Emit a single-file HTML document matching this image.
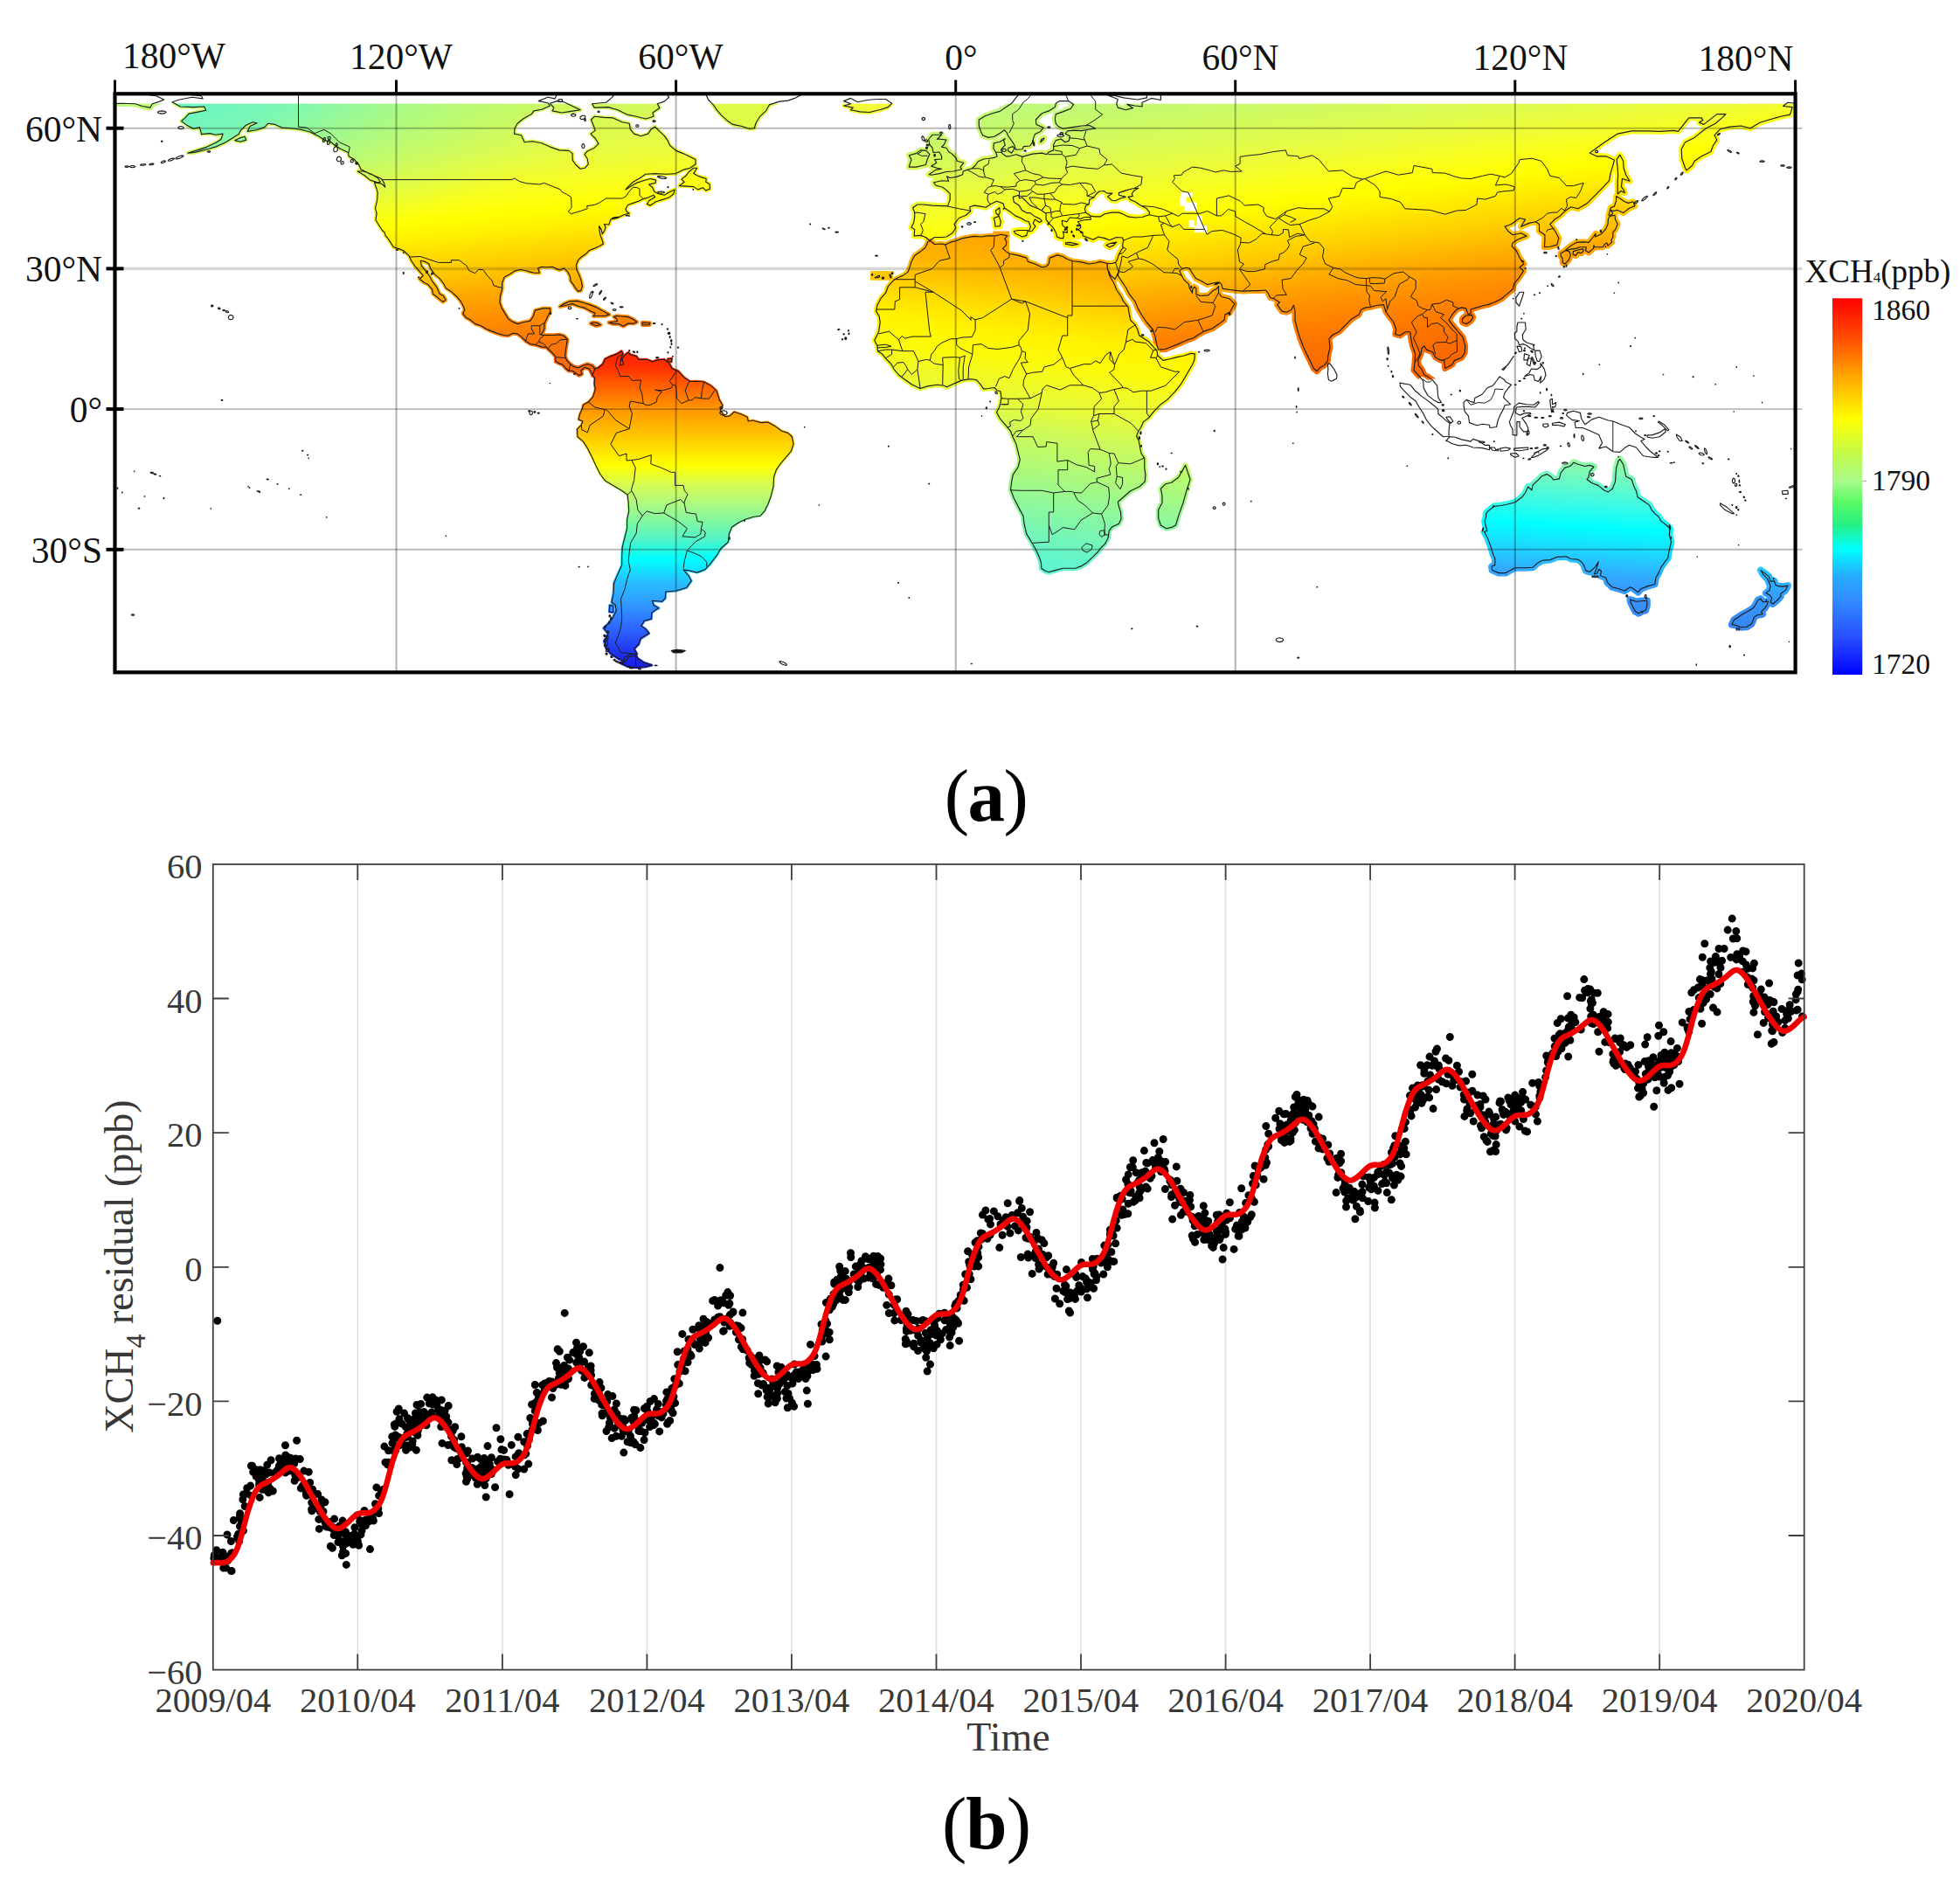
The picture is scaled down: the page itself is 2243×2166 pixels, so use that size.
<!DOCTYPE html><html><head><meta charset="utf-8"><title>XCH4</title><style>html,body{margin:0;padding:0;background:#fff}svg{display:block}text{font-family:"Liberation Serif",serif}</style></head><body>
<svg width="2243" height="2166" viewBox="0 0 2243 2166">
<defs>
<linearGradient id="gNA" gradientUnits="userSpaceOnUse" x1="514.5" y1="-40.8" x2="605.5" y2="869.9">
<stop offset="0.1353" stop-color="#c0fa6c"/>
<stop offset="0.1706" stop-color="#c8fa64"/>
<stop offset="0.2059" stop-color="#d4fa58"/>
<stop offset="0.2353" stop-color="#e1fb4b"/>
<stop offset="0.2647" stop-color="#eefc37"/>
<stop offset="0.2941" stop-color="#fafe19"/>
<stop offset="0.3176" stop-color="#ffff00"/>
<stop offset="0.3412" stop-color="#ffee00"/>
<stop offset="0.3647" stop-color="#ffd700"/>
<stop offset="0.3882" stop-color="#ffc300"/>
<stop offset="0.4118" stop-color="#ffaa00"/>
<stop offset="0.4412" stop-color="#ff9100"/>
<stop offset="0.4706" stop-color="#fc7d05"/>
<stop offset="0.5118" stop-color="#f8690c"/>
</linearGradient>
<linearGradient id="gSA" gradientUnits="userSpaceOnUse" x1="1000.0" y1="-40.8" x2="1000.0" y2="869.9">
<stop offset="0.4824" stop-color="#ff1e00"/>
<stop offset="0.5059" stop-color="#ff3000"/>
<stop offset="0.5294" stop-color="#ff6000"/>
<stop offset="0.5588" stop-color="#ff9600"/>
<stop offset="0.5882" stop-color="#ffc000"/>
<stop offset="0.6118" stop-color="#ffe400"/>
<stop offset="0.6294" stop-color="#ffff00"/>
<stop offset="0.6529" stop-color="#d8fc50"/>
<stop offset="0.6765" stop-color="#b0fa80"/>
<stop offset="0.7000" stop-color="#80f8a0"/>
<stop offset="0.7235" stop-color="#50f4c8"/>
<stop offset="0.7471" stop-color="#00ffff"/>
<stop offset="0.7765" stop-color="#28beff"/>
<stop offset="0.8059" stop-color="#3296ff"/>
<stop offset="0.8353" stop-color="#2c64ff"/>
<stop offset="0.8647" stop-color="#2032f0"/>
<stop offset="0.8882" stop-color="#1818e0"/>
</linearGradient>
<linearGradient id="gAF" gradientUnits="userSpaceOnUse" x1="1249.2" y1="-40.8" x2="1130.8" y2="869.9">
<stop offset="0.3353" stop-color="#ffa500"/>
<stop offset="0.3588" stop-color="#ffa800"/>
<stop offset="0.3824" stop-color="#ffb000"/>
<stop offset="0.4118" stop-color="#ffc400"/>
<stop offset="0.4412" stop-color="#ffe000"/>
<stop offset="0.4706" stop-color="#fff400"/>
<stop offset="0.5000" stop-color="#fcfa0a"/>
<stop offset="0.5294" stop-color="#f0fa28"/>
<stop offset="0.5588" stop-color="#e4fa3c"/>
<stop offset="0.5882" stop-color="#cdfa5a"/>
<stop offset="0.6176" stop-color="#b9fa6e"/>
<stop offset="0.6471" stop-color="#a5f984"/>
<stop offset="0.6765" stop-color="#8ef89c"/>
<stop offset="0.7059" stop-color="#7af6b2"/>
<stop offset="0.7353" stop-color="#66f5c8"/>
<stop offset="0.7647" stop-color="#5af5d7"/>
</linearGradient>
<linearGradient id="gEU" gradientUnits="userSpaceOnUse" x1="1645.4" y1="-40.8" x2="1754.6" y2="869.9">
<stop offset="0.1176" stop-color="#bffa78"/>
<stop offset="0.1529" stop-color="#cdfa64"/>
<stop offset="0.1882" stop-color="#defb4e"/>
<stop offset="0.2176" stop-color="#eefc37"/>
<stop offset="0.2471" stop-color="#fafe19"/>
<stop offset="0.2706" stop-color="#ffff00"/>
<stop offset="0.2941" stop-color="#ffee00"/>
<stop offset="0.3176" stop-color="#ffda00"/>
<stop offset="0.3412" stop-color="#ffc600"/>
<stop offset="0.3647" stop-color="#ffaf00"/>
<stop offset="0.3941" stop-color="#ff9600"/>
<stop offset="0.4235" stop-color="#ff8200"/>
<stop offset="0.4529" stop-color="#fc7300"/>
<stop offset="0.4824" stop-color="#fa6900"/>
<stop offset="0.5412" stop-color="#fa6400"/>
</linearGradient>
<linearGradient id="gAS" gradientUnits="userSpaceOnUse" x1="1645.4" y1="-40.8" x2="1754.6" y2="869.9">
<stop offset="0.1176" stop-color="#bffa78"/>
<stop offset="0.1529" stop-color="#cdfa64"/>
<stop offset="0.1882" stop-color="#defb4e"/>
<stop offset="0.2176" stop-color="#eefc37"/>
<stop offset="0.2471" stop-color="#fafe19"/>
<stop offset="0.2706" stop-color="#ffff00"/>
<stop offset="0.2941" stop-color="#ffee00"/>
<stop offset="0.3176" stop-color="#ffda00"/>
<stop offset="0.3412" stop-color="#ffc600"/>
<stop offset="0.3647" stop-color="#ffaf00"/>
<stop offset="0.3941" stop-color="#ff9600"/>
<stop offset="0.4235" stop-color="#ff8200"/>
<stop offset="0.4529" stop-color="#fc7300"/>
<stop offset="0.4824" stop-color="#fa6900"/>
<stop offset="0.5412" stop-color="#fa6400"/>
</linearGradient>
<linearGradient id="gAU" gradientUnits="userSpaceOnUse" x1="1837.3" y1="-40.8" x2="1782.7" y2="869.9">
<stop offset="0.6118" stop-color="#96faa0"/>
<stop offset="0.6235" stop-color="#91faa5"/>
<stop offset="0.6471" stop-color="#6efac3"/>
<stop offset="0.6765" stop-color="#3cfae6"/>
<stop offset="0.7059" stop-color="#00ffff"/>
<stop offset="0.7353" stop-color="#1ed7ff"/>
<stop offset="0.7647" stop-color="#32aaff"/>
<stop offset="0.7882" stop-color="#3796fa"/>
<stop offset="0.8118" stop-color="#378af5"/>
<stop offset="0.8353" stop-color="#3782f5"/>
</linearGradient>
<radialGradient id="gAK" gradientUnits="userSpaceOnUse" cx="150" cy="95" r="540" gradientTransform="translate(150,95) scale(1,0.36) translate(-150,-95)"><stop offset="0" stop-color="#5af5d2" stop-opacity="1"/><stop offset="0.35" stop-color="#6ef7c3" stop-opacity="0.85"/><stop offset="0.7" stop-color="#96fa9b" stop-opacity="0.36"/><stop offset="1" stop-color="#b4fa78" stop-opacity="0"/></radialGradient>
<linearGradient id="gEUo" gradientUnits="userSpaceOnUse" x1="1030" y1="0" x2="1403" y2="0"><stop offset="0" stop-color="#8cfa96" stop-opacity="0.36"/><stop offset="0.5" stop-color="#8cfa96" stop-opacity="0.30"/><stop offset="1" stop-color="#8cfa96" stop-opacity="0"/></linearGradient>
<clipPath id="euclip"><rect x="934" y="118.8" width="480" height="159.1"/></clipPath>
<linearGradient id="cbar" x1="0" y1="0" x2="0" y2="1">
<stop offset="0" stop-color="#ff0000"/>
<stop offset="0.11" stop-color="#ff5000"/>
<stop offset="0.21" stop-color="#ffa800"/>
<stop offset="0.32" stop-color="#ffff00"/>
<stop offset="0.41" stop-color="#c4fa46"/>
<stop offset="0.487" stop-color="#a8fa8c"/>
<stop offset="0.54" stop-color="#5cfa64"/>
<stop offset="0.6" stop-color="#28f082"/>
<stop offset="0.666" stop-color="#00ffff"/>
<stop offset="0.74" stop-color="#28aaff"/>
<stop offset="0.8" stop-color="#328cff"/>
<stop offset="0.9" stop-color="#2850ff"/>
<stop offset="1" stop-color="#0000ff"/>
</linearGradient>
<clipPath id="mapclip"><rect x="131.5" y="107.3" width="1923.1" height="662.0"/></clipPath>
<clipPath id="fillclip"><rect x="131.5" y="118.8" width="1923.1" height="650.5"/></clipPath>
</defs>
<g clip-path="url(#fillclip)">
<path d="M205.4 95.8L207.0 101.7L216.1 105.4L220.4 108.6L230.5 109.7L232.1 112.9L219.8 111.3L205.4 114.0L196.9 116.7L206.5 122.0L221.4 122.6L233.7 122.0L235.8 126.3L227.8 127.9L216.1 130.1L211.8 134.9L207.6 138.6L213.4 142.9L221.4 147.2L228.4 145.6L230.0 151.0L230.5 153.6L240.1 152.6L246.5 154.2L255.1 153.1L252.9 159.5L247.0 163.3L236.9 168.1L225.7 171.9L215.0 175.1L223.0 174.5L230.5 172.4L239.0 170.3L248.1 167.6L258.3 162.8L265.2 158.5L273.2 153.6L275.3 149.4L281.2 143.5L289.2 139.7L294.0 140.8L286.0 144.5L283.3 150.4L293.5 148.8L302.5 145.6L306.8 141.3L314.8 142.4L322.8 146.1L333.5 146.7L344.1 148.3L354.8 151.0L364.4 155.8L370.8 160.1L378.8 162.8L384.1 167.0L390.5 170.8L398.6 174.5L399.1 178.8L405.5 182.6L410.8 188.5L413.0 193.8L421.5 198.1L427.9 200.8L436.4 204.5L439.6 209.4L440.7 214.2L437.0 210.4L428.4 208.8L431.1 216.3L432.2 220.6L431.6 229.2L429.5 238.3L431.1 244.2L430.0 251.7L433.2 257.0L437.5 263.5L440.2 266.1L441.2 269.9L443.4 272.0L446.6 276.9L450.3 282.7L457.2 284.9L462.0 287.0L467.9 292.4L471.1 298.8L475.4 305.2L480.2 310.6L484.4 315.4L480.2 319.2L485.5 323.5L489.8 325.6L494.6 331.0L495.6 336.3L501.5 341.1L506.8 345.4L510.0 343.3L507.4 338.5L503.1 336.3L499.9 328.8L495.1 322.4L491.9 316.5L487.6 310.6L482.3 304.2L481.2 298.3L486.6 299.4L490.8 302.0L493.0 307.9L497.8 314.4L503.1 318.6L507.4 324.0L510.6 329.9L516.4 333.6L522.8 339.5L526.6 343.8L529.8 349.2L531.9 354.5L529.8 358.8L533.5 363.6L537.8 365.8L544.2 370.6L550.6 372.7L555.9 376.0L561.8 378.6L568.7 381.3L576.2 383.5L581.5 384.0L586.9 381.3L592.2 381.9L597.5 386.1L601.8 390.4L607.1 393.6L613.5 394.7L619.9 396.9L625.3 397.4L626.9 399.0L631.7 403.3L635.9 408.1L635.9 413.5L639.7 415.6L643.9 417.2L647.1 421.0L650.9 424.2L655.1 424.2L658.9 426.9L662.6 429.5L665.8 427.9L664.7 424.2L669.0 420.4L674.4 422.0L676.5 425.8L678.1 429.5L680.8 422.0L677.6 418.3L672.2 416.7L667.4 418.3L661.5 421.0L656.2 419.4L651.9 416.1L648.7 412.4L646.6 408.1L647.1 401.7L648.2 395.2L649.3 388.3L645.5 384.5L640.2 382.9L633.8 383.5L626.3 383.5L621.5 383.5L619.4 382.9L622.6 377.0L623.1 370.1L626.3 363.1L629.5 356.7L629.5 352.9L621.5 352.9L612.5 355.1L610.3 362.0L606.6 367.4L600.2 368.5L592.2 370.6L585.8 367.9L581.5 364.7L578.3 359.4L574.1 352.4L571.9 346.0L572.5 338.5L574.6 331.0L574.6 323.5L577.3 317.0L584.2 313.3L589.0 310.1L594.9 308.5L601.3 309.5L606.6 311.1L611.9 312.2L617.3 312.2L615.7 306.9L619.9 305.2L625.3 305.8L632.2 305.2L637.5 307.9L640.7 309.0L645.5 306.9L649.8 311.1L652.5 316.5L653.0 321.3L656.2 325.6L658.3 329.4L661.5 333.1L664.7 332.6L666.3 327.7L665.3 321.9L663.1 315.4L659.9 308.5L659.4 303.1L661.5 297.7L665.3 294.0L670.1 290.8L674.4 286.5L679.7 284.4L685.6 281.7L690.4 279.0L688.8 273.6L687.2 269.9L686.1 264.5L685.6 258.6L688.2 262.9L689.3 267.7L692.0 263.5L693.0 259.7L691.4 256.5L696.8 257.0L698.9 251.1L704.2 249.5L709.6 247.9L713.8 245.8L717.6 244.7L720.2 244.2L717.0 242.0L716.0 238.8L718.6 234.5L724.5 232.4L730.9 230.2L736.2 227.6L741.6 226.0L748.0 223.3L749.6 225.4L742.6 229.7L740.5 233.5L744.2 235.1L750.6 230.8L757.6 228.6L765.6 226.0L770.9 221.7L772.0 216.9L766.6 219.5L760.2 223.3L753.3 221.7L748.5 219.0L746.9 214.7L742.6 211.0L750.1 209.4L750.6 206.1L744.2 204.5L736.2 206.7L728.2 209.4L721.3 213.6L716.0 216.9L719.2 213.1L724.5 208.3L732.0 204.0L738.9 199.2L749.6 198.6L762.9 199.2L773.6 198.6L781.6 194.4L789.6 192.2L796.0 187.9L796.0 182.6L788.5 178.8L781.6 175.6L773.6 172.4L766.6 166.5L764.0 160.6L760.2 155.3L754.9 150.4L749.6 145.1L745.3 147.8L741.6 153.1L733.6 155.8L725.6 153.1L721.3 147.8L720.2 141.3L712.2 139.7L701.6 134.9L690.9 134.4L680.2 133.3L676.5 137.0L679.2 143.5L681.3 149.4L676.0 153.1L681.3 158.5L685.0 164.4L680.2 169.2L672.2 172.9L669.0 176.7L672.2 181.5L673.3 187.9L669.5 192.2L664.2 193.3L658.9 188.5L655.1 183.1L655.1 175.6L650.9 172.4L640.2 171.9L629.5 168.1L619.9 163.8L609.3 161.7L600.2 162.8L596.5 154.7L588.5 153.1L589.0 146.7L592.2 141.3L598.6 136.0L608.2 130.6L610.9 126.9L619.9 125.3L629.5 121.0L626.9 117.8L616.2 115.6L626.9 111.3L634.9 112.9L637.5 108.1L645.5 101.1L656.2 95.8L560.2 90.4L346.8 90.4Z" fill="url(#gNA)" stroke="url(#gNA)" stroke-width="4.5" stroke-linejoin="round"/>
<path d="M205.4 95.8L207.0 101.7L216.1 105.4L220.4 108.6L230.5 109.7L232.1 112.9L219.8 111.3L205.4 114.0L196.9 116.7L206.5 122.0L221.4 122.6L233.7 122.0L235.8 126.3L227.8 127.9L216.1 130.1L211.8 134.9L207.6 138.6L213.4 142.9L221.4 147.2L228.4 145.6L230.0 151.0L230.5 153.6L240.1 152.6L246.5 154.2L255.1 153.1L252.9 159.5L247.0 163.3L236.9 168.1L225.7 171.9L215.0 175.1L223.0 174.5L230.5 172.4L239.0 170.3L248.1 167.6L258.3 162.8L265.2 158.5L273.2 153.6L275.3 149.4L281.2 143.5L289.2 139.7L294.0 140.8L286.0 144.5L283.3 150.4L293.5 148.8L302.5 145.6L306.8 141.3L314.8 142.4L322.8 146.1L333.5 146.7L344.1 148.3L354.8 151.0L364.4 155.8L370.8 160.1L378.8 162.8L384.1 167.0L390.5 170.8L398.6 174.5L399.1 178.8L405.5 182.6L410.8 188.5L413.0 193.8L421.5 198.1L427.9 200.8L436.4 204.5L439.6 209.4L440.7 214.2L437.0 210.4L428.4 208.8L431.1 216.3L432.2 220.6L431.6 229.2L429.5 238.3L431.1 244.2L430.0 251.7L433.2 257.0L437.5 263.5L440.2 266.1L441.2 269.9L443.4 272.0L446.6 276.9L450.3 282.7L457.2 284.9L462.0 287.0L467.9 292.4L471.1 298.8L475.4 305.2L480.2 310.6L484.4 315.4L480.2 319.2L485.5 323.5L489.8 325.6L494.6 331.0L495.6 336.3L501.5 341.1L506.8 345.4L510.0 343.3L507.4 338.5L503.1 336.3L499.9 328.8L495.1 322.4L491.9 316.5L487.6 310.6L482.3 304.2L481.2 298.3L486.6 299.4L490.8 302.0L493.0 307.9L497.8 314.4L503.1 318.6L507.4 324.0L510.6 329.9L516.4 333.6L522.8 339.5L526.6 343.8L529.8 349.2L531.9 354.5L529.8 358.8L533.5 363.6L537.8 365.8L544.2 370.6L550.6 372.7L555.9 376.0L561.8 378.6L568.7 381.3L576.2 383.5L581.5 384.0L586.9 381.3L592.2 381.9L597.5 386.1L601.8 390.4L607.1 393.6L613.5 394.7L619.9 396.9L625.3 397.4L626.9 399.0L631.7 403.3L635.9 408.1L635.9 413.5L639.7 415.6L643.9 417.2L647.1 421.0L650.9 424.2L655.1 424.2L658.9 426.9L662.6 429.5L665.8 427.9L664.7 424.2L669.0 420.4L674.4 422.0L676.5 425.8L678.1 429.5L680.8 422.0L677.6 418.3L672.2 416.7L667.4 418.3L661.5 421.0L656.2 419.4L651.9 416.1L648.7 412.4L646.6 408.1L647.1 401.7L648.2 395.2L649.3 388.3L645.5 384.5L640.2 382.9L633.8 383.5L626.3 383.5L621.5 383.5L619.4 382.9L622.6 377.0L623.1 370.1L626.3 363.1L629.5 356.7L629.5 352.9L621.5 352.9L612.5 355.1L610.3 362.0L606.6 367.4L600.2 368.5L592.2 370.6L585.8 367.9L581.5 364.7L578.3 359.4L574.1 352.4L571.9 346.0L572.5 338.5L574.6 331.0L574.6 323.5L577.3 317.0L584.2 313.3L589.0 310.1L594.9 308.5L601.3 309.5L606.6 311.1L611.9 312.2L617.3 312.2L615.7 306.9L619.9 305.2L625.3 305.8L632.2 305.2L637.5 307.9L640.7 309.0L645.5 306.9L649.8 311.1L652.5 316.5L653.0 321.3L656.2 325.6L658.3 329.4L661.5 333.1L664.7 332.6L666.3 327.7L665.3 321.9L663.1 315.4L659.9 308.5L659.4 303.1L661.5 297.7L665.3 294.0L670.1 290.8L674.4 286.5L679.7 284.4L685.6 281.7L690.4 279.0L688.8 273.6L687.2 269.9L686.1 264.5L685.6 258.6L688.2 262.9L689.3 267.7L692.0 263.5L693.0 259.7L691.4 256.5L696.8 257.0L698.9 251.1L704.2 249.5L709.6 247.9L713.8 245.8L717.6 244.7L720.2 244.2L717.0 242.0L716.0 238.8L718.6 234.5L724.5 232.4L730.9 230.2L736.2 227.6L741.6 226.0L748.0 223.3L749.6 225.4L742.6 229.7L740.5 233.5L744.2 235.1L750.6 230.8L757.6 228.6L765.6 226.0L770.9 221.7L772.0 216.9L766.6 219.5L760.2 223.3L753.3 221.7L748.5 219.0L746.9 214.7L742.6 211.0L750.1 209.4L750.6 206.1L744.2 204.5L736.2 206.7L728.2 209.4L721.3 213.6L716.0 216.9L719.2 213.1L724.5 208.3L732.0 204.0L738.9 199.2L749.6 198.6L762.9 199.2L773.6 198.6L781.6 194.4L789.6 192.2L796.0 187.9L796.0 182.6L788.5 178.8L781.6 175.6L773.6 172.4L766.6 166.5L764.0 160.6L760.2 155.3L754.9 150.4L749.6 145.1L745.3 147.8L741.6 153.1L733.6 155.8L725.6 153.1L721.3 147.8L720.2 141.3L712.2 139.7L701.6 134.9L690.9 134.4L680.2 133.3L676.5 137.0L679.2 143.5L681.3 149.4L676.0 153.1L681.3 158.5L685.0 164.4L680.2 169.2L672.2 172.9L669.0 176.7L672.2 181.5L673.3 187.9L669.5 192.2L664.2 193.3L658.9 188.5L655.1 183.1L655.1 175.6L650.9 172.4L640.2 171.9L629.5 168.1L619.9 163.8L609.3 161.7L600.2 162.8L596.5 154.7L588.5 153.1L589.0 146.7L592.2 141.3L598.6 136.0L608.2 130.6L610.9 126.9L619.9 125.3L629.5 121.0L626.9 117.8L616.2 115.6L626.9 111.3L634.9 112.9L637.5 108.1L645.5 101.1L656.2 95.8L560.2 90.4L346.8 90.4Z" fill="url(#gAK)"/>
<path d="M805.6 93.1L816.3 99.5L807.7 108.1L810.9 114.5L816.3 119.9L820.0 125.3L825.3 131.7L832.3 138.1L838.7 142.4L849.3 144.5L857.3 147.2L863.2 146.7L865.3 140.3L869.6 133.3L876.5 126.9L880.3 119.9L892.0 116.1L901.6 115.1L909.6 112.4L920.3 106.5L944.3 102.2L965.6 95.8L965.6 82.4L805.6 82.4Z" fill="#dcfc46" stroke="#dcfc46" stroke-width="5" stroke-linejoin="round"/>
<path d="M765.6 111.3L760.2 116.1L752.2 118.8L754.9 123.6L746.9 129.0L748.0 133.3L738.9 136.0L728.2 133.3L717.6 131.1L706.9 125.8L696.2 122.6L680.2 123.1L677.6 118.8L693.6 117.2L700.0 111.9L704.2 106.5L698.9 101.1L688.2 95.8L720.2 90.4L752.2 103.8L762.9 107.6Z" fill="url(#gNA)" stroke="url(#gNA)" stroke-width="4.5" stroke-linejoin="round"/>
<path d="M629.5 118.3L637.5 115.6L645.5 116.7L656.2 122.0L664.2 125.8L653.5 127.4L642.9 129.0L632.2 126.9L633.8 123.1Z" fill="url(#gNA)" stroke="url(#gNA)" stroke-width="4.5" stroke-linejoin="round"/>
<path d="M777.3 212.6L783.2 208.3L780.0 205.1L784.8 201.3L788.5 196.5L793.8 192.2L797.6 192.2L793.8 198.6L797.6 200.8L802.9 202.9L808.2 204.5L807.7 208.3L812.0 210.4L812.5 216.3L807.7 217.9L804.5 214.7L798.6 216.9L793.8 213.6L785.3 213.1Z" fill="url(#gNA)" stroke="url(#gNA)" stroke-width="4.5" stroke-linejoin="round"/>
<path d="M409.2 196.0L417.2 200.8L423.6 206.1L432.2 208.8L435.4 208.3L432.2 203.5L425.2 199.2L416.2 196.0Z" fill="url(#gNA)" stroke="url(#gNA)" stroke-width="4.5" stroke-linejoin="round"/>
<path d="M409.2 196.0L417.2 200.8L423.6 206.1L432.2 208.8L435.4 208.3L432.2 203.5L425.2 199.2L416.2 196.0Z" fill="url(#gAK)"/>
<path d="M268.9 160.6L275.3 162.2L281.7 160.1L280.1 156.3L274.3 157.9Z" fill="url(#gNA)" stroke="url(#gNA)" stroke-width="4.5" stroke-linejoin="round"/>
<path d="M268.9 160.6L275.3 162.2L281.7 160.1L280.1 156.3L274.3 157.9Z" fill="url(#gAK)"/>
<path d="M640.7 350.8L645.5 347.6L651.9 344.9L660.5 344.4L667.9 346.5L674.9 348.6L682.9 351.9L689.3 355.6L697.3 359.9L692.0 361.5L682.9 361.5L679.2 361.8L681.3 358.3L676.0 356.1L669.5 352.4L661.5 350.2L655.1 347.6L648.2 349.2Z" fill="url(#gNA)" stroke="url(#gNA)" stroke-width="4.5" stroke-linejoin="round"/>
<path d="M696.8 369.0L701.6 370.6L708.0 370.6L713.3 373.3L718.6 370.1L725.6 370.1L728.8 368.5L724.5 365.2L718.6 362.6L711.2 362.0L705.3 361.5L702.6 362.6L705.8 364.7L706.4 367.9L701.0 368.5Z" fill="url(#gNA)" stroke="url(#gNA)" stroke-width="4.5" stroke-linejoin="round"/>
<path d="M676.0 370.1L681.8 372.7L687.2 371.7L683.4 369.5L678.6 369.0Z" fill="url(#gNA)" stroke="url(#gNA)" stroke-width="4.5" stroke-linejoin="round"/>
<path d="M735.2 371.7L743.2 371.7L743.7 369.5L735.2 369.0Z" fill="url(#gNA)" stroke="url(#gNA)" stroke-width="4.5" stroke-linejoin="round"/>
<path d="M678.1 429.5L680.8 432.7L680.2 438.6L681.3 445.6L678.6 454.2L673.3 460.1L667.4 463.3L666.3 468.1L663.7 473.5L662.1 479.9L666.9 482.0L665.3 486.3L660.5 491.1L661.0 499.7L667.4 505.1L672.2 512.6L677.6 523.3L681.8 532.4L686.6 542.0L692.5 550.1L701.6 555.4L712.2 561.8L718.1 566.1L719.2 575.2L719.7 584.9L717.6 594.5L717.6 604.7L714.9 615.4L712.2 626.1L711.7 636.8L711.7 646.5L706.9 657.2L702.6 667.4L702.1 678.6L700.0 689.3L704.2 692.0L705.3 698.5L701.6 706.5L696.2 713.5L690.9 718.8L696.2 725.2L691.4 733.3L693.6 741.3L698.9 747.7L706.9 753.1L713.8 756.3L715.4 751.5L722.9 748.3L728.8 748.5L725.6 742.4L730.9 737.0L733.0 730.6L742.6 724.7L738.9 719.9L733.6 716.1L737.3 710.2L745.3 708.1L745.8 701.1L750.6 697.4L753.8 695.8L748.0 692.6L746.4 687.2L757.6 688.3L761.3 684.5L761.8 677.0L773.6 676.0L785.8 672.2L791.2 664.7L788.0 658.8L782.1 651.8L788.5 652.9L797.6 655.1L806.6 651.8L813.1 644.9L820.5 635.2L824.8 627.7L833.3 620.2L834.4 610.6L837.6 603.1L845.6 597.7L853.6 594.0L862.7 591.3L870.1 590.2L874.9 584.9L879.2 576.3L882.4 567.2L885.1 556.5L885.6 545.8L888.3 537.7L893.6 530.2L898.9 523.8L905.3 516.3L908.0 508.3L906.4 499.7L901.6 495.4L894.7 493.3L886.7 487.4L878.7 483.1L870.7 483.6L861.6 481.0L856.3 482.0L855.2 477.2L848.3 474.0L840.3 471.3L834.9 476.1L829.6 476.7L824.3 469.7L826.9 463.8L823.2 457.4L820.0 447.2L813.6 441.3L805.6 437.0L797.6 436.2L789.6 436.5L782.6 431.7L776.2 424.7L769.3 422.0L765.6 415.6L760.2 411.3L752.2 411.9L746.9 414.0L740.0 411.3L730.9 411.3L728.2 407.6L721.8 406.0L719.2 403.3L714.9 406.5L711.7 410.8L713.8 416.7L709.6 418.3L710.6 410.8L712.8 404.9L711.2 401.7L705.3 405.4L698.9 407.6L692.5 410.8L689.8 416.7L684.5 421.0L680.8 422.0Z" fill="url(#gSA)" stroke="url(#gSA)" stroke-width="3" stroke-linejoin="round"/>
<path d="M727.7 749.9L718.6 752.0L716.0 756.8L709.6 758.4L717.6 762.2L728.2 763.8L738.9 762.7L745.8 761.1L737.3 758.4L729.8 753.6Z" fill="url(#gSA)" stroke="url(#gSA)" stroke-width="3" stroke-linejoin="round"/>
<path d="M768.2 744.5L774.6 743.4L784.2 744.5L780.0 746.7L770.9 746.7Z" fill="#111111" stroke="#111111" stroke-width="1" stroke-linejoin="round"/>
<path d="M697.8 692.6L701.6 693.1L701.6 700.6L697.3 700.1Z" fill="url(#gSA)" stroke="url(#gSA)" stroke-width="3" stroke-linejoin="round"/>
<path d="M763.4 414.0L768.2 414.0L768.8 410.2L764.5 410.8Z" fill="url(#gSA)" stroke="url(#gSA)" stroke-width="3" stroke-linejoin="round"/>
<path d="M1200.3 82.4L1171.0 102.8L1163.0 111.3L1157.7 118.3L1151.3 122.6L1144.3 127.4L1136.3 129.5L1127.3 132.8L1120.3 137.0L1120.3 144.0L1122.5 150.4L1124.6 154.7L1131.0 157.4L1137.9 156.3L1144.9 152.0L1149.7 148.8L1152.3 152.0L1153.9 155.8L1157.1 160.1L1160.9 166.0L1161.9 169.7L1163.0 171.3L1169.9 170.8L1171.5 167.6L1178.5 167.0L1181.7 162.8L1182.7 157.9L1184.3 153.6L1190.7 150.4L1193.9 146.1L1185.9 142.4L1185.4 137.0L1189.1 132.8L1192.9 129.5L1200.3 126.9L1207.3 122.6L1208.3 118.3L1212.6 115.6L1222.7 115.6L1228.6 119.4L1225.4 124.2L1216.3 127.9L1208.3 130.6L1207.3 136.0L1208.3 141.3L1211.0 144.5L1216.3 147.2L1227.0 145.6L1237.7 144.0L1246.8 143.5L1253.7 146.9L1245.7 148.3L1237.7 149.6L1229.7 149.1L1221.7 149.9L1219.0 153.1L1224.3 155.8L1223.3 161.1L1219.0 162.8L1214.2 159.0L1208.3 160.6L1205.7 165.4L1205.7 171.9L1200.3 174.0L1197.7 176.7L1192.3 175.1L1181.7 176.1L1169.9 179.4L1163.0 176.7L1155.0 178.8L1151.3 178.8L1147.0 175.6L1145.4 171.3L1150.2 166.0L1148.6 160.6L1150.2 158.7L1144.3 162.2L1137.4 163.8L1136.9 169.7L1139.5 174.0L1141.1 178.8L1137.9 180.4L1131.0 181.5L1125.7 182.0L1119.3 184.7L1116.1 189.5L1112.3 192.8L1107.0 194.4L1102.2 196.0L1101.7 199.7L1094.7 202.4L1087.2 203.5L1083.5 201.9L1085.6 207.2L1077.6 206.7L1068.6 208.8L1070.7 212.0L1078.7 214.2L1083.0 217.4L1087.2 221.7L1087.2 228.6L1084.6 235.6L1077.6 235.6L1067.0 235.1L1056.3 234.0L1049.9 234.0L1044.6 237.7L1046.7 243.1L1046.7 248.5L1045.6 254.9L1043.0 260.2L1046.7 262.4L1046.2 269.9L1053.6 269.4L1059.5 271.5L1063.8 275.2L1069.6 271.5L1077.6 271.5L1083.0 271.0L1089.9 266.7L1093.7 260.8L1092.0 256.5L1097.4 249.5L1105.4 246.3L1110.7 241.5L1109.7 236.7L1115.0 235.1L1121.9 236.1L1128.3 237.2L1133.7 233.5L1140.6 230.2L1148.1 232.9L1149.7 238.3L1156.6 242.6L1161.9 246.9L1168.3 249.5L1173.7 252.7L1177.4 253.8L1179.5 259.2L1177.4 264.8L1180.6 264.5L1184.9 259.2L1182.2 255.4L1184.3 251.1L1189.7 254.4L1192.3 252.7L1189.7 250.1L1183.8 247.4L1179.0 243.6L1174.7 243.6L1169.4 240.4L1166.2 235.1L1160.3 231.3L1159.3 225.4L1165.7 223.3L1166.7 227.0L1169.9 226.0L1174.7 230.8L1179.0 235.1L1187.0 238.3L1192.3 241.0L1197.1 244.2L1197.1 251.1L1200.3 255.4L1204.6 259.7L1206.7 262.9L1208.9 267.2L1209.4 271.0L1213.7 272.6L1216.9 272.6L1217.4 268.3L1216.3 265.1L1221.7 266.1L1220.6 261.9L1215.8 257.6L1215.3 252.2L1220.6 253.8L1224.3 249.0L1232.3 249.5L1236.6 250.6L1240.4 248.7L1247.8 248.2L1248.4 251.1L1240.4 251.7L1233.4 253.8L1236.6 257.6L1236.6 260.8L1233.9 262.9L1238.8 266.1L1239.3 269.9L1244.1 271.5L1251.0 274.2L1256.9 271.0L1264.4 272.6L1269.7 274.7L1277.7 271.5L1284.6 272.0L1285.7 275.2L1284.6 280.6L1285.2 283.3L1283.0 286.5L1280.4 291.3L1278.8 296.7L1276.6 300.4L1272.4 301.5L1267.0 301.5L1267.3 307.4L1270.8 314.9L1276.1 319.4L1278.2 314.9L1280.4 310.1L1279.3 315.4L1283.0 320.8L1288.4 328.8L1292.6 336.9L1299.0 344.9L1302.2 352.9L1307.0 361.0L1312.4 369.0L1319.3 377.0L1322.0 385.1L1324.1 395.8L1325.7 400.1L1333.7 399.5L1341.7 396.3L1349.7 393.1L1357.7 389.4L1365.7 386.7L1372.1 382.4L1379.1 378.6L1387.1 376.0L1395.1 370.6L1400.9 366.3L1402.0 359.9L1407.3 357.7L1412.7 347.6L1406.8 341.7L1397.7 339.5L1394.5 334.7L1394.5 327.2L1392.4 330.4L1388.1 332.6L1382.8 337.9L1373.7 338.5L1368.9 336.9L1368.9 329.9L1366.8 328.3L1364.6 331.5L1364.6 335.2L1361.4 329.9L1360.4 325.1L1355.0 320.2L1352.4 315.4L1349.7 310.1L1352.9 307.4L1357.7 306.3L1361.4 307.4L1364.6 312.7L1368.4 318.6L1374.2 321.3L1381.7 325.6L1390.3 323.5L1395.1 322.9L1397.7 325.1L1399.3 330.4L1407.3 331.5L1416.4 332.6L1422.3 333.1L1432.4 332.6L1440.4 332.6L1448.4 332.0L1451.1 335.2L1453.7 340.6L1458.0 341.7L1464.4 346.0L1461.7 348.6L1467.1 356.1L1472.4 357.2L1477.7 354.5L1480.4 349.2L1482.0 355.6L1482.0 366.3L1484.7 377.0L1487.3 385.6L1491.1 395.8L1495.3 404.9L1500.1 414.5L1503.3 421.5L1507.1 424.7L1510.8 420.4L1515.1 418.3L1519.4 412.9L1519.9 406.5L1522.0 397.9L1521.0 387.7L1524.7 383.5L1532.7 379.2L1539.1 372.7L1547.1 364.7L1555.1 359.9L1557.8 354.0L1563.1 351.9L1568.4 351.3L1576.4 349.2L1583.4 348.6L1586.0 356.7L1589.8 362.0L1595.1 369.0L1597.8 377.0L1596.7 382.4L1602.0 384.0L1608.4 379.7L1613.8 379.7L1614.8 387.7L1616.4 395.8L1619.6 404.9L1619.1 414.5L1618.0 423.6L1624.4 430.6L1628.7 436.0L1629.2 444.0L1634.0 452.6L1640.4 457.4L1645.8 460.6L1649.5 460.6L1645.8 454.7L1645.2 447.7L1644.7 441.3L1639.4 434.9L1634.0 431.1L1629.8 429.0L1627.1 422.6L1623.4 418.3L1622.8 411.9L1626.0 404.9L1627.1 398.5L1629.8 395.8L1632.4 400.1L1639.4 402.7L1643.1 409.2L1648.4 411.9L1652.7 412.4L1653.8 421.5L1661.8 417.2L1664.5 412.4L1672.5 409.2L1676.2 403.8L1676.7 395.8L1674.1 386.1L1669.8 380.8L1663.4 373.3L1658.1 366.3L1662.3 359.4L1667.1 354.0L1672.5 351.9L1677.8 352.9L1679.9 359.4L1683.1 358.8L1683.1 354.0L1690.1 351.9L1699.1 349.2L1702.9 348.6L1709.8 346.0L1717.8 342.2L1724.2 336.9L1731.1 331.0L1732.7 324.5L1738.1 318.1L1743.4 310.1L1739.1 305.8L1743.9 302.0L1739.1 295.1L1735.4 287.0L1730.1 281.7L1731.1 277.9L1736.5 274.2L1747.1 269.9L1740.7 266.7L1731.1 268.8L1725.8 264.5L1722.1 259.2L1729.5 256.5L1739.1 249.5L1745.5 251.1L1740.7 259.2L1749.8 255.4L1757.3 253.8L1761.5 256.5L1761.5 264.5L1767.9 268.8L1767.9 275.2L1767.4 282.7L1773.8 282.2L1781.8 280.1L1783.9 272.6L1779.7 264.5L1773.8 256.5L1779.1 251.1L1785.5 246.9L1790.9 241.5L1797.8 236.7L1805.8 238.8L1816.5 232.4L1824.5 224.4L1832.5 216.3L1841.6 206.7L1843.2 197.6L1845.8 189.5L1847.4 183.1L1837.8 178.8L1827.2 178.8L1819.2 175.1L1827.2 169.2L1837.8 161.7L1851.2 153.1L1867.2 149.9L1885.8 149.9L1899.2 150.4L1915.2 149.4L1920.5 150.4L1930.1 138.1L1932.8 134.9L1947.2 134.9L1948.8 137.6L1944.5 140.3L1949.9 142.4L1964.8 130.6L1974.9 130.6L1971.2 134.4L1963.2 141.3L1952.5 146.7L1939.2 157.4L1928.5 162.8L1924.2 170.8L1924.8 181.5L1928.5 192.2L1930.1 194.9L1936.5 189.5L1939.2 184.2L1947.2 178.8L1957.9 173.5L1960.5 166.5L1964.8 160.1L1962.1 154.7L1968.5 147.8L1979.2 145.1L1992.5 144.0L2003.2 146.7L2013.9 140.3L2024.5 137.0L2037.9 133.3L2048.5 131.1L2051.2 122.6L2040.5 121.5L2045.9 117.2L2059.2 118.8L2059.2 82.4Z" fill="url(#gAS)" stroke="url(#gAS)" stroke-width="7" stroke-linejoin="round"/>
<path d="M128.1 118.8L138.8 118.3L154.8 118.8L162.8 121.5L171.8 123.1L174.5 118.8L182.5 116.1L187.8 114.0L178.8 109.7L162.8 107.6L144.1 102.8L128.1 99.0Z" fill="url(#gAS)" stroke="url(#gAS)" stroke-width="7" stroke-linejoin="round"/>
<path d="M1065.9 200.2L1075.0 198.6L1083.0 196.5L1091.0 196.0L1100.6 193.8L1099.0 191.1L1102.7 186.3L1095.3 184.2L1094.2 181.0L1089.4 176.1L1085.6 173.5L1083.0 169.2L1077.6 168.1L1080.3 165.4L1083.0 160.1L1075.0 159.0L1072.3 159.5L1077.6 154.2L1067.0 154.2L1062.7 159.5L1063.8 165.4L1067.0 169.2L1068.0 174.5L1075.0 174.0L1077.6 178.8L1077.6 182.0L1069.6 182.6L1071.8 186.3L1065.9 190.1L1072.3 192.2L1077.6 193.3L1070.7 194.4L1063.2 199.7Z" fill="url(#gEU)" stroke="url(#gEU)" stroke-width="7" stroke-linejoin="round"/>
<path d="M1040.3 191.1L1048.3 191.1L1059.5 188.5L1061.1 182.6L1063.8 176.7L1060.0 172.4L1053.6 171.9L1048.3 175.6L1040.3 177.8L1043.0 182.6L1041.4 187.4Z" fill="url(#gEU)" stroke="url(#gEU)" stroke-width="7" stroke-linejoin="round"/>
<path d="M973.6 125.8L984.3 127.9L995.0 128.5L1008.3 125.3L1016.3 122.6L1020.6 118.3L1013.6 113.5L1003.0 113.5L992.3 114.5L981.6 116.7L973.6 112.4L965.6 115.6L973.6 118.8L965.6 121.0L976.3 123.1Z" fill="#f3fa37" stroke="#f3fa37" stroke-width="5" stroke-linejoin="round"/>
<path d="M1160.3 264.5L1165.7 263.5L1176.3 263.5L1174.7 269.4L1169.9 271.0L1161.9 267.2Z" fill="url(#gEU)" stroke="url(#gEU)" stroke-width="7" stroke-linejoin="round"/>
<path d="M1137.4 249.5L1143.3 247.4L1145.4 253.8L1144.3 258.6L1139.0 259.2L1138.5 253.8Z" fill="url(#gEU)" stroke="url(#gEU)" stroke-width="7" stroke-linejoin="round"/>
<path d="M1139.5 241.0L1143.8 237.7L1144.3 243.1L1142.7 246.3L1140.1 244.2Z" fill="url(#gEU)" stroke="url(#gEU)" stroke-width="7" stroke-linejoin="round"/>
<path d="M1219.5 277.9L1224.3 277.4L1233.9 279.5L1227.0 280.6L1219.5 279.3Z" fill="url(#gEU)" stroke="url(#gEU)" stroke-width="7" stroke-linejoin="round"/>
<path d="M1266.0 280.6L1269.7 278.7L1277.7 277.1L1274.5 280.6L1269.7 282.7Z" fill="url(#gEU)" stroke="url(#gEU)" stroke-width="7" stroke-linejoin="round"/>
<path d="M1153.4 172.4L1157.7 175.1L1160.9 170.3L1159.3 167.6L1153.9 169.2Z" fill="url(#gEU)" stroke="url(#gEU)" stroke-width="7" stroke-linejoin="round"/>
<path d="M1190.7 162.8L1193.9 160.1L1195.0 157.9L1191.8 159.5Z" fill="url(#gEU)" stroke="url(#gEU)" stroke-width="7" stroke-linejoin="round"/>
<path d="M1267.3 307.4L1267.0 301.5L1259.0 299.4L1253.7 301.0L1245.7 302.0L1237.7 299.9L1228.1 298.8L1221.7 296.7L1216.3 293.5L1209.9 291.9L1201.4 295.1L1200.3 302.0L1197.7 304.7L1192.3 305.8L1184.3 302.0L1176.3 299.4L1174.7 295.1L1165.7 292.4L1155.0 290.2L1151.3 287.6L1147.5 284.4L1151.3 280.6L1151.8 276.3L1149.7 273.1L1152.9 269.9L1148.1 268.8L1145.9 268.3L1139.0 269.9L1131.0 269.9L1123.0 271.0L1114.5 270.4L1101.7 272.6L1093.7 275.8L1088.3 276.9L1081.9 280.1L1077.6 279.0L1069.6 279.5L1064.8 275.8L1062.2 276.3L1059.0 283.3L1053.1 288.1L1046.7 292.4L1043.0 299.4L1041.4 304.7L1039.2 311.1L1033.9 314.9L1027.0 318.1L1023.2 320.2L1016.3 327.7L1013.6 335.2L1008.3 341.1L1004.0 349.2L1002.7 356.1L1006.2 362.0L1007.2 369.0L1005.6 379.7L1000.8 389.4L1004.0 395.8L1004.6 401.7L1009.4 404.9L1013.6 410.2L1020.0 416.7L1023.2 422.6L1028.6 429.0L1033.4 432.7L1044.0 440.2L1053.1 444.5L1061.6 441.9L1072.3 440.2L1080.3 441.3L1083.5 442.7L1093.7 438.1L1100.1 435.4L1107.0 434.1L1111.8 433.8L1117.7 434.9L1121.9 439.7L1125.7 445.1L1131.0 444.5L1137.9 443.5L1141.1 446.7L1144.9 447.7L1145.9 454.7L1144.9 461.7L1143.3 466.5L1140.6 471.8L1144.3 478.8L1149.7 485.2L1156.6 493.3L1158.7 499.2L1163.0 508.3L1164.6 515.2L1167.3 526.0L1165.1 534.5L1159.3 543.1L1157.7 551.1L1156.6 560.2L1160.3 569.9L1165.7 580.6L1171.0 590.2L1172.1 599.3L1174.7 610.6L1181.1 621.3L1185.4 628.8L1189.7 638.5L1191.3 643.3L1191.8 650.2L1196.6 653.5L1200.3 654.5L1208.3 652.4L1216.3 650.2L1227.0 650.2L1230.7 650.2L1237.7 647.6L1243.0 644.3L1251.0 636.8L1256.4 631.5L1259.0 627.7L1264.4 622.4L1268.1 615.4L1269.2 607.4L1272.4 603.1L1280.4 599.3L1283.0 594.0L1282.5 586.0L1280.4 579.5L1279.3 574.2L1285.7 568.8L1293.7 561.8L1304.4 556.5L1310.2 551.1L1310.8 543.1L1309.7 535.1L1309.7 524.3L1306.0 519.0L1304.4 511.0L1303.3 504.5L1300.6 499.2L1302.8 493.3L1305.4 489.5L1308.6 482.6L1315.0 477.7L1320.4 470.8L1328.4 462.7L1335.8 457.4L1344.4 448.3L1351.3 439.7L1356.1 431.7L1360.4 424.2L1364.6 417.2L1366.8 411.9L1367.3 404.9L1363.0 404.4L1355.0 407.0L1347.0 408.6L1339.0 410.8L1331.0 412.4L1324.6 406.5L1324.1 401.1L1320.4 397.4L1314.0 390.4L1307.0 386.1L1303.8 384.0L1301.7 377.0L1299.0 371.7L1293.7 366.3L1292.1 358.3L1291.0 351.3L1285.7 344.9L1283.0 339.5L1277.7 331.5L1274.5 323.5L1269.7 315.4Z" fill="url(#gAF)" stroke="url(#gAF)" stroke-width="6" stroke-linejoin="round"/>
<path d="M1356.6 532.4L1362.0 548.5L1360.4 553.8L1357.7 561.8L1354.0 575.2L1349.2 588.6L1345.4 601.0L1341.7 603.1L1334.8 604.7L1328.4 601.0L1325.7 592.9L1325.7 583.3L1330.0 575.2L1330.0 567.2L1328.4 559.2L1333.7 553.8L1340.6 552.2L1348.6 546.3L1352.4 539.9Z" fill="url(#gAF)" stroke="url(#gAF)" stroke-width="6" stroke-linejoin="round"/>
<path d="M1791.9 286.0L1797.8 281.1L1804.2 277.4L1811.2 276.9L1818.1 277.4L1823.4 271.0L1826.1 267.2L1825.6 271.0L1832.5 267.7L1837.8 261.9L1840.0 256.5L1840.5 250.6L1842.1 247.4L1848.0 246.3L1848.5 251.1L1851.2 256.5L1848.5 262.9L1845.8 265.6L1845.8 271.0L1843.7 275.2L1844.8 276.9L1840.0 281.1L1838.9 277.9L1836.2 279.5L1834.1 282.7L1830.9 282.7L1824.5 282.7L1824.0 280.6L1823.4 284.4L1818.1 288.9L1814.4 286.5L1815.4 282.7L1808.5 282.7L1803.2 284.4L1798.9 284.9L1792.5 286.5Z" fill="url(#gAS)" stroke="url(#gAS)" stroke-width="7" stroke-linejoin="round"/>
<path d="M1791.9 286.5L1796.2 288.1L1797.3 292.4L1795.1 297.7L1792.5 300.4L1790.9 302.0L1788.2 300.4L1788.2 295.6L1786.1 292.9L1786.1 289.7L1789.3 288.1Z" fill="url(#gAS)" stroke="url(#gAS)" stroke-width="7" stroke-linejoin="round"/>
<path d="M1800.5 287.6L1805.8 286.0L1811.7 284.9L1812.2 287.0L1809.6 289.7L1805.8 288.6L1803.2 292.4L1800.0 291.3Z" fill="url(#gAS)" stroke="url(#gAS)" stroke-width="7" stroke-linejoin="round"/>
<path d="M1841.0 246.3L1842.1 242.0L1843.2 237.7L1847.4 236.1L1849.6 229.7L1849.6 224.4L1853.8 227.0L1859.2 230.8L1863.4 232.4L1868.8 230.8L1870.9 235.6L1864.5 238.3L1857.6 243.6L1851.2 240.4L1845.8 241.5L1843.2 240.4L1845.8 244.2L1844.2 245.8Z" fill="url(#gAS)" stroke="url(#gAS)" stroke-width="7" stroke-linejoin="round"/>
<path d="M1851.2 222.2L1851.2 216.3L1851.2 208.3L1851.7 200.2L1851.2 192.2L1850.1 182.6L1853.8 177.2L1857.6 184.2L1858.1 192.2L1860.8 200.2L1865.0 207.2L1856.5 204.5L1855.4 213.6L1858.6 217.9L1859.2 220.6L1854.9 218.5Z" fill="url(#gAS)" stroke="url(#gAS)" stroke-width="7" stroke-linejoin="round"/>
<path d="M1673.5 364.7L1677.8 361.0L1684.2 360.4L1685.8 363.1L1683.1 367.4L1678.3 370.6L1673.5 369.0Z" fill="url(#gAS)" stroke="url(#gAS)" stroke-width="7" stroke-linejoin="round"/>
<path d="M1702.9 584.9L1709.8 579.5L1717.8 578.5L1726.3 576.8L1733.8 574.7L1741.8 568.8L1745.5 564.0L1748.7 557.0L1753.0 560.8L1754.1 554.9L1759.4 550.1L1764.7 544.7L1770.1 542.6L1775.4 545.8L1777.5 549.0L1784.5 547.9L1786.1 541.0L1790.9 535.1L1796.8 533.5L1801.0 529.2L1805.8 531.3L1813.8 533.5L1819.2 532.4L1824.0 534.0L1819.2 539.3L1818.1 545.8L1816.0 548.5L1821.8 552.7L1828.8 555.4L1836.2 561.3L1840.5 562.9L1845.3 559.2L1848.5 551.1L1849.0 543.1L1849.6 535.6L1852.2 527.0L1853.8 525.4L1857.6 531.3L1859.7 540.4L1860.8 545.2L1867.2 548.5L1869.8 556.5L1872.5 561.8L1874.1 568.8L1882.1 574.2L1887.4 577.9L1890.1 583.3L1893.8 587.6L1898.1 591.3L1900.8 596.1L1907.2 601.0L1910.9 604.7L1910.4 612.7L1912.5 620.2L1909.8 631.5L1908.8 638.5L1904.5 643.8L1900.8 649.2L1898.1 655.6L1894.9 661.0L1893.8 668.5L1885.8 670.6L1877.8 673.8L1874.6 677.6L1868.8 673.3L1865.6 671.7L1859.2 676.0L1851.2 673.3L1844.8 671.7L1839.4 666.3L1837.8 661.0L1831.4 658.8L1832.5 653.5L1829.8 651.3L1827.7 656.1L1824.5 656.7L1827.2 650.2L1829.3 642.7L1825.6 648.6L1819.2 654.5L1814.9 652.9L1812.2 646.0L1809.6 642.7L1805.8 640.1L1797.8 639.5L1792.5 636.8L1781.8 637.4L1773.8 640.6L1765.8 641.1L1759.4 644.3L1754.1 649.2L1744.5 649.7L1733.8 649.7L1728.5 652.4L1723.1 655.6L1715.1 655.6L1707.7 652.4L1707.1 648.1L1710.9 646.5L1710.9 639.5L1708.7 634.2L1707.1 628.8L1705.0 622.4L1702.3 615.4L1698.6 608.5L1701.8 607.4L1700.2 601.0L1699.1 596.7L1700.7 591.3L1700.7 587.6Z" fill="url(#gAU)" stroke="url(#gAU)" stroke-width="8" stroke-linejoin="round"/>
<path d="M1865.6 686.1L1872.5 688.3L1877.8 687.7L1884.8 687.2L1884.8 693.1L1883.2 698.5L1879.4 699.5L1875.2 701.7L1871.4 699.5L1868.8 694.7L1866.1 689.3Z" fill="url(#gAU)" stroke="url(#gAU)" stroke-width="8" stroke-linejoin="round"/>
<path d="M2014.9 652.4L2019.2 655.6L2024.5 659.9L2026.1 665.2L2030.4 664.7L2032.0 669.5L2035.2 670.6L2040.5 671.1L2045.9 670.1L2043.2 675.4L2037.9 679.2L2037.9 682.4L2034.1 686.7L2028.8 691.0L2026.1 689.3L2027.7 684.0L2025.6 681.3L2020.8 678.6L2025.1 675.4L2026.1 670.6L2024.5 666.3L2022.9 662.6L2017.6 657.2Z" fill="url(#gAU)" stroke="url(#gAU)" stroke-width="8" stroke-linejoin="round"/>
<path d="M2014.9 685.1L2017.6 688.8L2023.5 688.3L2021.9 692.6L2019.7 695.8L2015.5 700.1L2017.1 702.7L2011.2 703.8L2007.5 706.0L2005.9 710.8L2004.3 714.0L1998.9 717.2L1992.0 717.7L1987.2 715.6L1981.9 714.5L1984.5 709.2L1988.8 706.5L1992.5 703.8L2000.5 699.5L2006.9 695.2L2009.6 691.0L2011.7 686.7Z" fill="url(#gAU)" stroke="url(#gAU)" stroke-width="8" stroke-linejoin="round"/>
</g>
<path d="M1627.6 436.0L1632.4 439.2L1636.7 439.2L1639.4 438.1L1643.1 438.1L1648.4 452.0L1652.7 461.7L1645.8 463.8L1632.4 455.2L1627.1 444.0L1626.0 437.6Z" fill="#fff" stroke="#fff" stroke-width="9" stroke-linejoin="round" clip-path="url(#mapclip)"/>
<path d="M1248.9 247.4L1243.0 243.6L1241.4 239.4L1242.5 235.6L1246.2 233.5L1246.8 228.6L1251.6 226.0L1254.8 221.7L1258.0 219.0L1263.3 218.5L1267.0 221.1L1272.9 221.1L1267.6 224.9L1272.4 229.2L1276.6 229.7L1282.0 227.0L1288.4 225.4L1280.4 223.3L1280.4 220.6L1288.4 217.9L1296.4 215.8L1302.8 215.2L1298.0 217.9L1295.3 221.7L1296.4 224.4L1291.0 225.4L1293.7 228.6L1299.0 230.8L1305.4 235.1L1312.4 238.8L1315.6 243.1L1315.0 245.8L1307.0 248.5L1299.0 249.0L1291.0 247.9L1285.7 245.2L1280.4 243.1L1272.4 243.1L1264.4 244.7L1259.0 247.9L1253.2 247.9Z" fill="#fff" stroke="url(#gAS)" stroke-width="7" stroke-linejoin="round" clip-path="url(#fillclip)"/>
<path d="M1267.0 108.6L1279.3 113.5L1277.7 118.8L1279.3 123.1L1288.4 125.8L1296.4 123.6L1290.0 119.4L1299.0 121.0L1307.0 122.0L1307.0 117.2L1317.7 112.4L1328.4 114.5L1328.4 106.5L1328.4 98.5L1307.0 98.5L1312.4 107.6L1312.4 111.9L1301.7 114.0L1285.7 111.9L1275.0 109.2Z" fill="#fff" stroke="url(#gAS)" stroke-width="7" stroke-linejoin="round" clip-path="url(#fillclip)"/>
<g clip-path="url(#fillclip)">
<path d="M1159.3 224.4L1166.7 224.4L1174.7 232.4L1187.0 238.8L1197.1 244.2L1197.1 251.1L1192.3 252.7L1179.0 243.6L1169.4 240.4L1160.3 231.3Z" fill="url(#gAS)"/>
<path d="M1215.8 257.6L1221.7 251.1L1232.3 251.1L1236.6 260.8L1239.3 269.9L1235.0 274.2L1221.7 274.2L1216.9 272.6L1221.7 266.1Z" fill="url(#gAS)"/>
<path d="M1065.9 200.2L1068.6 208.3L1085.6 207.2L1102.2 196.0L1100.6 193.8L1083.0 196.5Z" fill="url(#gAS)"/>
<path d="M1061.1 182.6L1063.8 176.7L1068.0 174.5L1077.6 178.8L1077.6 182.0L1069.6 182.6L1071.8 186.3L1065.9 190.1L1059.5 188.5Z" fill="url(#gAS)"/>
<path d="M1145.4 171.3L1150.2 159.0L1157.1 160.1L1161.9 169.7L1163.0 171.3L1155.0 178.8L1147.0 175.6Z" fill="url(#gAS)"/>
<path d="M1147.5 284.4L1136.3 269.9L1136.3 264.5L1155.0 264.5L1155.0 290.2Z" fill="url(#gAF)"/>
<path d="M1232.3 249.5L1248.4 248.5L1248.4 251.7L1233.4 253.8Z" fill="url(#gAS)"/>
<path d="M1277.7 213.6L1304.4 213.6L1304.4 227.0L1277.7 227.0Z" fill="url(#gAS)"/>
<path d="M1341.7 215.2L1382.8 215.2L1382.8 272.6L1352.4 272.6L1352.4 248.5L1341.7 235.1Z" fill="url(#gAS)"/>
<path d="M741.6 226.0L749.6 225.4L742.6 229.7L740.5 233.5L736.2 227.6Z" fill="url(#gNA)"/>
<path d="M996.0 310.1L1022.2 310.1L1022.2 320.8L996.0 320.8Z" fill="#ffc800"/>
</g>
<rect x="1351.4" y="220.2" width="13.3" height="5.1" fill="#fff"/>
<rect x="1350.4" y="225.3" width="7.2" height="10.2" fill="#fff"/>
<rect x="1355.5" y="231.4" width="14.3" height="10.2" fill="#fff"/>
<rect x="1360.6" y="251.8" width="6.1" height="8.2" fill="#fff"/>
<rect x="1369.8" y="246.7" width="6.1" height="11.3" fill="#fff"/>
<rect x="1366.7" y="258" width="14.3" height="8.1" fill="#fff"/>
<line x1="453.5" y1="107.3" x2="453.5" y2="769.3" stroke="#000" stroke-opacity="0.3" stroke-width="2"/>
<line x1="773.6" y1="107.3" x2="773.6" y2="769.3" stroke="#000" stroke-opacity="0.3" stroke-width="2"/>
<line x1="1093.7" y1="107.3" x2="1093.7" y2="769.3" stroke="#000" stroke-opacity="0.3" stroke-width="2"/>
<line x1="1413.7" y1="107.3" x2="1413.7" y2="769.3" stroke="#000" stroke-opacity="0.3" stroke-width="2"/>
<line x1="1733.8" y1="107.3" x2="1733.8" y2="769.3" stroke="#000" stroke-opacity="0.3" stroke-width="2"/>
<line x1="131.5" y1="146.7" x2="2062.6" y2="146.7" stroke="#000" stroke-opacity="0.27" stroke-width="1.9"/>
<line x1="131.5" y1="307.4" x2="2062.6" y2="307.4" stroke="#000" stroke-opacity="0.16" stroke-width="3.5"/>
<line x1="131.5" y1="468.1" x2="2062.6" y2="468.1" stroke="#000" stroke-opacity="0.27" stroke-width="1.9"/>
<line x1="131.5" y1="628.8" x2="2062.6" y2="628.8" stroke="#000" stroke-opacity="0.27" stroke-width="1.9"/>
<g clip-path="url(#mapclip)" fill="none" stroke="#1c1c1c" stroke-width="1.15" stroke-linejoin="round">
<path d="M205.4 95.8L207.0 101.7L216.1 105.4L220.4 108.6L230.5 109.7L232.1 112.9L219.8 111.3L205.4 114.0L196.9 116.7L206.5 122.0L221.4 122.6L233.7 122.0L235.8 126.3L227.8 127.9L216.1 130.1L211.8 134.9L207.6 138.6L213.4 142.9L221.4 147.2L228.4 145.6L230.0 151.0L230.5 153.6L240.1 152.6L246.5 154.2L255.1 153.1L252.9 159.5L247.0 163.3L236.9 168.1L225.7 171.9L215.0 175.1L223.0 174.5L230.5 172.4L239.0 170.3L248.1 167.6L258.3 162.8L265.2 158.5L273.2 153.6L275.3 149.4L281.2 143.5L289.2 139.7L294.0 140.8L286.0 144.5L283.3 150.4L293.5 148.8L302.5 145.6L306.8 141.3L314.8 142.4L322.8 146.1L333.5 146.7L344.1 148.3L354.8 151.0L364.4 155.8L370.8 160.1L378.8 162.8L384.1 167.0L390.5 170.8L398.6 174.5L399.1 178.8L405.5 182.6L410.8 188.5L413.0 193.8L421.5 198.1L427.9 200.8L436.4 204.5L439.6 209.4L440.7 214.2L437.0 210.4L428.4 208.8L431.1 216.3L432.2 220.6L431.6 229.2L429.5 238.3L431.1 244.2L430.0 251.7L433.2 257.0L437.5 263.5L440.2 266.1L441.2 269.9L443.4 272.0L446.6 276.9L450.3 282.7L457.2 284.9L462.0 287.0L467.9 292.4L471.1 298.8L475.4 305.2L480.2 310.6L484.4 315.4L480.2 319.2L485.5 323.5L489.8 325.6L494.6 331.0L495.6 336.3L501.5 341.1L506.8 345.4L510.0 343.3L507.4 338.5L503.1 336.3L499.9 328.8L495.1 322.4L491.9 316.5L487.6 310.6L482.3 304.2L481.2 298.3L486.6 299.4L490.8 302.0L493.0 307.9L497.8 314.4L503.1 318.6L507.4 324.0L510.6 329.9L516.4 333.6L522.8 339.5L526.6 343.8L529.8 349.2L531.9 354.5L529.8 358.8L533.5 363.6L537.8 365.8L544.2 370.6L550.6 372.7L555.9 376.0L561.8 378.6L568.7 381.3L576.2 383.5L581.5 384.0L586.9 381.3L592.2 381.9L597.5 386.1L601.8 390.4L607.1 393.6L613.5 394.7L619.9 396.9L625.3 397.4L626.9 399.0L631.7 403.3L635.9 408.1L635.9 413.5L639.7 415.6L643.9 417.2L647.1 421.0L650.9 424.2L655.1 424.2L658.9 426.9L662.6 429.5L665.8 427.9L664.7 424.2L669.0 420.4L674.4 422.0L676.5 425.8L678.1 429.5L680.8 422.0L677.6 418.3L672.2 416.7L667.4 418.3L661.5 421.0L656.2 419.4L651.9 416.1L648.7 412.4L646.6 408.1L647.1 401.7L648.2 395.2L649.3 388.3L645.5 384.5L640.2 382.9L633.8 383.5L626.3 383.5L621.5 383.5L619.4 382.9L622.6 377.0L623.1 370.1L626.3 363.1L629.5 356.7L629.5 352.9L621.5 352.9L612.5 355.1L610.3 362.0L606.6 367.4L600.2 368.5L592.2 370.6L585.8 367.9L581.5 364.7L578.3 359.4L574.1 352.4L571.9 346.0L572.5 338.5L574.6 331.0L574.6 323.5L577.3 317.0L584.2 313.3L589.0 310.1L594.9 308.5L601.3 309.5L606.6 311.1L611.9 312.2L617.3 312.2L615.7 306.9L619.9 305.2L625.3 305.8L632.2 305.2L637.5 307.9L640.7 309.0L645.5 306.9L649.8 311.1L652.5 316.5L653.0 321.3L656.2 325.6L658.3 329.4L661.5 333.1L664.7 332.6L666.3 327.7L665.3 321.9L663.1 315.4L659.9 308.5L659.4 303.1L661.5 297.7L665.3 294.0L670.1 290.8L674.4 286.5L679.7 284.4L685.6 281.7L690.4 279.0L688.8 273.6L687.2 269.9L686.1 264.5L685.6 258.6L688.2 262.9L689.3 267.7L692.0 263.5L693.0 259.7L691.4 256.5L696.8 257.0L698.9 251.1L704.2 249.5L709.6 247.9L713.8 245.8L717.6 244.7L720.2 244.2L717.0 242.0L716.0 238.8L718.6 234.5L724.5 232.4L730.9 230.2L736.2 227.6L741.6 226.0L748.0 223.3L749.6 225.4L742.6 229.7L740.5 233.5L744.2 235.1L750.6 230.8L757.6 228.6L765.6 226.0L770.9 221.7L772.0 216.9L766.6 219.5L760.2 223.3L753.3 221.7L748.5 219.0L746.9 214.7L742.6 211.0L750.1 209.4L750.6 206.1L744.2 204.5L736.2 206.7L728.2 209.4L721.3 213.6L716.0 216.9L719.2 213.1L724.5 208.3L732.0 204.0L738.9 199.2L749.6 198.6L762.9 199.2L773.6 198.6L781.6 194.4L789.6 192.2L796.0 187.9L796.0 182.6L788.5 178.8L781.6 175.6L773.6 172.4L766.6 166.5L764.0 160.6L760.2 155.3L754.9 150.4L749.6 145.1L745.3 147.8L741.6 153.1L733.6 155.8L725.6 153.1L721.3 147.8L720.2 141.3L712.2 139.7L701.6 134.9L690.9 134.4L680.2 133.3L676.5 137.0L679.2 143.5L681.3 149.4L676.0 153.1L681.3 158.5L685.0 164.4L680.2 169.2L672.2 172.9L669.0 176.7L672.2 181.5L673.3 187.9L669.5 192.2L664.2 193.3L658.9 188.5L655.1 183.1L655.1 175.6L650.9 172.4L640.2 171.9L629.5 168.1L619.9 163.8L609.3 161.7L600.2 162.8L596.5 154.7L588.5 153.1L589.0 146.7L592.2 141.3L598.6 136.0L608.2 130.6L610.9 126.9L619.9 125.3L629.5 121.0L626.9 117.8L616.2 115.6L626.9 111.3L634.9 112.9L637.5 108.1L645.5 101.1L656.2 95.8L560.2 90.4L346.8 90.4ZM805.6 93.1L816.3 99.5L807.7 108.1L810.9 114.5L816.3 119.9L820.0 125.3L825.3 131.7L832.3 138.1L838.7 142.4L849.3 144.5L857.3 147.2L863.2 146.7L865.3 140.3L869.6 133.3L876.5 126.9L880.3 119.9L892.0 116.1L901.6 115.1L909.6 112.4L920.3 106.5L944.3 102.2L965.6 95.8L965.6 82.4L805.6 82.4ZM765.6 111.3L760.2 116.1L752.2 118.8L754.9 123.6L746.9 129.0L748.0 133.3L738.9 136.0L728.2 133.3L717.6 131.1L706.9 125.8L696.2 122.6L680.2 123.1L677.6 118.8L693.6 117.2L700.0 111.9L704.2 106.5L698.9 101.1L688.2 95.8L720.2 90.4L752.2 103.8L762.9 107.6ZM629.5 118.3L637.5 115.6L645.5 116.7L656.2 122.0L664.2 125.8L653.5 127.4L642.9 129.0L632.2 126.9L633.8 123.1ZM777.3 212.6L783.2 208.3L780.0 205.1L784.8 201.3L788.5 196.5L793.8 192.2L797.6 192.2L793.8 198.6L797.6 200.8L802.9 202.9L808.2 204.5L807.7 208.3L812.0 210.4L812.5 216.3L807.7 217.9L804.5 214.7L798.6 216.9L793.8 213.6L785.3 213.1ZM409.2 196.0L417.2 200.8L423.6 206.1L432.2 208.8L435.4 208.3L432.2 203.5L425.2 199.2L416.2 196.0ZM268.9 160.6L275.3 162.2L281.7 160.1L280.1 156.3L274.3 157.9ZM640.7 350.8L645.5 347.6L651.9 344.9L660.5 344.4L667.9 346.5L674.9 348.6L682.9 351.9L689.3 355.6L697.3 359.9L692.0 361.5L682.9 361.5L679.2 361.8L681.3 358.3L676.0 356.1L669.5 352.4L661.5 350.2L655.1 347.6L648.2 349.2ZM696.8 369.0L701.6 370.6L708.0 370.6L713.3 373.3L718.6 370.1L725.6 370.1L728.8 368.5L724.5 365.2L718.6 362.6L711.2 362.0L705.3 361.5L702.6 362.6L705.8 364.7L706.4 367.9L701.0 368.5ZM676.0 370.1L681.8 372.7L687.2 371.7L683.4 369.5L678.6 369.0ZM735.2 371.7L743.2 371.7L743.7 369.5L735.2 369.0ZM678.1 429.5L680.8 432.7L680.2 438.6L681.3 445.6L678.6 454.2L673.3 460.1L667.4 463.3L666.3 468.1L663.7 473.5L662.1 479.9L666.9 482.0L665.3 486.3L660.5 491.1L661.0 499.7L667.4 505.1L672.2 512.6L677.6 523.3L681.8 532.4L686.6 542.0L692.5 550.1L701.6 555.4L712.2 561.8L718.1 566.1L719.2 575.2L719.7 584.9L717.6 594.5L717.6 604.7L714.9 615.4L712.2 626.1L711.7 636.8L711.7 646.5L706.9 657.2L702.6 667.4L702.1 678.6L700.0 689.3L704.2 692.0L705.3 698.5L701.6 706.5L696.2 713.5L690.9 718.8L696.2 725.2L691.4 733.3L693.6 741.3L698.9 747.7L706.9 753.1L713.8 756.3L715.4 751.5L722.9 748.3L728.8 748.5L725.6 742.4L730.9 737.0L733.0 730.6L742.6 724.7L738.9 719.9L733.6 716.1L737.3 710.2L745.3 708.1L745.8 701.1L750.6 697.4L753.8 695.8L748.0 692.6L746.4 687.2L757.6 688.3L761.3 684.5L761.8 677.0L773.6 676.0L785.8 672.2L791.2 664.7L788.0 658.8L782.1 651.8L788.5 652.9L797.6 655.1L806.6 651.8L813.1 644.9L820.5 635.2L824.8 627.7L833.3 620.2L834.4 610.6L837.6 603.1L845.6 597.7L853.6 594.0L862.7 591.3L870.1 590.2L874.9 584.9L879.2 576.3L882.4 567.2L885.1 556.5L885.6 545.8L888.3 537.7L893.6 530.2L898.9 523.8L905.3 516.3L908.0 508.3L906.4 499.7L901.6 495.4L894.7 493.3L886.7 487.4L878.7 483.1L870.7 483.6L861.6 481.0L856.3 482.0L855.2 477.2L848.3 474.0L840.3 471.3L834.9 476.1L829.6 476.7L824.3 469.7L826.9 463.8L823.2 457.4L820.0 447.2L813.6 441.3L805.6 437.0L797.6 436.2L789.6 436.5L782.6 431.7L776.2 424.7L769.3 422.0L765.6 415.6L760.2 411.3L752.2 411.9L746.9 414.0L740.0 411.3L730.9 411.3L728.2 407.6L721.8 406.0L719.2 403.3L714.9 406.5L711.7 410.8L713.8 416.7L709.6 418.3L710.6 410.8L712.8 404.9L711.2 401.7L705.3 405.4L698.9 407.6L692.5 410.8L689.8 416.7L684.5 421.0L680.8 422.0ZM727.7 749.9L718.6 752.0L716.0 756.8L709.6 758.4L717.6 762.2L728.2 763.8L738.9 762.7L745.8 761.1L737.3 758.4L729.8 753.6ZM768.2 744.5L774.6 743.4L784.2 744.5L780.0 746.7L770.9 746.7ZM697.8 692.6L701.6 693.1L701.6 700.6L697.3 700.1ZM763.4 414.0L768.2 414.0L768.8 410.2L764.5 410.8ZM1200.3 82.4L1171.0 102.8L1163.0 111.3L1157.7 118.3L1151.3 122.6L1144.3 127.4L1136.3 129.5L1127.3 132.8L1120.3 137.0L1120.3 144.0L1122.5 150.4L1124.6 154.7L1131.0 157.4L1137.9 156.3L1144.9 152.0L1149.7 148.8L1152.3 152.0L1153.9 155.8L1157.1 160.1L1160.9 166.0L1161.9 169.7L1163.0 171.3L1169.9 170.8L1171.5 167.6L1178.5 167.0L1181.7 162.8L1182.7 157.9L1184.3 153.6L1190.7 150.4L1193.9 146.1L1185.9 142.4L1185.4 137.0L1189.1 132.8L1192.9 129.5L1200.3 126.9L1207.3 122.6L1208.3 118.3L1212.6 115.6L1222.7 115.6L1228.6 119.4L1225.4 124.2L1216.3 127.9L1208.3 130.6L1207.3 136.0L1208.3 141.3L1211.0 144.5L1216.3 147.2L1227.0 145.6L1237.7 144.0L1246.8 143.5L1253.7 146.9L1245.7 148.3L1237.7 149.6L1229.7 149.1L1221.7 149.9L1219.0 153.1L1224.3 155.8L1223.3 161.1L1219.0 162.8L1214.2 159.0L1208.3 160.6L1205.7 165.4L1205.7 171.9L1200.3 174.0L1197.7 176.7L1192.3 175.1L1181.7 176.1L1169.9 179.4L1163.0 176.7L1155.0 178.8L1151.3 178.8L1147.0 175.6L1145.4 171.3L1150.2 166.0L1148.6 160.6L1150.2 158.7L1144.3 162.2L1137.4 163.8L1136.9 169.7L1139.5 174.0L1141.1 178.8L1137.9 180.4L1131.0 181.5L1125.7 182.0L1119.3 184.7L1116.1 189.5L1112.3 192.8L1107.0 194.4L1102.2 196.0L1101.7 199.7L1094.7 202.4L1087.2 203.5L1083.5 201.9L1085.6 207.2L1077.6 206.7L1068.6 208.8L1070.7 212.0L1078.7 214.2L1083.0 217.4L1087.2 221.7L1087.2 228.6L1084.6 235.6L1077.6 235.6L1067.0 235.1L1056.3 234.0L1049.9 234.0L1044.6 237.7L1046.7 243.1L1046.7 248.5L1045.6 254.9L1043.0 260.2L1046.7 262.4L1046.2 269.9L1053.6 269.4L1059.5 271.5L1063.8 275.2L1069.6 271.5L1077.6 271.5L1083.0 271.0L1089.9 266.7L1093.7 260.8L1092.0 256.5L1097.4 249.5L1105.4 246.3L1110.7 241.5L1109.7 236.7L1115.0 235.1L1121.9 236.1L1128.3 237.2L1133.7 233.5L1140.6 230.2L1148.1 232.9L1149.7 238.3L1156.6 242.6L1161.9 246.9L1168.3 249.5L1173.7 252.7L1177.4 253.8L1179.5 259.2L1177.4 264.8L1180.6 264.5L1184.9 259.2L1182.2 255.4L1184.3 251.1L1189.7 254.4L1192.3 252.7L1189.7 250.1L1183.8 247.4L1179.0 243.6L1174.7 243.6L1169.4 240.4L1166.2 235.1L1160.3 231.3L1159.3 225.4L1165.7 223.3L1166.7 227.0L1169.9 226.0L1174.7 230.8L1179.0 235.1L1187.0 238.3L1192.3 241.0L1197.1 244.2L1197.1 251.1L1200.3 255.4L1204.6 259.7L1206.7 262.9L1208.9 267.2L1209.4 271.0L1213.7 272.6L1216.9 272.6L1217.4 268.3L1216.3 265.1L1221.7 266.1L1220.6 261.9L1215.8 257.6L1215.3 252.2L1220.6 253.8L1224.3 249.0L1232.3 249.5L1236.6 250.6L1240.4 248.7L1247.8 248.2L1248.4 251.1L1240.4 251.7L1233.4 253.8L1236.6 257.6L1236.6 260.8L1233.9 262.9L1238.8 266.1L1239.3 269.9L1244.1 271.5L1251.0 274.2L1256.9 271.0L1264.4 272.6L1269.7 274.7L1277.7 271.5L1284.6 272.0L1285.7 275.2L1284.6 280.6L1285.2 283.3L1283.0 286.5L1280.4 291.3L1278.8 296.7L1276.6 300.4L1272.4 301.5L1267.0 301.5L1267.3 307.4L1270.8 314.9L1276.1 319.4L1278.2 314.9L1280.4 310.1L1279.3 315.4L1283.0 320.8L1288.4 328.8L1292.6 336.9L1299.0 344.9L1302.2 352.9L1307.0 361.0L1312.4 369.0L1319.3 377.0L1322.0 385.1L1324.1 395.8L1325.7 400.1L1333.7 399.5L1341.7 396.3L1349.7 393.1L1357.7 389.4L1365.7 386.7L1372.1 382.4L1379.1 378.6L1387.1 376.0L1395.1 370.6L1400.9 366.3L1402.0 359.9L1407.3 357.7L1412.7 347.6L1406.8 341.7L1397.7 339.5L1394.5 334.7L1394.5 327.2L1392.4 330.4L1388.1 332.6L1382.8 337.9L1373.7 338.5L1368.9 336.9L1368.9 329.9L1366.8 328.3L1364.6 331.5L1364.6 335.2L1361.4 329.9L1360.4 325.1L1355.0 320.2L1352.4 315.4L1349.7 310.1L1352.9 307.4L1357.7 306.3L1361.4 307.4L1364.6 312.7L1368.4 318.6L1374.2 321.3L1381.7 325.6L1390.3 323.5L1395.1 322.9L1397.7 325.1L1399.3 330.4L1407.3 331.5L1416.4 332.6L1422.3 333.1L1432.4 332.6L1440.4 332.6L1448.4 332.0L1451.1 335.2L1453.7 340.6L1458.0 341.7L1464.4 346.0L1461.7 348.6L1467.1 356.1L1472.4 357.2L1477.7 354.5L1480.4 349.2L1482.0 355.6L1482.0 366.3L1484.7 377.0L1487.3 385.6L1491.1 395.8L1495.3 404.9L1500.1 414.5L1503.3 421.5L1507.1 424.7L1510.8 420.4L1515.1 418.3L1519.4 412.9L1519.9 406.5L1522.0 397.9L1521.0 387.7L1524.7 383.5L1532.7 379.2L1539.1 372.7L1547.1 364.7L1555.1 359.9L1557.8 354.0L1563.1 351.9L1568.4 351.3L1576.4 349.2L1583.4 348.6L1586.0 356.7L1589.8 362.0L1595.1 369.0L1597.8 377.0L1596.7 382.4L1602.0 384.0L1608.4 379.7L1613.8 379.7L1614.8 387.7L1616.4 395.8L1619.6 404.9L1619.1 414.5L1618.0 423.6L1624.4 430.6L1628.7 436.0L1629.2 444.0L1634.0 452.6L1640.4 457.4L1645.8 460.6L1649.5 460.6L1645.8 454.7L1645.2 447.7L1644.7 441.3L1639.4 434.9L1634.0 431.1L1629.8 429.0L1627.1 422.6L1623.4 418.3L1622.8 411.9L1626.0 404.9L1627.1 398.5L1629.8 395.8L1632.4 400.1L1639.4 402.7L1643.1 409.2L1648.4 411.9L1652.7 412.4L1653.8 421.5L1661.8 417.2L1664.5 412.4L1672.5 409.2L1676.2 403.8L1676.7 395.8L1674.1 386.1L1669.8 380.8L1663.4 373.3L1658.1 366.3L1662.3 359.4L1667.1 354.0L1672.5 351.9L1677.8 352.9L1679.9 359.4L1683.1 358.8L1683.1 354.0L1690.1 351.9L1699.1 349.2L1702.9 348.6L1709.8 346.0L1717.8 342.2L1724.2 336.9L1731.1 331.0L1732.7 324.5L1738.1 318.1L1743.4 310.1L1739.1 305.8L1743.9 302.0L1739.1 295.1L1735.4 287.0L1730.1 281.7L1731.1 277.9L1736.5 274.2L1747.1 269.9L1740.7 266.7L1731.1 268.8L1725.8 264.5L1722.1 259.2L1729.5 256.5L1739.1 249.5L1745.5 251.1L1740.7 259.2L1749.8 255.4L1757.3 253.8L1761.5 256.5L1761.5 264.5L1767.9 268.8L1767.9 275.2L1767.4 282.7L1773.8 282.2L1781.8 280.1L1783.9 272.6L1779.7 264.5L1773.8 256.5L1779.1 251.1L1785.5 246.9L1790.9 241.5L1797.8 236.7L1805.8 238.8L1816.5 232.4L1824.5 224.4L1832.5 216.3L1841.6 206.7L1843.2 197.6L1845.8 189.5L1847.4 183.1L1837.8 178.8L1827.2 178.8L1819.2 175.1L1827.2 169.2L1837.8 161.7L1851.2 153.1L1867.2 149.9L1885.8 149.9L1899.2 150.4L1915.2 149.4L1920.5 150.4L1930.1 138.1L1932.8 134.9L1947.2 134.9L1948.8 137.6L1944.5 140.3L1949.9 142.4L1964.8 130.6L1974.9 130.6L1971.2 134.4L1963.2 141.3L1952.5 146.7L1939.2 157.4L1928.5 162.8L1924.2 170.8L1924.8 181.5L1928.5 192.2L1930.1 194.9L1936.5 189.5L1939.2 184.2L1947.2 178.8L1957.9 173.5L1960.5 166.5L1964.8 160.1L1962.1 154.7L1968.5 147.8L1979.2 145.1L1992.5 144.0L2003.2 146.7L2013.9 140.3L2024.5 137.0L2037.9 133.3L2048.5 131.1L2051.2 122.6L2040.5 121.5L2045.9 117.2L2059.2 118.8L2059.2 82.4ZM128.1 118.8L138.8 118.3L154.8 118.8L162.8 121.5L171.8 123.1L174.5 118.8L182.5 116.1L187.8 114.0L178.8 109.7L162.8 107.6L144.1 102.8L128.1 99.0ZM1065.9 200.2L1075.0 198.6L1083.0 196.5L1091.0 196.0L1100.6 193.8L1099.0 191.1L1102.7 186.3L1095.3 184.2L1094.2 181.0L1089.4 176.1L1085.6 173.5L1083.0 169.2L1077.6 168.1L1080.3 165.4L1083.0 160.1L1075.0 159.0L1072.3 159.5L1077.6 154.2L1067.0 154.2L1062.7 159.5L1063.8 165.4L1067.0 169.2L1068.0 174.5L1075.0 174.0L1077.6 178.8L1077.6 182.0L1069.6 182.6L1071.8 186.3L1065.9 190.1L1072.3 192.2L1077.6 193.3L1070.7 194.4L1063.2 199.7ZM1040.3 191.1L1048.3 191.1L1059.5 188.5L1061.1 182.6L1063.8 176.7L1060.0 172.4L1053.6 171.9L1048.3 175.6L1040.3 177.8L1043.0 182.6L1041.4 187.4ZM973.6 125.8L984.3 127.9L995.0 128.5L1008.3 125.3L1016.3 122.6L1020.6 118.3L1013.6 113.5L1003.0 113.5L992.3 114.5L981.6 116.7L973.6 112.4L965.6 115.6L973.6 118.8L965.6 121.0L976.3 123.1ZM1160.3 264.5L1165.7 263.5L1176.3 263.5L1174.7 269.4L1169.9 271.0L1161.9 267.2ZM1137.4 249.5L1143.3 247.4L1145.4 253.8L1144.3 258.6L1139.0 259.2L1138.5 253.8ZM1139.5 241.0L1143.8 237.7L1144.3 243.1L1142.7 246.3L1140.1 244.2ZM1219.5 277.9L1224.3 277.4L1233.9 279.5L1227.0 280.6L1219.5 279.3ZM1266.0 280.6L1269.7 278.7L1277.7 277.1L1274.5 280.6L1269.7 282.7ZM1153.4 172.4L1157.7 175.1L1160.9 170.3L1159.3 167.6L1153.9 169.2ZM1190.7 162.8L1193.9 160.1L1195.0 157.9L1191.8 159.5ZM1267.3 307.4L1267.0 301.5L1259.0 299.4L1253.7 301.0L1245.7 302.0L1237.7 299.9L1228.1 298.8L1221.7 296.7L1216.3 293.5L1209.9 291.9L1201.4 295.1L1200.3 302.0L1197.7 304.7L1192.3 305.8L1184.3 302.0L1176.3 299.4L1174.7 295.1L1165.7 292.4L1155.0 290.2L1151.3 287.6L1147.5 284.4L1151.3 280.6L1151.8 276.3L1149.7 273.1L1152.9 269.9L1148.1 268.8L1145.9 268.3L1139.0 269.9L1131.0 269.9L1123.0 271.0L1114.5 270.4L1101.7 272.6L1093.7 275.8L1088.3 276.9L1081.9 280.1L1077.6 279.0L1069.6 279.5L1064.8 275.8L1062.2 276.3L1059.0 283.3L1053.1 288.1L1046.7 292.4L1043.0 299.4L1041.4 304.7L1039.2 311.1L1033.9 314.9L1027.0 318.1L1023.2 320.2L1016.3 327.7L1013.6 335.2L1008.3 341.1L1004.0 349.2L1002.7 356.1L1006.2 362.0L1007.2 369.0L1005.6 379.7L1000.8 389.4L1004.0 395.8L1004.6 401.7L1009.4 404.9L1013.6 410.2L1020.0 416.7L1023.2 422.6L1028.6 429.0L1033.4 432.7L1044.0 440.2L1053.1 444.5L1061.6 441.9L1072.3 440.2L1080.3 441.3L1083.5 442.7L1093.7 438.1L1100.1 435.4L1107.0 434.1L1111.8 433.8L1117.7 434.9L1121.9 439.7L1125.7 445.1L1131.0 444.5L1137.9 443.5L1141.1 446.7L1144.9 447.7L1145.9 454.7L1144.9 461.7L1143.3 466.5L1140.6 471.8L1144.3 478.8L1149.7 485.2L1156.6 493.3L1158.7 499.2L1163.0 508.3L1164.6 515.2L1167.3 526.0L1165.1 534.5L1159.3 543.1L1157.7 551.1L1156.6 560.2L1160.3 569.9L1165.7 580.6L1171.0 590.2L1172.1 599.3L1174.7 610.6L1181.1 621.3L1185.4 628.8L1189.7 638.5L1191.3 643.3L1191.8 650.2L1196.6 653.5L1200.3 654.5L1208.3 652.4L1216.3 650.2L1227.0 650.2L1230.7 650.2L1237.7 647.6L1243.0 644.3L1251.0 636.8L1256.4 631.5L1259.0 627.7L1264.4 622.4L1268.1 615.4L1269.2 607.4L1272.4 603.1L1280.4 599.3L1283.0 594.0L1282.5 586.0L1280.4 579.5L1279.3 574.2L1285.7 568.8L1293.7 561.8L1304.4 556.5L1310.2 551.1L1310.8 543.1L1309.7 535.1L1309.7 524.3L1306.0 519.0L1304.4 511.0L1303.3 504.5L1300.6 499.2L1302.8 493.3L1305.4 489.5L1308.6 482.6L1315.0 477.7L1320.4 470.8L1328.4 462.7L1335.8 457.4L1344.4 448.3L1351.3 439.7L1356.1 431.7L1360.4 424.2L1364.6 417.2L1366.8 411.9L1367.3 404.9L1363.0 404.4L1355.0 407.0L1347.0 408.6L1339.0 410.8L1331.0 412.4L1324.6 406.5L1324.1 401.1L1320.4 397.4L1314.0 390.4L1307.0 386.1L1303.8 384.0L1301.7 377.0L1299.0 371.7L1293.7 366.3L1292.1 358.3L1291.0 351.3L1285.7 344.9L1283.0 339.5L1277.7 331.5L1274.5 323.5L1269.7 315.4ZM1356.6 532.4L1362.0 548.5L1360.4 553.8L1357.7 561.8L1354.0 575.2L1349.2 588.6L1345.4 601.0L1341.7 603.1L1334.8 604.7L1328.4 601.0L1325.7 592.9L1325.7 583.3L1330.0 575.2L1330.0 567.2L1328.4 559.2L1333.7 553.8L1340.6 552.2L1348.6 546.3L1352.4 539.9ZM1791.9 286.0L1797.8 281.1L1804.2 277.4L1811.2 276.9L1818.1 277.4L1823.4 271.0L1826.1 267.2L1825.6 271.0L1832.5 267.7L1837.8 261.9L1840.0 256.5L1840.5 250.6L1842.1 247.4L1848.0 246.3L1848.5 251.1L1851.2 256.5L1848.5 262.9L1845.8 265.6L1845.8 271.0L1843.7 275.2L1844.8 276.9L1840.0 281.1L1838.9 277.9L1836.2 279.5L1834.1 282.7L1830.9 282.7L1824.5 282.7L1824.0 280.6L1823.4 284.4L1818.1 288.9L1814.4 286.5L1815.4 282.7L1808.5 282.7L1803.2 284.4L1798.9 284.9L1792.5 286.5ZM1791.9 286.5L1796.2 288.1L1797.3 292.4L1795.1 297.7L1792.5 300.4L1790.9 302.0L1788.2 300.4L1788.2 295.6L1786.1 292.9L1786.1 289.7L1789.3 288.1ZM1800.5 287.6L1805.8 286.0L1811.7 284.9L1812.2 287.0L1809.6 289.7L1805.8 288.6L1803.2 292.4L1800.0 291.3ZM1841.0 246.3L1842.1 242.0L1843.2 237.7L1847.4 236.1L1849.6 229.7L1849.6 224.4L1853.8 227.0L1859.2 230.8L1863.4 232.4L1868.8 230.8L1870.9 235.6L1864.5 238.3L1857.6 243.6L1851.2 240.4L1845.8 241.5L1843.2 240.4L1845.8 244.2L1844.2 245.8ZM1851.2 222.2L1851.2 216.3L1851.2 208.3L1851.7 200.2L1851.2 192.2L1850.1 182.6L1853.8 177.2L1857.6 184.2L1858.1 192.2L1860.8 200.2L1865.0 207.2L1856.5 204.5L1855.4 213.6L1858.6 217.9L1859.2 220.6L1854.9 218.5ZM1673.5 364.7L1677.8 361.0L1684.2 360.4L1685.8 363.1L1683.1 367.4L1678.3 370.6L1673.5 369.0ZM1739.1 334.2L1743.9 334.2L1742.3 339.5L1738.6 350.2L1734.9 346.0L1734.9 340.6ZM1519.4 416.1L1522.0 416.1L1526.8 422.6L1530.0 429.0L1529.5 433.3L1523.6 436.2L1520.4 434.4L1519.4 427.9L1519.9 422.6ZM1737.0 369.0L1745.5 369.0L1746.1 377.0L1742.3 382.9L1742.9 388.8L1747.1 392.0L1754.6 394.2L1755.7 400.6L1751.4 398.5L1747.1 395.2L1742.9 393.6L1738.6 394.7L1737.0 390.4L1733.8 387.7L1733.3 381.3L1735.9 379.2L1735.9 373.8ZM1744.5 430.6L1749.8 426.9L1752.5 422.0L1758.9 422.6L1763.1 419.9L1763.1 415.6L1767.4 422.6L1769.0 429.0L1766.9 434.4L1762.6 438.1L1763.7 430.6L1760.5 436.5L1756.2 434.9L1755.1 429.5L1751.4 428.5ZM1756.7 401.1L1762.1 401.1L1764.2 408.1L1761.5 413.5L1759.4 413.5L1757.3 407.6ZM1744.5 404.9L1750.3 406.5L1747.7 411.9L1743.9 411.9ZM1749.3 409.7L1752.5 410.2L1750.9 418.8L1747.1 416.7ZM1718.9 422.6L1725.8 417.2L1731.1 409.2L1732.2 407.6L1727.4 414.5L1720.5 423.6ZM1735.9 396.3L1740.7 396.3L1741.8 401.7L1738.6 402.7ZM1678.3 457.4L1682.1 459.0L1686.9 460.6L1687.9 455.2L1696.5 451.0L1701.8 444.0L1708.2 441.3L1712.5 436.0L1716.2 430.9L1721.5 434.4L1723.1 437.0L1729.5 440.2L1725.8 444.5L1722.1 449.4L1720.5 454.7L1723.1 457.4L1728.5 462.7L1722.1 463.8L1720.5 468.1L1716.7 475.1L1714.1 481.5L1712.5 488.5L1705.0 489.5L1704.5 486.3L1696.5 485.2L1690.1 486.8L1681.5 483.6L1680.5 476.1L1676.2 470.8L1675.1 463.8L1675.1 460.1ZM1602.0 438.1L1613.8 440.2L1619.1 446.7L1627.1 453.6L1632.4 457.4L1639.4 462.7L1645.8 468.1L1645.8 473.5L1651.1 477.7L1653.8 480.4L1659.1 484.2L1658.1 492.2L1658.1 499.2L1651.6 499.7L1643.1 492.2L1637.8 487.4L1632.4 480.4L1628.7 472.9L1624.4 466.5L1620.2 459.0L1613.8 454.2L1607.4 447.7L1602.6 442.4ZM1654.8 504.5L1659.1 499.7L1664.5 500.0L1672.5 502.9L1683.1 505.1L1685.8 502.4L1693.8 505.1L1699.1 509.3L1704.5 509.3L1704.5 514.7L1696.5 512.6L1685.8 512.0L1677.8 509.3L1669.8 509.9L1661.8 507.7L1656.5 504.8ZM1728.5 486.8L1727.4 482.6L1730.1 476.1L1732.7 469.2L1732.7 465.4L1738.1 461.1L1747.1 462.7L1755.1 463.3L1760.5 459.5L1761.5 460.6L1756.7 466.0L1749.8 465.4L1741.8 465.4L1735.4 466.0L1734.3 472.4L1739.1 475.1L1744.5 472.9L1751.4 472.4L1751.9 473.5L1744.5 477.2L1741.8 478.3L1746.1 484.2L1748.7 489.5L1748.7 493.8L1743.4 493.8L1739.1 488.5L1739.1 482.6L1735.9 482.6L1735.9 489.5L1735.9 498.1L1731.1 497.6L1731.1 491.1ZM1793.5 472.4L1800.5 470.2L1808.5 472.4L1809.6 478.8L1813.8 485.8L1821.8 479.9L1829.8 477.2L1840.5 481.0L1845.8 482.0L1856.5 486.3L1864.5 489.0L1871.4 496.0L1877.8 500.2L1882.1 502.4L1877.8 504.5L1883.2 511.0L1888.5 516.3L1897.6 523.3L1891.2 523.3L1880.5 521.7L1877.8 518.5L1872.5 512.0L1864.5 509.3L1859.2 512.6L1853.8 517.4L1845.8 516.8L1837.8 511.0L1829.8 513.1L1833.6 506.7L1829.8 497.6L1819.2 492.7L1811.2 489.5L1803.2 489.5L1802.1 483.1L1807.4 481.5L1798.9 480.4L1792.5 475.1ZM1752.5 523.3L1757.8 517.9L1765.8 513.6L1772.2 513.1L1768.5 516.3L1760.5 521.1L1755.1 523.3ZM1732.7 513.1L1739.1 512.6L1748.7 512.0L1748.7 514.2L1739.1 515.8L1732.7 515.2ZM1716.7 513.1L1723.1 512.0L1728.5 513.1L1725.8 515.2L1717.3 516.3ZM1728.5 519.0L1734.9 518.5L1738.1 521.7L1733.8 523.3L1729.0 520.6ZM1705.0 512.0L1710.3 512.0L1711.9 514.7L1715.1 513.6L1714.6 515.8L1708.2 515.2ZM1773.8 457.4L1776.5 456.3L1776.5 462.7L1780.7 460.6L1779.7 466.0L1776.5 465.4L1778.1 471.8L1775.4 469.7L1774.3 463.3ZM1776.5 484.2L1784.5 483.1L1791.4 485.8L1789.8 487.9L1781.8 486.3L1776.5 486.3ZM1765.8 485.2L1771.1 484.7L1772.2 487.4L1768.5 489.0L1765.8 487.4ZM1884.8 498.1L1891.2 497.6L1899.2 494.9L1905.6 490.6L1906.1 494.3L1899.2 499.7L1891.2 501.3L1885.3 500.2ZM1898.1 482.0L1904.5 485.8L1909.8 491.7L1908.2 492.7L1901.8 486.3L1897.6 483.1ZM1918.4 497.0L1923.2 500.2L1925.3 504.5L1922.1 504.5L1918.9 499.7ZM1654.8 477.2L1659.1 476.7L1662.9 482.0L1660.2 484.2L1656.5 479.9ZM1702.9 584.9L1709.8 579.5L1717.8 578.5L1726.3 576.8L1733.8 574.7L1741.8 568.8L1745.5 564.0L1748.7 557.0L1753.0 560.8L1754.1 554.9L1759.4 550.1L1764.7 544.7L1770.1 542.6L1775.4 545.8L1777.5 549.0L1784.5 547.9L1786.1 541.0L1790.9 535.1L1796.8 533.5L1801.0 529.2L1805.8 531.3L1813.8 533.5L1819.2 532.4L1824.0 534.0L1819.2 539.3L1818.1 545.8L1816.0 548.5L1821.8 552.7L1828.8 555.4L1836.2 561.3L1840.5 562.9L1845.3 559.2L1848.5 551.1L1849.0 543.1L1849.6 535.6L1852.2 527.0L1853.8 525.4L1857.6 531.3L1859.7 540.4L1860.8 545.2L1867.2 548.5L1869.8 556.5L1872.5 561.8L1874.1 568.8L1882.1 574.2L1887.4 577.9L1890.1 583.3L1893.8 587.6L1898.1 591.3L1900.8 596.1L1907.2 601.0L1910.9 604.7L1910.4 612.7L1912.5 620.2L1909.8 631.5L1908.8 638.5L1904.5 643.8L1900.8 649.2L1898.1 655.6L1894.9 661.0L1893.8 668.5L1885.8 670.6L1877.8 673.8L1874.6 677.6L1868.8 673.3L1865.6 671.7L1859.2 676.0L1851.2 673.3L1844.8 671.7L1839.4 666.3L1837.8 661.0L1831.4 658.8L1832.5 653.5L1829.8 651.3L1827.7 656.1L1824.5 656.7L1827.2 650.2L1829.3 642.7L1825.6 648.6L1819.2 654.5L1814.9 652.9L1812.2 646.0L1809.6 642.7L1805.8 640.1L1797.8 639.5L1792.5 636.8L1781.8 637.4L1773.8 640.6L1765.8 641.1L1759.4 644.3L1754.1 649.2L1744.5 649.7L1733.8 649.7L1728.5 652.4L1723.1 655.6L1715.1 655.6L1707.7 652.4L1707.1 648.1L1710.9 646.5L1710.9 639.5L1708.7 634.2L1707.1 628.8L1705.0 622.4L1702.3 615.4L1698.6 608.5L1701.8 607.4L1700.2 601.0L1699.1 596.7L1700.7 591.3L1700.7 587.6ZM1865.6 686.1L1872.5 688.3L1877.8 687.7L1884.8 687.2L1884.8 693.1L1883.2 698.5L1879.4 699.5L1875.2 701.7L1871.4 699.5L1868.8 694.7L1866.1 689.3ZM2014.9 652.4L2019.2 655.6L2024.5 659.9L2026.1 665.2L2030.4 664.7L2032.0 669.5L2035.2 670.6L2040.5 671.1L2045.9 670.1L2043.2 675.4L2037.9 679.2L2037.9 682.4L2034.1 686.7L2028.8 691.0L2026.1 689.3L2027.7 684.0L2025.6 681.3L2020.8 678.6L2025.1 675.4L2026.1 670.6L2024.5 666.3L2022.9 662.6L2017.6 657.2ZM2014.9 685.1L2017.6 688.8L2023.5 688.3L2021.9 692.6L2019.7 695.8L2015.5 700.1L2017.1 702.7L2011.2 703.8L2007.5 706.0L2005.9 710.8L2004.3 714.0L1998.9 717.2L1992.0 717.7L1987.2 715.6L1981.9 714.5L1984.5 709.2L1988.8 706.5L1992.5 703.8L2000.5 699.5L2006.9 695.2L2009.6 691.0L2011.7 686.7ZM1968.5 575.8L1976.5 580.6L1984.5 587.6L1981.9 587.6L1973.9 583.3L1968.5 577.9ZM2039.5 561.8L2045.9 561.3L2046.4 565.1L2040.0 565.6ZM1987.2 718.8L1990.9 719.3L1989.9 721.0L1987.2 721.0Z"/>
<path d="M436.4 205.6L585.8 205.6L588.5 204.0L594.9 207.7L602.9 209.9L610.9 210.4L617.3 211.0L622.6 209.4L632.2 213.1L641.3 216.9L642.9 219.5L648.2 222.2L653.5 225.4L654.1 237.7L650.3 242.0L653.5 244.7L664.2 241.5L672.2 238.8L671.7 235.6L680.2 234.5L686.1 231.9L693.6 227.0L712.2 227.0L716.0 224.9L720.2 219.0L724.5 214.2L729.3 214.7L732.0 216.3L732.0 223.3L734.6 226.0L736.2 227.6M341.5 90.4L341.5 145.1L351.1 146.1L360.1 152.6L370.8 148.3L378.8 153.1L388.4 162.8L400.2 168.1L399.1 174.5M469.0 294.0L481.2 293.5L501.5 300.4L516.4 300.4L516.4 297.7L525.5 297.7L534.1 304.2L536.7 309.5L543.7 312.7L547.4 308.5L552.7 308.5L558.6 316.5L562.9 320.8L565.0 326.7L569.8 328.3L575.1 329.4M601.8 390.4L602.3 387.2L604.5 381.9L611.4 381.9L608.2 376.0L608.2 372.7L617.8 372.7L617.8 382.9L619.4 382.9M617.8 372.7L622.6 369.5M613.0 394.2L616.7 391.0L621.5 393.1L625.3 396.3M616.7 391.0L617.8 387.7L622.6 384.0M627.4 398.5L631.1 394.2L636.5 393.1L641.3 388.8L649.3 388.3M636.5 408.6L641.8 409.2L647.1 409.7M651.4 424.7L651.9 419.9L653.0 416.7M713.3 404.9L706.9 408.6L704.2 418.3L707.4 423.6L709.6 430.6L719.7 430.6L723.4 435.4L733.6 434.9L732.0 444.0L734.6 449.9L736.2 461.7M736.2 461.7L740.0 463.8L744.2 463.3L751.2 460.1L752.2 454.7L757.6 448.3L749.6 446.1L758.6 446.7L768.2 444.0L769.8 440.2L766.1 436.5L773.6 425.2L774.6 423.6M769.8 440.2L773.6 441.3L774.1 447.7L774.6 455.8L780.0 461.7L788.0 457.9L792.2 457.9L795.4 454.7L802.4 455.8L811.4 456.3L817.9 446.7M788.0 457.9L784.2 446.7L788.5 436.5M802.4 455.8L803.4 446.7L805.6 437.0M736.2 461.7L721.3 459.0L720.2 464.9L723.4 473.5L720.2 490.6L704.8 481.0L694.6 469.2L692.0 468.6L680.8 466.0L673.3 460.1M692.0 468.6L690.4 476.1L675.4 486.3L672.2 494.9L665.8 491.7L665.3 486.3M720.2 490.6L705.3 495.4L698.9 508.3L708.5 521.7L717.0 519.0L717.0 527.0L722.9 526.5L727.2 535.1L725.6 549.5L722.4 560.8L722.9 561.8L718.1 566.1M722.9 526.5L730.9 525.4L745.3 520.6L744.8 530.8L757.6 535.6L768.2 540.4L772.5 540.4L772.5 555.4L782.1 555.4L783.2 561.3L786.9 565.6L783.2 574.2L783.2 576.3M722.9 561.8L728.2 571.5L729.8 583.3L735.2 590.2L740.0 584.9L749.6 587.6L759.7 587.0L762.9 577.9L778.9 571.5L783.2 576.3M783.2 576.3L785.3 586.5L796.5 588.1L798.1 596.7L804.0 597.2L802.4 605.2L801.8 611.1L795.4 614.9L781.0 613.8L786.4 604.7L776.2 596.7L759.7 587.0M802.4 605.2L807.2 609.0L806.6 613.8L796.0 619.7L786.4 629.9L783.2 642.2L782.1 650.2M786.4 629.9L794.9 633.1L802.9 636.8L808.8 643.3L808.8 648.6M735.2 590.2L729.3 599.3L728.2 610.1L721.8 620.8L720.2 631.5L719.2 642.2L721.3 651.8L717.6 662.6L714.9 674.3L710.6 685.1L711.2 695.8L711.7 706.5L710.6 717.2L707.4 727.9L704.2 736.0L708.0 741.3L710.1 746.7L728.8 748.5M727.7 750.4L727.7 762.2M1081.9 280.1L1084.6 288.6L1087.2 295.6L1075.0 298.3L1067.0 307.4L1047.2 314.4L1047.2 319.7L1023.2 319.7M1047.2 319.7L1047.2 321.9L1068.0 334.2L1100.1 355.1L1111.3 366.3L1110.7 362.6L1116.1 365.8L1124.6 363.6L1157.7 342.2M1047.2 321.9L1047.2 328.8L1029.6 328.8L1029.6 342.7L1024.3 344.9L1023.8 354.0L1003.0 354.0M1047.2 328.8L1068.0 334.2M1068.0 334.2L1059.0 334.2L1063.8 379.7L1065.4 385.1L1044.0 385.1L1035.5 387.2L1032.3 384.5L1028.6 388.8L1024.3 385.1L1017.4 379.2L1005.6 381.9M1028.6 388.8L1032.8 401.7L1020.6 400.1L1013.6 400.1L1004.6 401.7M1004.0 395.2L1013.6 394.2L1020.0 396.3L1013.6 397.4L1004.0 397.9M1020.6 400.1L1020.6 405.4L1013.6 409.7M1032.8 401.7L1045.6 401.7L1051.0 413.5L1049.9 422.6L1053.1 444.5M1049.9 422.6L1043.5 428.5L1038.7 422.6L1036.6 418.3L1033.9 414.5L1027.0 415.1L1022.7 419.9M1038.7 422.6L1032.3 431.1M1051.0 413.5L1060.6 411.3L1064.3 412.4L1065.9 405.4L1070.2 400.1L1072.3 396.3L1078.2 392.0L1088.3 387.7L1094.7 387.7L1100.6 386.1L1112.3 385.6L1116.1 377.6L1116.1 365.8M1064.3 412.4L1069.1 416.1L1079.2 417.7L1078.7 440.8M1079.2 417.7L1078.7 409.2L1092.6 408.6L1098.5 409.2L1096.9 423.6L1097.4 433.3L1100.1 435.4M1098.5 409.2L1104.3 407.0L1102.2 419.9L1102.2 434.4M1094.7 387.7L1094.7 394.7L1099.0 398.5L1105.4 401.7L1112.9 405.4L1108.6 419.9L1108.1 433.8M1112.9 405.4L1113.4 394.7L1123.0 393.6L1131.0 398.5L1141.7 399.5L1157.7 397.4L1166.2 394.7L1168.3 397.9M1166.2 394.7L1165.7 390.4L1176.3 377.6L1178.5 358.8L1173.7 344.9L1157.7 342.2L1144.3 306.3L1144.3 305.8L1137.9 294.0L1133.7 286.5L1137.4 282.2L1137.9 271.0M1144.3 306.3L1148.6 302.6L1148.6 298.3L1155.0 294.5L1155.0 290.2M1157.7 342.2L1169.4 347.0L1173.7 344.9L1221.7 363.6L1221.7 361.0L1227.0 361.0L1227.0 350.2L1227.0 298.8M1227.0 350.2L1290.5 350.2M1221.7 363.6L1221.7 384.0L1215.8 384.0L1211.0 400.1L1215.8 409.2L1220.1 419.9L1224.3 421.5M1168.3 397.9L1169.4 401.7L1173.7 403.3L1173.1 410.2L1176.3 414.5L1168.3 415.1L1174.7 427.9L1171.5 434.9L1171.0 441.3L1179.0 455.8L1164.6 456.3L1153.9 456.3L1153.9 462.7L1145.9 462.7M1139.5 442.4L1143.3 433.3L1149.7 430.6L1155.0 432.7L1159.3 422.6L1167.3 409.2L1169.4 401.7M1174.7 427.9L1181.7 426.3L1192.9 425.2L1195.0 419.9L1205.7 417.2L1215.8 409.2M1145.9 455.8L1153.9 456.3M1153.9 462.7L1145.9 462.7M1164.6 456.3L1171.0 462.7L1168.3 470.8L1171.0 478.3L1168.3 481.5L1160.3 480.4L1155.5 483.1L1156.6 487.4L1152.9 489.0M1179.0 455.8L1192.3 449.4L1192.9 445.1L1197.7 440.8L1213.1 446.1L1224.3 440.8L1239.8 440.8L1228.6 429.0L1224.3 421.5L1240.4 416.7L1248.4 416.7L1253.7 412.9L1259.0 415.6L1266.0 405.4L1270.8 402.7L1269.7 410.8L1275.6 417.2L1275.0 422.6L1269.7 426.3L1282.0 439.2L1285.2 443.5M1192.3 449.4L1188.1 468.1L1180.1 478.8L1179.0 486.8L1170.5 492.2L1163.0 493.3L1158.7 499.2M1170.5 492.2L1163.5 499.7L1182.2 499.7L1187.5 511.5L1197.1 511.0L1197.7 505.6L1209.9 507.2L1209.9 528.1L1221.7 526.5L1221.7 537.7L1211.0 537.7L1211.0 554.9L1218.5 562.4L1227.0 562.4M1156.6 560.8L1168.3 561.3L1192.3 561.3L1205.7 564.0L1218.5 562.4M1205.7 564.0L1205.7 586.0L1200.3 586.0L1200.3 601.0L1200.3 620.2L1181.7 621.3M1200.3 601.0L1204.1 611.7L1211.0 607.4L1216.3 603.6L1229.7 605.8L1237.2 595.1L1250.5 587.0L1260.6 588.1M1227.0 562.4L1228.6 563.5L1233.4 572.6L1241.4 577.9L1250.5 587.0M1228.6 563.5L1237.7 564.0L1247.8 553.3L1255.8 551.7L1268.6 557.6L1269.7 567.2L1268.1 577.9L1260.6 588.1L1264.4 599.3L1263.8 611.7L1269.2 612.2M1255.8 551.7L1254.8 547.4L1270.8 543.1L1269.2 536.7L1271.3 530.2L1269.2 518.5L1259.0 514.2L1247.8 513.6L1245.2 517.4L1246.2 532.4L1252.6 533.5L1252.6 539.9L1243.0 534.5L1232.3 531.8L1221.7 526.5M1269.2 518.5L1275.0 519.0L1279.8 529.7L1277.2 533.5L1278.2 545.2L1284.6 546.3L1284.6 553.8L1282.0 559.7L1276.6 552.7L1278.2 545.2M1279.8 529.7L1293.7 530.8L1309.2 524.3M1259.0 514.2L1250.5 491.7L1249.4 484.2L1248.4 482.6L1251.6 475.6L1252.1 465.4L1260.6 456.3L1258.0 449.4L1250.5 444.0L1239.8 440.8M1250.5 491.7L1258.0 485.8L1256.4 481.0L1258.0 473.5L1251.6 475.6M1248.4 482.6L1256.4 481.0M1258.0 473.5L1275.0 473.5L1294.2 484.2L1302.8 493.3M1275.0 473.5L1275.0 465.4L1280.4 459.0L1275.0 445.6L1285.2 443.5L1290.5 444.5L1296.9 448.8L1306.5 447.2L1312.4 447.2L1317.2 447.2M1258.0 449.4L1264.4 448.8L1275.0 445.6M1312.4 447.2L1312.4 468.1L1312.4 472.9L1315.6 477.2M1317.2 447.2L1333.7 441.3L1349.7 425.2L1344.4 425.2L1328.4 419.9L1323.0 409.7L1322.0 409.4L1316.6 409.2L1319.8 401.1L1323.6 400.1M1323.0 409.7L1324.6 406.5M1319.8 401.1L1311.3 392.6L1299.0 391.0L1295.8 388.3L1288.4 391.5L1286.2 400.1L1280.9 404.9L1275.6 417.2M1288.4 391.5L1291.0 377.0L1299.6 371.7M1270.8 402.7L1274.5 414.5L1275.6 417.2M1237.7 626.7L1243.0 621.8L1250.0 624.0L1249.4 628.3L1244.1 632.0L1239.8 630.4L1237.7 626.7M1259.0 607.4L1263.8 606.8L1264.9 611.7L1260.6 614.3L1258.0 611.1L1259.0 607.4M1155.0 152.0L1157.7 146.7L1160.3 141.3L1158.7 137.6L1158.7 130.6L1165.7 125.3L1171.0 117.2L1176.3 112.9L1181.7 106.5L1189.7 101.1L1203.0 98.5M1222.7 115.6L1220.1 109.2L1219.0 103.8L1203.0 98.5M1242.0 144.0L1251.0 138.6L1261.7 131.1L1253.7 125.3L1253.7 116.1L1248.4 109.2L1253.7 103.8L1245.7 98.5M1243.0 149.4L1240.4 157.4L1241.4 160.1M1223.3 157.9L1232.3 158.5L1241.4 160.1M1241.4 160.1L1244.1 167.0L1235.6 169.7M1205.7 167.6L1216.3 166.0L1227.0 166.5L1235.6 169.7M1235.6 169.7L1231.3 177.2L1219.0 179.4M1219.0 179.4L1215.3 176.7L1215.3 173.5L1206.7 171.9M1215.3 176.7L1199.3 176.7M1219.0 179.4L1221.1 185.8L1219.5 192.2L1221.7 197.6L1214.7 204.5M1169.9 179.4L1169.4 185.3L1172.1 189.5L1173.7 194.9M1173.7 194.9L1181.7 198.6L1189.7 200.2L1193.9 202.9L1200.3 204.0L1214.7 204.5M1173.7 194.9L1160.3 198.6L1167.3 206.7M1167.3 206.7L1173.7 205.6L1184.3 207.2M1184.3 207.2L1193.9 202.9M1184.3 207.2L1185.4 211.0L1193.9 212.0L1203.0 209.4L1212.1 208.8M1212.1 208.8L1214.7 204.5M1139.5 174.0L1146.5 174.5M1132.1 182.6L1131.0 187.9L1125.7 190.6L1125.7 196.0M1111.8 192.8L1120.3 192.8L1124.6 194.4L1125.7 196.0M1107.0 194.4L1115.0 198.6L1120.3 201.9L1125.1 202.9M1125.7 196.0L1126.7 200.8L1127.8 202.9M1125.1 202.9L1127.8 202.9L1137.4 205.6L1134.2 213.1M1134.2 213.1L1139.0 212.6L1144.9 213.6L1149.7 216.9L1147.0 220.1L1141.7 222.2L1138.5 219.5L1131.0 222.2L1126.2 220.1L1130.5 214.7L1134.2 213.1M1131.0 222.2L1129.9 227.0L1131.0 231.3L1133.7 233.5M1149.7 216.9L1158.7 216.3L1166.7 219.0M1144.9 213.6L1152.3 214.2L1163.0 213.1L1163.0 209.4L1167.3 206.7M1166.7 219.0L1173.7 218.5L1179.5 216.9L1181.7 213.6L1184.9 211.0M1166.2 224.4L1175.3 224.4L1181.7 219.0M1166.7 219.0L1166.2 224.4M1179.5 216.9L1181.7 219.0L1187.0 222.2L1194.5 222.2L1201.9 221.1L1206.7 220.1L1211.0 213.6L1215.8 211.0M1212.1 208.8L1215.8 211.0L1224.3 211.5L1235.6 209.4M1235.6 209.4L1243.0 209.4L1249.4 211.5L1253.7 219.5L1244.1 224.4L1244.1 219.0L1235.6 209.4M1244.1 224.4L1252.1 226.0M1214.7 231.3L1216.3 233.5L1229.7 234.0L1237.7 231.9L1246.2 234.0M1201.9 221.1L1207.8 228.1L1214.7 231.3M1214.7 231.3L1213.1 237.7L1213.1 241.5M1213.1 241.5L1215.8 246.9L1224.3 245.8L1233.9 244.7M1233.9 244.7L1235.6 246.9L1232.3 249.5M1233.9 244.7L1243.0 243.1M1200.3 255.4L1205.7 249.5L1215.8 246.9M1197.1 243.6L1203.0 243.1L1203.0 248.5L1205.7 249.5M1203.0 243.1L1208.3 241.5L1213.1 241.5M1177.9 226.0L1184.3 226.0L1195.0 227.6L1196.6 235.1L1192.3 240.4M1177.9 226.0L1180.6 231.3L1187.5 237.7M1195.0 227.6L1195.0 222.2M1195.0 227.6L1201.9 228.1L1207.8 228.1M1196.6 235.1L1201.9 237.7L1203.0 243.1M1192.3 240.4L1196.6 235.1M1046.7 243.6L1049.9 243.1L1059.0 244.7L1056.8 253.8L1053.6 256.5L1056.3 263.5L1054.2 268.8M1084.6 236.1L1097.4 238.8L1110.2 241.0M1219.5 192.2L1227.0 190.1L1243.0 192.2L1256.4 193.3L1263.3 189.0L1272.4 187.9L1283.0 198.1L1296.4 200.8L1307.0 202.4L1306.0 211.0L1297.4 215.8M1244.1 167.0L1258.0 170.3L1259.0 176.1L1267.0 182.6L1263.3 189.0M1307.0 235.6L1320.4 236.7L1331.0 239.4L1341.7 244.2L1348.6 247.4L1352.9 244.2M1315.0 245.8L1325.7 247.9L1333.7 246.9L1341.7 244.2M1325.7 247.9L1326.8 253.3L1332.6 255.4L1328.4 257.0L1331.0 264.5L1332.6 268.8M1333.7 246.9L1339.0 256.5L1341.7 259.7L1349.7 256.5L1354.5 262.4M1332.6 255.4L1341.7 259.7M1061.6 178.3L1054.7 178.3L1049.9 176.1L1054.7 173.5M1356.1 219.5L1359.8 220.1L1381.2 268.3M1352.9 244.2L1370.5 244.2M1354.5 262.4L1378.5 262.4M1373.7 244.2L1370.5 244.2M1332.6 268.8L1319.8 269.4L1307.0 271.0L1296.4 271.0L1289.4 273.6L1285.7 275.2M1319.8 269.4L1313.4 283.3L1300.6 289.2M1285.2 282.7L1288.9 284.9L1284.6 289.7M1280.9 290.8L1284.6 289.7M1300.6 289.2L1290.0 295.1L1284.1 292.9L1283.0 299.4L1280.4 310.1M1276.6 300.4L1279.8 310.1M1280.1 310.6L1286.2 311.7L1293.7 307.4L1296.4 304.7L1291.0 299.4L1302.8 295.9L1300.6 289.2M1302.8 295.9L1309.2 297.2L1318.2 301.5L1332.1 311.7L1341.7 312.2L1347.0 312.7L1351.8 315.4M1341.7 312.2L1344.4 307.4L1349.2 307.4M1332.6 268.8L1338.0 276.3L1335.8 286.0L1340.1 290.2L1348.1 296.7L1348.6 302.0L1352.4 307.4M1322.0 380.2L1324.6 374.4L1334.8 374.9L1344.4 377.0L1355.6 368.5L1371.0 366.3L1376.9 378.9M1371.0 366.3L1387.1 361.0L1390.8 350.2L1388.1 346.5M1388.1 346.5L1374.2 345.4L1368.9 338.5M1388.1 346.5L1392.4 339.0L1394.5 334.7M1381.2 268.3L1387.1 264.5L1398.8 263.5L1410.0 267.2L1420.1 272.0L1419.6 279.0L1416.4 286.0L1418.5 299.4L1423.3 302.0L1418.5 307.9M1418.5 307.9L1423.3 314.9L1428.7 322.4L1430.8 325.6L1422.3 333.1M1418.5 307.9L1427.1 310.6L1435.6 310.6L1447.3 307.9L1447.9 302.6L1456.4 298.8L1463.3 297.2L1464.4 290.8L1468.7 289.2L1472.9 285.4L1475.6 280.6L1473.5 275.2L1483.1 270.4L1493.2 268.8M1420.1 277.4L1429.7 277.9L1437.7 273.6L1444.1 267.2L1448.4 267.7L1455.3 268.8L1463.3 269.4L1468.1 266.7L1468.7 262.4L1474.5 262.9L1475.6 271.5L1484.7 267.2L1493.2 268.8M1356.1 219.5L1352.4 218.5L1344.4 211.0L1341.7 208.3L1344.4 204.5L1343.3 200.8L1352.4 200.2L1354.0 197.0L1364.6 191.1L1373.7 192.2L1384.4 194.9L1390.8 197.0L1400.4 194.9L1408.4 196.5L1421.2 196.0L1413.7 190.1L1419.1 187.4L1419.1 179.4L1429.7 177.8L1441.5 176.7L1457.5 173.5L1471.3 171.9L1473.5 177.8L1485.7 178.8L1486.8 181.5L1501.7 177.8L1509.2 182.6L1520.4 196.0L1536.4 194.9L1548.2 202.4L1559.4 205.1M1559.4 205.1L1552.4 208.8L1549.8 215.8L1536.4 215.2L1532.7 224.4L1520.4 227.0L1524.7 236.7L1521.5 242.0M1521.5 242.0L1515.1 238.8L1497.5 238.8L1485.7 237.7L1472.4 241.5L1469.7 245.8M1472.4 241.5L1459.6 250.6L1449.5 247.4L1445.7 241.0L1446.3 237.7L1439.9 234.0L1424.4 235.1L1419.6 230.2L1406.3 223.8L1392.4 227.0L1392.4 246.9M1392.4 246.9L1381.7 241.5L1373.7 244.2M1392.4 246.9L1397.7 246.9L1405.7 239.4L1413.7 242.0L1413.7 247.4L1424.4 253.8L1435.1 259.7L1448.4 267.7M1521.5 242.0L1509.7 248.5L1499.1 251.7L1487.3 256.5M1487.3 256.5L1493.2 268.8M1487.3 256.5L1476.7 257.6L1469.7 253.8L1463.3 249.5L1469.7 245.8L1477.7 248.5L1483.1 251.1L1476.7 254.4M1463.3 249.5L1456.4 256.5L1453.2 259.7L1456.4 264.5L1455.3 268.8M1493.2 268.8L1499.1 276.3L1509.7 277.9L1515.1 284.4L1513.5 294.0L1516.7 302.0L1525.8 306.3M1504.4 277.9L1491.1 282.2L1487.3 291.3L1495.3 295.1L1491.1 302.0L1485.2 307.9L1477.2 318.6L1467.1 320.2L1468.1 330.4L1472.4 337.4L1460.7 337.9L1457.5 341.1M1525.8 306.3L1521.0 313.8L1531.1 318.6L1541.8 320.8L1551.4 325.6L1563.6 326.7L1563.6 318.6L1555.1 318.1L1549.8 316.5L1539.1 311.7L1533.8 307.9L1525.8 306.3M1563.6 318.6L1567.4 318.1L1571.1 317.6L1579.1 318.1L1585.0 319.2L1584.4 324.0L1573.8 324.5L1568.4 324.5L1567.4 322.4L1567.4 318.1M1585.0 319.2L1595.1 312.7L1605.8 311.1L1612.7 316.5M1563.6 326.7L1568.4 327.2L1572.7 332.6L1586.6 333.6L1580.2 340.1L1582.3 344.9L1586.0 341.7L1587.6 353.5L1586.0 356.7M1563.6 326.7L1564.2 334.2L1567.4 337.9L1566.8 343.8L1568.4 351.3M1587.6 353.5L1590.8 344.9L1596.2 339.5L1598.8 331.5L1601.5 325.1L1611.1 319.7L1612.7 316.5M1612.7 316.5L1620.2 320.8L1620.2 329.9L1614.3 339.5L1621.2 343.8L1622.8 349.7L1627.6 352.9L1633.5 354.5M1633.5 354.5L1627.6 359.4L1621.8 362.0L1615.4 369.0L1621.2 380.2L1617.5 386.7L1622.8 398.5L1625.0 404.9L1620.7 412.4L1619.6 414.5M1627.6 359.4L1629.8 363.6L1633.5 363.6L1633.5 374.4L1638.3 370.6L1645.2 369.5L1652.2 374.4L1652.7 380.2L1657.0 385.6L1654.8 391.5M1654.8 391.5L1643.1 392.0L1639.9 395.2L1642.6 405.4M1654.8 391.5L1659.1 393.1L1667.1 389.4M1667.1 389.4L1667.7 402.2L1661.3 405.4L1658.1 409.2L1651.1 412.4M1667.1 389.4L1667.1 382.4L1661.8 377.0L1654.8 369.0L1648.4 363.6L1652.7 359.9L1643.1 356.7L1638.8 348.1M1633.5 354.5L1636.7 354.5L1638.8 348.1M1638.8 348.1L1647.9 347.0L1655.4 343.3L1662.9 346.0L1662.9 350.2L1669.8 352.9M1627.6 433.5L1632.4 437.0L1636.7 437.0L1638.3 434.9M1559.4 205.1L1562.0 204.5L1573.8 200.2L1586.0 196.0L1600.4 200.2L1616.4 197.6L1618.0 189.5L1627.1 191.1L1638.8 193.3L1639.4 197.6L1653.8 198.1L1664.5 201.9L1672.5 204.0L1683.1 204.5L1696.5 201.3L1706.1 199.2L1716.2 201.3M1562.0 204.5L1573.8 212.0L1579.1 219.0L1579.1 225.4L1592.4 227.6L1602.6 231.3L1607.9 238.8L1627.1 239.9L1636.7 240.4L1653.8 245.2L1667.1 241.0L1677.8 240.4L1690.1 234.0L1690.6 227.0L1699.7 228.1L1711.4 224.4L1713.5 220.1L1719.9 219.0L1732.2 217.9L1733.3 213.6L1725.8 211.5L1722.1 211.0L1711.4 212.0L1716.2 201.3M1716.2 201.3L1722.1 202.9L1729.5 198.6L1738.1 186.3L1739.1 182.6L1753.0 181.2L1763.7 184.2L1770.6 193.3L1773.8 201.3L1784.5 203.5L1792.5 212.6L1800.5 212.6L1812.2 209.4L1808.5 219.0L1803.7 226.5L1797.3 225.4L1792.5 228.1L1793.5 236.1L1790.3 241.0M1790.3 241.0L1787.1 238.3L1781.8 243.1L1777.0 243.1L1770.6 244.2L1765.8 249.0L1757.3 253.8M1769.5 265.6L1771.1 262.9L1778.6 261.3M1845.8 482.0L1845.8 516.8M1678.3 457.4L1683.1 463.3L1691.1 460.6L1699.1 461.1L1706.1 457.4L1709.8 449.9L1710.9 445.1L1720.5 445.6M1755.1 518.5L1760.5 516.3L1761.0 519.0" stroke-width="1.0"/>
<path d="M210.0 178.2L208.3 177.9L205.0 178.7L201.9 180.2L200.9 181.6L202.6 181.9L205.9 181.1L209.0 179.6ZM199.4 181.3L198.1 181.0L195.5 181.6L193.1 182.8L192.3 183.9L193.6 184.2L196.2 183.6L198.6 182.4ZM189.3 184.3L188.3 183.9L186.4 184.2L184.7 185.2L184.3 186.2L185.3 186.6L187.1 186.3L188.8 185.3ZM176.0 187.4L175.2 187.0L173.3 187.1L171.5 187.7L170.8 188.4L171.7 188.8L173.6 188.7L175.4 188.1ZM167.0 188.2L166.0 187.7L163.8 187.7L161.5 188.1L160.6 188.7L161.6 189.2L163.9 189.3L166.1 188.8ZM154.8 190.6L153.8 189.9L151.6 189.5L149.3 189.9L148.4 190.6L149.3 191.4L151.6 191.7L153.8 191.4ZM147.3 190.6L146.7 190.0L145.2 189.8L143.7 190.0L143.0 190.6L143.7 191.2L145.2 191.4L146.7 191.2ZM2050.1 191.7L2049.3 191.1L2047.5 190.9L2045.6 191.1L2044.8 191.7L2045.6 192.3L2047.5 192.5L2049.3 192.3ZM2042.1 189.5L2041.5 188.9L2040.0 188.7L2038.5 188.9L2037.9 189.5L2038.5 190.1L2040.0 190.3L2041.5 190.1ZM2019.2 184.7L2018.4 184.1L2016.5 183.9L2014.7 184.1L2013.9 184.7L2014.7 185.3L2016.5 185.5L2018.4 185.3ZM190.0 128.5L188.6 127.3L185.2 126.9L181.8 127.3L180.4 128.5L181.8 129.6L185.2 130.1L188.6 129.6ZM210.2 146.1L209.3 145.0L207.0 144.5L204.8 145.0L203.8 146.1L204.8 147.3L207.0 147.8L209.3 147.3ZM240.6 173.5L240.2 172.9L239.0 172.7L237.9 172.9L237.4 173.5L237.9 174.1L239.0 174.3L240.2 174.1ZM1981.5 174.3L1981.1 173.4L1979.6 172.2L1977.9 171.5L1976.9 171.6L1977.3 172.5L1978.8 173.6L1980.5 174.4ZM1990.2 175.9L1990.0 175.3L1989.1 174.6L1988.0 174.2L1987.4 174.3L1987.6 174.9L1988.5 175.6L1989.6 176.0ZM1926.2 197.0L1925.3 197.1L1924.2 198.1L1923.4 199.4L1923.4 200.3L1924.2 200.1L1925.4 199.2L1926.2 197.8ZM1918.9 203.3L1918.2 203.4L1917.4 204.1L1916.8 205.1L1916.8 205.8L1917.5 205.7L1918.3 205.0L1918.9 203.9ZM1909.8 213.5L1909.2 213.5L1908.3 214.3L1907.7 215.3L1907.8 215.9L1908.4 215.9L1909.3 215.1L1909.8 214.1ZM1895.7 219.8L1894.8 219.9L1893.3 221.1L1892.1 222.6L1892.0 223.6L1892.9 223.4L1894.4 222.3L1895.5 220.8ZM1885.4 224.3L1883.9 224.5L1881.4 226.2L1879.3 228.4L1878.8 229.8L1880.3 229.6L1882.8 227.8L1884.9 225.6ZM1874.5 229.6L1873.5 229.6L1871.9 230.6L1870.6 232.0L1870.5 233.0L1871.5 233.0L1873.1 232.1L1874.4 230.6ZM267.1 363.1L266.2 361.2L264.1 360.4L262.0 361.2L261.2 363.1L262.0 365.0L264.1 365.8L266.2 365.0ZM261.6 357.3L261.3 356.5L260.2 355.8L258.8 355.6L258.1 356.0L258.4 356.8L259.5 357.6L260.9 357.7ZM677.7 337.9L678.4 334.9L677.9 333.4L676.6 334.2L675.3 336.9L674.6 339.9L675.0 341.4L676.3 340.5ZM683.6 324.8L682.6 324.7L680.9 325.4L679.4 326.6L679.0 327.5L680.0 327.6L681.7 326.8L683.2 325.7ZM687.7 335.0L688.5 333.3L688.5 332.4L687.7 332.8L686.6 334.4L685.8 336.1L685.8 337.0L686.6 336.6ZM692.5 342.2L693.3 340.9L693.3 340.0L692.5 340.2L691.4 341.1L690.6 342.5L690.6 343.3L691.4 343.2ZM701.9 347.8L701.7 347.2L700.8 346.5L699.7 346.1L699.1 346.2L699.3 346.9L700.2 347.6L701.2 348.0ZM705.0 354.5L704.5 353.8L703.2 353.6L701.8 353.8L701.3 354.5L701.8 355.2L703.2 355.5L704.5 355.2ZM713.0 351.3L712.5 350.9L711.2 350.8L709.8 350.9L709.3 351.3L709.8 351.7L711.2 351.9L712.5 351.7ZM753.8 409.2L753.4 408.7L752.2 408.5L751.1 408.7L750.6 409.2L751.1 409.6L752.2 409.8L753.4 409.6ZM653.8 352.4L653.3 351.4L651.9 351.0L650.6 351.4L650.1 352.4L650.6 353.4L651.9 353.7L653.3 353.4ZM609.5 472.4L609.0 470.7L607.7 470.0L606.3 470.7L605.8 472.4L606.3 474.1L607.7 474.8L609.0 474.1ZM1006.7 315.5L1005.8 315.2L1004.6 315.6L1003.5 316.5L1003.5 317.5L1004.3 317.8L1005.6 317.4L1006.6 316.5ZM1019.7 315.7L1019.0 314.4L1018.2 313.9L1017.9 314.7L1018.2 316.2L1019.0 317.6L1019.7 318.0L1020.0 317.2ZM959.5 265.6L959.0 265.2L957.6 265.1L956.3 265.2L955.8 265.6L956.3 266.0L957.6 266.1L959.0 266.0ZM944.2 262.4L943.9 261.9L942.8 261.4L941.7 261.1L941.2 261.3L941.5 261.8L942.5 262.3L943.6 262.6ZM1058.7 136.0L1058.2 134.8L1056.8 134.4L1055.5 134.8L1055.0 136.0L1055.5 137.1L1056.8 137.6L1058.2 137.1ZM1087.8 145.1L1087.5 143.2L1086.7 142.4L1086.0 143.2L1085.6 145.1L1086.0 146.9L1086.7 147.8L1087.5 146.9ZM1078.7 152.0L1078.2 151.3L1077.1 151.0L1076.0 151.3L1075.5 152.0L1076.0 152.8L1077.1 153.1L1078.2 152.8ZM1057.5 158.0L1056.6 156.4L1055.4 155.9L1054.8 157.0L1055.1 158.9L1056.0 160.6L1057.2 161.0L1057.9 159.9ZM1061.6 161.1L1061.2 160.2L1060.0 159.8L1058.9 160.2L1058.4 161.1L1058.9 162.1L1060.0 162.5L1061.2 162.1ZM1063.2 166.0L1062.8 165.4L1061.6 165.2L1060.5 165.4L1060.0 166.0L1060.5 166.6L1061.6 166.8L1062.8 166.6ZM1111.5 256.0L1110.8 255.0L1109.1 254.6L1107.4 255.0L1106.7 256.0L1107.4 256.9L1109.1 257.3L1110.8 256.9ZM1235.6 258.1L1235.1 257.5L1233.9 257.3L1232.8 257.5L1232.3 258.1L1232.8 258.7L1233.9 258.9L1235.1 258.7ZM1243.6 273.6L1242.6 272.8L1241.8 272.7L1241.7 273.5L1242.4 274.7L1243.4 275.6L1244.2 275.6L1244.3 274.8ZM1220.7 261.9L1221.7 260.2L1221.8 259.3L1220.9 259.5L1219.5 260.8L1218.4 262.4L1218.4 263.4L1219.3 263.1ZM1217.4 155.3L1216.3 154.3L1213.7 153.9L1211.1 154.3L1209.9 155.3L1211.1 156.2L1213.7 156.6L1216.3 156.2ZM1216.6 152.6L1216.1 151.9L1214.7 151.6L1213.4 151.9L1212.9 152.6L1213.4 153.3L1214.7 153.5L1216.1 153.3ZM1183.4 163.7L1182.6 161.5L1181.9 160.7L1181.7 161.7L1182.1 164.0L1182.9 166.1L1183.6 166.9L1183.8 165.9ZM1151.5 171.9L1150.8 170.7L1149.1 170.3L1147.4 170.7L1146.7 171.9L1147.4 173.0L1149.1 173.5L1150.8 173.0ZM1201.9 145.6L1201.5 145.0L1200.3 144.8L1199.2 145.0L1198.7 145.6L1199.2 146.2L1200.3 146.4L1201.5 146.2ZM900.6 761.0L899.7 759.6L896.9 757.8L893.6 756.7L891.9 756.9L892.8 758.4L895.7 760.2L898.9 761.3ZM1141.0 448.8L1140.2 448.0L1139.3 448.0L1138.8 448.8L1139.2 449.9L1140.0 450.7L1140.9 450.7L1141.3 449.9ZM1391.3 581.1L1390.8 580.2L1389.7 579.8L1388.6 580.2L1388.1 581.1L1388.6 582.1L1389.7 582.5L1390.8 582.1ZM1402.0 576.6L1401.6 575.5L1400.7 575.1L1399.7 575.5L1399.3 576.6L1399.7 577.7L1400.7 578.1L1401.6 577.7ZM1384.4 401.1L1383.4 400.4L1381.2 400.2L1378.9 400.4L1378.0 401.1L1378.9 401.8L1381.2 402.1L1383.4 401.8ZM1407.5 358.4L1406.7 357.5L1406.0 357.4L1405.7 358.1L1406.1 359.2L1406.8 360.1L1407.6 360.2L1407.9 359.5ZM1394.9 323.6L1394.0 323.5L1392.2 323.9L1390.5 324.7L1389.9 325.4L1390.8 325.6L1392.6 325.1L1394.3 324.3ZM1306.1 495.4L1305.9 494.3L1305.4 493.8L1305.0 494.3L1304.8 495.4L1305.0 496.5L1305.4 497.0L1305.9 496.5ZM1304.5 501.0L1304.3 499.9L1303.8 499.4L1303.4 499.9L1303.2 501.0L1303.4 502.2L1303.8 502.7L1304.3 502.2ZM1486.2 445.6L1486.1 444.3L1485.7 443.7L1485.4 444.3L1485.3 445.6L1485.4 446.9L1485.7 447.5L1486.1 446.9ZM1589.5 401.1L1589.0 398.1L1588.3 396.9L1587.9 398.2L1587.9 401.2L1588.4 404.2L1589.1 405.4L1589.5 404.1ZM1468.7 732.2L1467.4 730.5L1464.4 729.8L1461.4 730.5L1460.1 732.2L1461.4 733.9L1464.4 734.6L1467.4 733.9ZM1614.3 461.8L1613.1 460.8L1612.4 460.5L1612.4 461.4L1613.3 462.6L1614.4 463.7L1615.2 463.9L1615.1 463.1ZM1621.8 475.1L1620.3 473.6L1619.4 473.3L1619.5 474.4L1620.7 476.1L1622.1 477.6L1623.1 477.8L1623.0 476.8ZM1628.6 482.8L1627.8 482.0L1627.2 481.9L1627.2 482.5L1627.8 483.4L1628.6 484.2L1629.2 484.3L1629.2 483.7ZM1671.7 483.6L1671.1 482.5L1669.8 482.0L1668.5 482.5L1667.9 483.6L1668.5 484.8L1669.8 485.2L1671.1 484.8ZM1699.1 505.9L1698.2 505.3L1695.9 505.1L1693.7 505.3L1692.7 505.9L1693.7 506.5L1695.9 506.7L1698.2 506.5ZM1750.1 494.9L1749.7 493.2L1748.7 492.5L1747.8 493.2L1747.4 494.9L1747.8 496.6L1748.7 497.3L1749.7 496.6ZM1748.3 496.5L1748.1 495.4L1747.7 494.9L1747.2 495.4L1747.0 496.5L1747.2 497.6L1747.7 498.1L1748.1 497.6ZM1751.9 476.1L1751.5 475.8L1750.3 475.6L1749.2 475.8L1748.7 476.1L1749.2 476.5L1750.3 476.7L1751.5 476.5ZM1759.7 477.7L1759.1 477.4L1757.8 477.2L1756.5 477.4L1755.9 477.7L1756.5 478.1L1757.8 478.3L1759.1 478.1ZM1766.9 478.0L1766.4 477.6L1765.3 477.5L1764.2 477.6L1763.7 478.0L1764.2 478.4L1765.3 478.5L1766.4 478.4ZM1775.4 476.1L1774.9 475.7L1773.8 475.5L1772.7 475.7L1772.2 476.1L1772.7 476.6L1773.8 476.8L1774.9 476.6ZM1776.6 470.2L1776.4 469.1L1775.9 468.6L1775.5 469.1L1775.3 470.2L1775.5 471.4L1775.9 471.8L1776.4 471.4ZM1788.7 478.3L1788.3 477.7L1787.1 477.5L1786.0 477.7L1785.5 478.3L1786.0 478.9L1787.1 479.1L1788.3 478.9ZM1793.0 469.2L1792.5 468.6L1791.4 468.4L1790.3 468.6L1789.8 469.2L1790.3 469.8L1791.4 470.0L1792.5 469.8ZM1812.5 501.1L1811.7 498.9L1810.6 498.2L1809.8 499.2L1809.8 501.5L1810.6 503.7L1811.7 504.5L1812.5 503.4ZM1802.0 498.6L1801.9 497.1L1801.6 496.5L1801.2 497.1L1801.1 498.6L1801.2 500.1L1801.6 500.8L1801.9 500.1ZM1796.2 508.4L1795.3 506.9L1794.3 506.6L1793.9 507.5L1794.1 509.2L1795.0 510.7L1796.0 511.1L1796.4 510.2ZM1769.5 509.3L1769.1 508.8L1767.9 508.5L1766.8 508.8L1766.3 509.3L1766.8 509.9L1767.9 510.2L1769.1 509.9ZM1760.2 512.2L1759.6 512.0L1758.2 512.0L1757.0 512.4L1756.5 512.9L1757.1 513.2L1758.4 513.1L1759.7 512.7ZM1751.8 524.9L1751.2 524.6L1750.1 524.8L1749.1 525.4L1748.8 526.0L1749.4 526.2L1750.6 526.0L1751.6 525.5ZM1819.9 477.5L1819.5 477.0L1818.2 476.7L1816.9 476.6L1816.3 476.9L1816.7 477.4L1818.0 477.7L1819.3 477.8ZM1821.3 473.5L1820.6 472.9L1819.2 472.7L1817.7 472.9L1817.0 473.5L1817.7 474.0L1819.2 474.3L1820.6 474.0ZM1755.4 412.7L1754.0 409.5L1753.0 408.4L1752.9 409.9L1753.9 413.2L1755.2 416.3L1756.3 417.5L1756.3 415.9ZM1757.8 415.3L1757.3 414.6L1756.2 414.4L1755.1 414.6L1754.6 415.3L1755.1 416.0L1756.2 416.3L1757.3 416.0ZM1777.1 325.6L1775.9 324.6L1775.1 324.5L1775.1 325.3L1775.9 326.7L1777.0 327.6L1777.9 327.8L1777.9 326.9ZM1783.9 283.7L1783.4 282.6L1782.9 282.3L1782.7 282.9L1782.9 284.0L1783.5 285.0L1783.9 285.3L1784.2 284.8ZM1770.3 289.2L1769.8 288.6L1768.5 288.4L1767.1 288.6L1766.6 289.2L1767.1 289.8L1768.5 290.0L1769.8 289.8ZM1828.8 173.5L1828.3 172.5L1827.2 172.1L1826.0 172.5L1825.6 173.5L1826.0 174.4L1827.2 174.8L1828.3 174.4ZM1968.5 152.7L1967.8 152.6L1966.6 153.1L1965.5 153.9L1965.3 154.6L1966.0 154.7L1967.2 154.2L1968.3 153.4ZM1880.0 478.8L1879.3 478.2L1877.8 478.0L1876.3 478.2L1875.7 478.8L1876.3 479.4L1877.8 479.6L1879.3 479.4ZM1932.6 507.0L1932.3 506.2L1931.0 505.1L1929.5 504.3L1928.7 504.2L1929.0 505.0L1930.3 506.1L1931.8 506.9ZM1936.9 514.0L1936.6 513.1L1935.4 511.9L1933.8 511.1L1932.9 511.2L1933.2 512.0L1934.4 513.2L1936.0 514.0ZM1944.1 513.4L1943.7 512.5L1942.3 511.0L1940.6 509.8L1939.6 509.6L1940.0 510.5L1941.4 512.0L1943.1 513.2ZM1950.3 520.4L1949.6 519.2L1947.5 518.2L1945.3 518.0L1944.1 518.7L1944.7 519.8L1946.9 520.8L1949.1 521.0ZM1953.0 515.9L1951.8 513.6L1950.7 512.8L1950.4 514.1L1951.0 516.7L1952.2 519.0L1953.3 519.8L1953.6 518.6ZM1959.6 525.7L1959.2 524.8L1957.7 523.7L1956.0 522.9L1955.0 523.0L1955.4 523.9L1956.9 525.0L1958.7 525.8ZM1985.6 550.1L1985.1 548.0L1984.0 547.1L1982.9 548.0L1982.4 550.1L1982.9 552.2L1984.0 553.0L1985.1 552.2ZM1987.7 555.3L1987.8 554.1L1987.2 553.4L1986.3 553.5L1985.6 554.5L1985.5 555.7L1986.1 556.4L1987.0 556.2ZM1990.7 550.6L1990.6 549.5L1990.4 549.0L1990.2 549.5L1990.1 550.6L1990.2 551.7L1990.4 552.2L1990.6 551.7ZM2052.9 556.0L2051.9 555.8L2049.9 556.3L2048.0 557.2L2047.4 558.0L2048.4 558.3L2050.4 557.8L2052.3 556.9ZM175.8 541.4L175.4 540.8L174.1 540.3L172.8 540.2L172.2 540.5L172.6 541.1L173.8 541.6L175.1 541.8ZM153.7 703.5L153.2 703.0L152.1 702.7L151.0 703.0L150.5 703.5L151.0 704.1L152.1 704.3L153.2 704.1ZM695.7 736.0L695.2 733.7L694.1 732.7L693.0 733.7L692.5 736.0L693.0 738.2L694.1 739.2L695.2 738.2ZM696.2 729.5L695.9 728.0L695.2 727.4L694.4 728.0L694.1 729.5L694.4 731.0L695.2 731.7L695.9 731.0ZM696.0 744.0L695.6 742.5L694.6 741.8L693.7 742.5L693.3 744.0L693.7 745.5L694.6 746.1L695.6 745.5ZM700.2 708.1L700.0 707.0L699.4 706.5L698.8 707.0L698.6 708.1L698.8 709.2L699.4 709.7L700.0 709.2ZM709.9 758.5L709.2 757.6L707.2 756.6L705.0 756.1L703.9 756.3L704.6 757.1L706.6 758.1L708.8 758.7ZM725.6 764.3L724.8 763.9L722.9 763.7L721.0 763.9L720.2 764.3L721.0 764.8L722.9 765.0L724.8 764.8ZM733.6 765.4L733.1 765.0L732.0 764.9L730.8 765.0L730.4 765.4L730.8 765.8L732.0 765.9L733.1 765.8ZM752.2 761.4L751.8 761.2L750.6 761.1L749.5 761.2L749.0 761.4L749.5 761.6L750.6 761.7L751.8 761.6ZM832.3 472.4L831.0 470.5L828.0 469.7L824.9 470.5L823.7 472.4L824.9 474.3L828.0 475.1L831.0 474.3ZM826.9 466.5L826.4 465.7L825.3 465.4L824.2 465.7L823.7 466.5L824.2 467.2L825.3 467.6L826.4 467.2ZM390.4 182.9L390.4 180.8L388.9 179.3L386.8 179.4L385.4 181.1L385.4 183.3L386.9 184.8L388.9 184.7ZM393.0 187.1L393.3 185.7L392.6 184.7L391.3 184.6L390.2 185.5L390.0 186.9L390.7 187.9L391.9 188.0ZM386.4 171.6L386.5 169.2L385.3 167.8L383.3 168.1L381.9 170.0L381.8 172.3L383.0 173.8L384.9 173.5ZM377.6 163.3L377.9 161.2L377.2 160.0L375.8 160.4L374.7 162.2L374.4 164.3L375.1 165.5L376.5 165.1ZM372.0 160.6L372.4 158.6L371.7 157.6L370.5 158.0L369.6 159.6L369.3 161.5L369.9 162.6L371.1 162.2ZM378.3 157.9L377.8 156.8L376.7 156.3L375.6 156.8L375.1 157.9L375.6 159.1L376.7 159.5L377.8 159.1ZM386.3 165.4L386.0 164.3L385.2 163.8L384.5 164.3L384.1 165.4L384.5 166.6L385.2 167.0L386.0 166.6ZM404.2 185.0L404.5 183.6L403.8 182.6L402.5 182.5L401.4 183.4L401.2 184.8L401.9 185.8L403.1 185.9ZM760.5 220.1L759.3 219.3L756.5 219.0L753.7 219.3L752.5 220.1L753.7 220.8L756.5 221.1L759.3 220.8ZM762.8 203.8L761.4 202.8L757.8 201.7L754.0 201.4L752.3 202.0L753.7 203.1L757.4 204.1L761.1 204.4ZM669.0 167.0L668.5 165.2L667.4 164.4L666.3 165.2L665.8 167.0L666.3 168.9L667.4 169.7L668.5 168.9ZM669.9 133.2L668.5 132.2L666.1 132.3L664.2 133.7L663.9 135.5L665.3 136.6L667.6 136.4L669.5 135.0ZM658.9 131.7L658.1 130.6L656.2 130.1L654.3 130.6L653.5 131.7L654.3 132.8L656.2 133.3L658.1 132.8ZM670.3 137.0L670.1 135.9L669.5 135.4L669.0 135.9L668.7 137.0L669.0 138.2L669.5 138.6L670.1 138.2ZM643.9 115.1L643.1 113.9L641.3 113.5L639.4 113.9L638.6 115.1L639.4 116.2L641.3 116.7L643.1 116.2ZM750.1 138.6L749.6 137.9L748.5 137.6L747.4 137.9L746.9 138.6L747.4 139.4L748.5 139.7L749.6 139.4ZM730.9 144.0L730.4 143.0L729.3 142.7L728.2 143.0L727.7 144.0L728.2 145.0L729.3 145.3L730.4 145.0ZM708.2 248.6L706.9 248.3L704.1 248.6L701.3 249.3L700.3 250.0L701.5 250.2L704.3 249.9L707.1 249.2ZM495.1 313.3L495.5 312.3L495.4 311.6L494.7 311.8L494.0 312.7L493.6 313.8L493.8 314.4L494.4 314.2ZM489.1 311.5L489.7 310.4L489.6 309.8L489.0 310.0L488.3 310.8L487.7 311.8L487.8 312.5L488.4 312.3ZM1697.3 605.8L1697.5 604.3L1697.4 603.7L1697.0 604.2L1696.7 605.7L1696.5 607.2L1696.6 607.9L1696.9 607.3ZM1824.2 543.1L1823.7 542.0L1822.4 541.5L1821.0 542.0L1820.5 543.1L1821.0 544.2L1822.4 544.7L1823.7 544.2ZM1794.1 530.0L1793.1 529.2L1790.9 528.9L1788.6 529.2L1787.7 530.0L1788.6 530.7L1790.9 531.0L1793.1 530.7ZM1829.3 659.9L1828.2 659.3L1825.6 659.1L1822.9 659.3L1821.8 659.9L1822.9 660.5L1825.6 660.7L1828.2 660.5ZM1911.4 603.0L1911.0 601.2L1910.4 600.5L1910.2 601.3L1910.4 603.2L1910.9 605.0L1911.4 605.7L1911.6 604.9ZM1884.2 682.4L1883.9 681.0L1883.2 680.5L1882.4 681.0L1882.1 682.4L1882.4 683.7L1883.2 684.3L1883.9 683.7ZM1248.9 247.4L1243.0 243.6L1241.4 239.4L1242.5 235.6L1246.2 233.5L1246.8 228.6L1251.6 226.0L1254.8 221.7L1258.0 219.0L1263.3 218.5L1267.0 221.1L1272.9 221.1L1267.6 224.9L1272.4 229.2L1276.6 229.7L1282.0 227.0L1288.4 225.4L1280.4 223.3L1280.4 220.6L1288.4 217.9L1296.4 215.8L1302.8 215.2L1298.0 217.9L1295.3 221.7L1296.4 224.4L1291.0 225.4L1293.7 228.6L1299.0 230.8L1305.4 235.1L1312.4 238.8L1315.6 243.1L1315.0 245.8L1307.0 248.5L1299.0 249.0L1291.0 247.9L1285.7 245.2L1280.4 243.1L1272.4 243.1L1264.4 244.7L1259.0 247.9L1253.2 247.9ZM1267.0 108.6L1279.3 113.5L1277.7 118.8L1279.3 123.1L1288.4 125.8L1296.4 123.6L1290.0 119.4L1299.0 121.0L1307.0 122.0L1307.0 117.2L1317.7 112.4L1328.4 114.5L1328.4 106.5L1328.4 98.5L1307.0 98.5L1312.4 107.6L1312.4 111.9L1301.7 114.0L1285.7 111.9L1275.0 109.2Z" />
<path d="M186.0 161.7L185.8 161.3L185.2 161.1L184.6 161.3L184.4 161.7L184.6 162.1L185.2 162.2L185.8 162.1ZM257.5 355.1L257.1 354.7L256.1 354.5L255.2 354.7L254.8 355.1L255.2 355.4L256.1 355.6L257.1 355.4ZM252.0 353.4L251.9 352.6L251.1 352.0L250.1 352.0L249.6 352.4L249.7 353.2L250.5 353.8L251.4 353.9ZM244.0 350.0L243.6 349.3L242.8 349.0L241.9 349.3L241.6 350.0L241.9 350.7L242.8 350.9L243.6 350.7ZM679.2 334.2L678.8 333.7L678.1 333.5L677.3 333.7L677.0 334.2L677.3 334.6L678.1 334.8L678.8 334.6ZM749.8 370.1L749.5 369.7L748.5 369.6L747.5 369.7L747.2 370.1L747.5 370.4L748.5 370.5L749.5 370.4ZM758.1 371.1L757.9 370.8L757.6 370.6L757.2 370.8L757.0 371.1L757.2 371.5L757.6 371.7L757.9 371.5ZM764.6 376.5L764.4 376.1L764.0 375.9L763.5 376.1L763.3 376.5L763.5 376.9L764.0 377.1L764.4 376.9ZM766.9 381.3L766.5 380.6L765.6 380.2L764.6 380.6L764.2 381.3L764.6 382.1L765.6 382.4L766.5 382.1ZM767.2 385.6L767.0 384.9L766.6 384.5L766.3 384.9L766.1 385.6L766.3 386.4L766.6 386.7L767.0 386.4ZM768.9 389.9L768.7 388.9L768.2 388.5L767.8 388.9L767.6 389.9L767.8 390.9L768.2 391.2L768.7 390.9ZM769.0 393.6L768.9 392.9L768.5 392.7L768.1 392.9L768.0 393.6L768.1 394.3L768.5 394.6L768.9 394.3ZM767.6 397.4L767.5 397.0L767.2 396.7L766.9 397.0L766.7 397.4L766.9 397.8L767.2 398.0L767.5 397.8ZM776.5 397.7L776.3 397.2L776.0 397.0L775.6 397.2L775.4 397.7L775.6 398.1L776.0 398.3L776.3 398.1ZM765.0 403.3L764.9 402.9L764.5 402.6L764.1 402.9L764.0 403.3L764.1 403.7L764.5 403.9L764.9 403.7ZM726.7 403.4L726.6 402.9L725.8 402.3L724.9 401.9L724.4 402.1L724.5 402.6L725.3 403.2L726.2 403.5ZM729.8 402.7L729.7 402.2L729.3 401.9L728.9 402.2L728.8 402.7L728.9 403.3L729.3 403.5L729.7 403.3ZM720.7 401.6L720.8 401.2L720.5 400.8L720.1 400.6L719.7 400.7L719.7 401.1L720.0 401.5L720.4 401.7ZM661.3 364.7L661.1 364.5L660.5 364.4L659.9 364.5L659.7 364.7L659.9 364.9L660.5 365.0L661.1 364.9ZM612.9 471.3L612.6 470.7L611.9 470.5L611.2 470.7L611.0 471.3L611.2 471.9L611.9 472.1L612.6 471.9ZM617.3 472.7L617.0 472.3L616.2 472.1L615.5 472.3L615.1 472.7L615.5 473.0L616.2 473.2L617.0 473.0ZM606.3 470.2L606.1 469.8L605.5 469.6L604.9 469.8L604.7 470.2L604.9 470.7L605.5 470.9L606.1 470.7ZM1011.6 318.1L1011.3 317.4L1010.4 317.0L1009.6 317.4L1009.3 318.1L1009.6 318.9L1010.4 319.2L1011.3 318.9ZM1021.9 312.1L1021.3 311.8L1020.6 312.2L1020.1 312.8L1020.3 313.4L1020.9 313.7L1021.6 313.3L1022.1 312.7ZM998.7 314.4L998.5 313.6L998.2 313.3L997.8 313.6L997.6 314.4L997.8 315.1L998.2 315.4L998.5 315.1ZM1002.4 317.6L1002.3 317.2L1001.9 317.0L1001.5 317.2L1001.4 317.6L1001.5 317.9L1001.9 318.1L1002.3 317.9ZM1004.3 292.7L1003.9 292.3L1003.0 292.1L1002.0 292.3L1001.6 292.7L1002.0 293.0L1003.0 293.2L1003.9 293.0ZM949.3 260.8L949.1 260.5L948.5 260.4L948.0 260.5L947.7 260.8L948.0 261.1L948.5 261.2L949.1 261.1ZM927.6 256.5L927.5 256.1L927.2 256.0L926.9 256.1L926.8 256.5L926.9 256.9L927.2 257.0L927.5 256.9ZM968.8 387.2L968.5 386.2L967.8 385.9L967.0 386.2L966.7 387.2L967.0 388.2L967.8 388.5L968.5 388.2ZM964.7 388.3L964.4 387.9L964.0 387.6L963.6 387.9L963.4 388.3L963.6 388.7L964.0 388.9L964.4 388.7ZM966.3 382.4L966.0 382.0L965.6 381.7L965.2 382.0L965.0 382.4L965.2 382.8L965.6 383.0L966.0 382.8ZM972.0 381.9L971.9 381.3L971.5 381.0L971.1 381.3L971.0 381.9L971.1 382.4L971.5 382.7L971.9 382.4ZM960.8 376.7L960.3 376.4L959.6 376.5L958.9 376.9L958.7 377.4L959.2 377.6L959.9 377.5L960.6 377.1ZM971.5 378.4L971.3 377.9L971.0 377.7L970.6 377.9L970.4 378.4L970.6 378.8L971.0 379.0L971.3 378.8ZM1061.6 169.2L1061.3 168.4L1060.6 168.1L1059.8 168.4L1059.5 169.2L1059.8 169.9L1060.6 170.3L1061.3 169.9ZM1070.4 177.8L1070.2 176.8L1069.6 176.4L1069.1 176.8L1068.8 177.8L1069.1 178.7L1069.6 179.1L1070.2 178.7ZM1116.6 254.1L1116.3 253.8L1115.5 253.7L1114.8 253.8L1114.5 254.1L1114.8 254.4L1115.5 254.5L1116.3 254.4ZM1101.9 259.4L1101.7 259.0L1101.1 258.8L1100.5 259.0L1100.3 259.4L1100.5 259.9L1101.1 260.1L1101.7 259.9ZM1171.1 275.8L1170.9 275.5L1170.5 275.4L1170.0 275.5L1169.8 275.8L1170.0 276.1L1170.5 276.2L1170.9 276.1ZM1149.2 238.8L1149.0 238.6L1148.6 238.5L1148.2 238.6L1148.0 238.8L1148.2 239.0L1148.6 239.1L1149.0 239.0ZM1200.3 256.2L1200.6 255.3L1200.4 254.8L1200.0 254.9L1199.3 255.7L1199.0 256.6L1199.1 257.1L1199.6 257.0ZM1204.2 263.5L1204.0 262.7L1203.5 262.4L1203.1 262.7L1202.9 263.5L1203.1 264.2L1203.5 264.5L1204.0 264.2ZM1233.1 262.4L1232.9 261.6L1232.3 261.3L1231.8 261.6L1231.5 262.4L1231.8 263.1L1232.3 263.5L1232.9 263.1ZM1229.8 270.4L1229.6 270.0L1229.1 269.8L1228.7 270.0L1228.5 270.4L1228.7 270.9L1229.1 271.1L1229.6 270.9ZM1227.1 265.3L1226.9 264.6L1226.5 264.3L1226.1 264.6L1225.8 265.3L1226.1 266.1L1226.5 266.4L1226.9 266.1ZM1239.0 265.9L1238.6 265.6L1237.7 265.4L1236.7 265.6L1236.4 265.9L1236.7 266.2L1237.7 266.3L1238.6 266.2ZM1228.6 269.4L1228.5 269.0L1228.1 268.8L1227.7 269.0L1227.5 269.4L1227.7 269.7L1228.1 269.9L1228.5 269.7ZM1174.2 172.7L1173.9 172.3L1173.1 172.1L1172.4 172.3L1172.1 172.7L1172.4 173.0L1173.1 173.2L1173.9 173.0ZM952.8 778.8L952.7 778.1L952.3 777.7L951.9 778.1L951.7 778.8L951.9 779.6L952.3 779.9L952.7 779.6ZM1017.3 510.7L1017.2 510.4L1016.8 510.3L1016.5 510.4L1016.4 510.7L1016.5 511.0L1016.8 511.1L1017.2 511.0ZM1063.7 553.5L1063.6 553.2L1063.2 553.1L1062.9 553.2L1062.8 553.5L1062.9 553.9L1063.2 554.0L1063.6 553.9ZM1028.5 666.8L1028.4 666.5L1028.0 666.4L1027.7 666.5L1027.6 666.8L1027.7 667.2L1028.0 667.3L1028.4 667.2ZM1040.7 684.0L1040.6 683.7L1040.3 683.6L1040.0 683.7L1039.9 684.0L1040.0 684.3L1040.3 684.4L1040.6 684.3ZM1112.3 759.5L1112.2 759.3L1111.8 759.2L1111.4 759.3L1111.3 759.5L1111.4 759.7L1111.8 759.8L1112.2 759.7ZM937.6 577.9L937.6 577.7L937.3 577.7L937.1 577.7L937.1 577.9L937.1 578.1L937.3 578.2L937.6 578.1ZM921.2 488.7L921.1 488.5L920.8 488.5L920.5 488.5L920.4 488.7L920.5 488.9L920.8 489.0L921.1 488.9ZM1129.5 466.8L1129.3 466.1L1128.9 465.8L1128.4 466.1L1128.2 466.8L1128.4 467.5L1128.9 467.7L1129.3 467.5ZM1133.6 459.5L1133.4 459.2L1133.1 459.1L1132.8 459.2L1132.7 459.5L1132.8 459.9L1133.1 460.0L1133.4 459.9ZM1123.8 475.9L1123.7 475.7L1123.5 475.6L1123.3 475.7L1123.3 475.9L1123.3 476.1L1123.5 476.1L1123.7 476.1ZM1325.5 530.8L1325.3 530.0L1324.9 529.7L1324.5 530.0L1324.3 530.8L1324.5 531.5L1324.9 531.8L1325.3 531.5ZM1331.3 533.5L1331.1 533.1L1330.5 533.0L1329.9 533.1L1329.7 533.5L1329.9 533.8L1330.5 533.9L1331.1 533.8ZM1335.0 536.7L1334.9 536.3L1334.5 536.1L1334.1 536.3L1334.0 536.7L1334.1 537.0L1334.5 537.2L1334.9 537.0ZM1327.7 534.0L1327.6 533.8L1327.3 533.7L1327.0 533.8L1326.9 534.0L1327.0 534.2L1327.3 534.3L1327.6 534.2ZM1341.3 518.5L1341.1 518.2L1340.6 518.2L1340.2 518.2L1340.0 518.5L1340.2 518.7L1340.6 518.7L1341.1 518.7ZM1432.3 573.6L1432.2 573.4L1431.9 573.4L1431.5 573.4L1431.4 573.6L1431.5 573.8L1431.9 573.9L1432.2 573.8ZM1390.3 493.0L1390.1 492.4L1389.7 492.2L1389.3 492.4L1389.2 493.0L1389.3 493.6L1389.7 493.8L1390.1 493.6ZM1372.8 402.7L1372.5 402.5L1372.1 402.4L1371.7 402.5L1371.5 402.7L1371.7 403.0L1372.1 403.1L1372.5 403.0ZM1364.0 328.6L1363.7 327.8L1363.3 327.5L1362.9 327.8L1362.7 328.6L1362.9 329.3L1363.3 329.6L1363.7 329.3ZM1306.4 510.4L1306.3 509.8L1306.0 509.6L1305.6 509.8L1305.5 510.4L1305.6 511.0L1306.0 511.2L1306.3 511.0ZM1308.9 383.5L1308.5 382.9L1307.6 382.7L1306.6 382.9L1306.2 383.5L1306.6 384.0L1307.6 384.3L1308.5 384.0ZM1318.8 378.6L1318.5 378.2L1317.7 378.0L1317.0 378.2L1316.6 378.6L1317.0 379.1L1317.7 379.3L1318.5 379.1ZM1483.9 465.4L1483.8 464.7L1483.6 464.4L1483.4 464.7L1483.3 465.4L1483.4 466.2L1483.6 466.5L1483.8 466.2ZM1484.4 471.6L1484.4 471.4L1484.1 471.3L1483.9 471.4L1483.9 471.6L1483.9 471.8L1484.1 471.8L1484.4 471.8ZM1482.3 409.2L1482.2 408.4L1482.0 408.1L1481.8 408.4L1481.7 409.2L1481.8 409.9L1482.0 410.2L1482.2 409.9ZM1480.1 507.2L1480.1 507.0L1479.9 506.9L1479.7 507.0L1479.6 507.2L1479.7 507.4L1479.9 507.5L1480.1 507.4ZM1588.3 410.8L1588.1 410.0L1587.6 409.7L1587.2 410.0L1587.0 410.8L1587.2 411.5L1587.6 411.9L1588.1 411.5ZM1589.1 418.8L1589.0 418.5L1588.7 418.4L1588.4 418.5L1588.3 418.8L1588.4 419.1L1588.7 419.2L1589.0 419.1ZM1593.0 425.2L1592.8 424.7L1592.4 424.4L1592.1 424.7L1591.9 425.2L1592.1 425.8L1592.4 426.0L1592.8 425.8ZM1594.7 430.6L1594.5 429.9L1594.0 429.5L1593.6 429.9L1593.4 430.6L1593.6 431.4L1594.0 431.7L1594.5 431.4ZM1370.8 716.7L1370.6 716.3L1370.0 716.2L1369.4 716.3L1369.2 716.7L1369.4 717.0L1370.0 717.1L1370.6 717.0ZM1295.9 719.3L1295.7 719.0L1295.3 718.9L1294.9 719.0L1294.7 719.3L1294.9 719.7L1295.3 719.8L1295.7 719.7ZM1507.7 671.7L1507.6 671.5L1507.3 671.3L1507.1 671.5L1507.0 671.7L1507.1 671.9L1507.3 672.0L1507.6 671.9ZM1486.8 752.6L1486.5 752.2L1485.7 752.0L1485.0 752.2L1484.7 752.6L1485.0 752.9L1485.7 753.1L1486.5 752.9ZM1610.6 533.2L1610.5 533.0L1610.3 532.9L1610.1 533.0L1610.0 533.2L1610.1 533.4L1610.3 533.5L1610.5 533.4ZM1657.7 524.3L1657.6 524.1L1657.3 524.0L1656.9 524.1L1656.8 524.3L1656.9 524.6L1657.3 524.7L1657.6 524.6ZM1639.9 497.0L1639.8 496.7L1639.4 496.5L1639.0 496.7L1638.8 497.0L1639.0 497.4L1639.4 497.6L1639.8 497.4ZM1606.2 453.7L1605.5 453.2L1604.8 453.2L1604.8 453.8L1605.3 454.6L1606.1 455.1L1606.7 455.1L1606.8 454.5ZM1652.2 463.3L1651.9 462.7L1651.1 462.5L1650.4 462.7L1650.0 463.3L1650.4 463.9L1651.1 464.1L1651.9 463.9ZM1653.0 469.7L1652.6 469.0L1651.6 468.6L1650.7 469.0L1650.3 469.7L1650.7 470.5L1651.6 470.8L1652.6 470.5ZM1671.5 447.2L1671.3 446.6L1670.9 446.4L1670.4 446.6L1670.2 447.2L1670.4 447.8L1670.9 448.0L1671.3 447.8ZM1661.3 451.5L1661.1 451.2L1660.7 451.1L1660.3 451.2L1660.2 451.5L1660.3 451.8L1660.7 451.9L1661.1 451.8ZM1710.3 505.1L1710.2 504.8L1709.8 504.8L1709.4 504.8L1709.3 505.1L1709.4 505.3L1709.8 505.3L1710.2 505.3ZM1744.6 470.2L1744.4 469.9L1743.9 469.8L1743.5 469.9L1743.3 470.2L1743.5 470.6L1743.9 470.7L1744.4 470.6ZM1789.5 472.9L1789.3 472.5L1788.7 472.4L1788.2 472.5L1787.9 472.9L1788.2 473.3L1788.7 473.5L1789.3 473.3ZM1786.7 510.4L1786.5 510.2L1786.1 510.1L1785.7 510.2L1785.4 510.4L1785.7 510.6L1786.1 510.7L1786.5 510.6ZM1772.2 512.0L1771.9 511.7L1771.1 511.6L1770.4 511.7L1770.1 512.0L1770.4 512.3L1771.1 512.5L1771.9 512.3ZM1753.8 513.1L1753.4 512.7L1752.5 512.6L1751.5 512.7L1751.1 513.1L1751.5 513.5L1752.5 513.6L1753.4 513.5ZM1744.0 524.3L1743.8 524.1L1743.4 524.0L1743.0 524.1L1742.8 524.3L1743.0 524.6L1743.4 524.7L1743.8 524.6ZM1775.8 452.0L1775.7 451.4L1775.4 451.2L1775.1 451.4L1775.0 452.0L1775.1 452.6L1775.4 452.8L1775.7 452.6ZM1770.6 445.6L1770.5 444.6L1770.1 444.3L1769.7 444.6L1769.5 445.6L1769.7 446.6L1770.1 446.9L1770.5 446.6ZM1762.9 449.4L1762.8 448.8L1762.6 448.5L1762.4 448.8L1762.3 449.4L1762.4 449.9L1762.6 450.2L1762.8 449.9ZM1754.2 402.9L1754.1 402.2L1753.4 401.5L1752.5 401.2L1751.8 401.5L1751.9 402.2L1752.6 402.9L1753.5 403.2ZM1745.3 401.1L1745.1 400.5L1744.5 400.3L1743.9 400.5L1743.7 401.1L1743.9 401.7L1744.5 401.9L1745.1 401.7ZM1745.5 398.5L1745.4 398.1L1745.0 398.0L1744.6 398.1L1744.5 398.5L1744.6 398.8L1745.0 398.9L1745.4 398.8ZM1735.2 403.3L1734.8 403.1L1734.0 403.3L1733.5 403.8L1733.4 404.4L1733.9 404.6L1734.7 404.4L1735.2 403.8ZM1755.9 394.7L1755.7 394.3L1755.1 394.2L1754.6 394.3L1754.3 394.7L1754.6 395.1L1755.1 395.2L1755.7 395.1ZM1744.2 358.8L1744.2 358.5L1743.9 358.4L1743.7 358.5L1743.7 358.8L1743.7 359.1L1743.9 359.2L1744.2 359.1ZM1741.8 364.7L1741.6 364.5L1741.3 364.4L1740.9 364.5L1740.7 364.7L1740.9 364.9L1741.3 365.0L1741.6 364.9ZM1745.5 433.0L1745.2 432.7L1744.5 432.6L1743.7 432.7L1743.4 433.0L1743.7 433.3L1744.5 433.4L1745.2 433.3ZM1740.2 436.0L1739.9 435.6L1739.1 435.5L1738.4 435.6L1738.1 436.0L1738.4 436.3L1739.1 436.4L1739.9 436.3ZM1735.1 440.2L1734.9 440.0L1734.3 439.9L1733.7 440.0L1733.5 440.2L1733.7 440.5L1734.3 440.6L1734.9 440.5ZM1766.3 415.3L1766.2 414.7L1765.8 414.5L1765.4 414.7L1765.3 415.3L1765.4 415.9L1765.8 416.1L1766.2 415.9ZM1785.4 316.0L1785.0 315.8L1784.2 316.0L1783.6 316.6L1783.6 317.0L1784.0 317.2L1784.7 317.0L1785.3 316.4ZM1790.5 305.2L1790.2 304.8L1789.8 304.6L1789.4 304.8L1789.2 305.2L1789.4 305.7L1789.8 305.9L1790.2 305.7ZM1792.8 304.2L1792.7 303.4L1792.5 303.1L1792.3 303.4L1792.2 304.2L1792.3 304.9L1792.5 305.2L1792.7 304.9ZM1756.8 337.4L1756.6 337.1L1756.2 337.0L1755.8 337.1L1755.6 337.4L1755.8 337.7L1756.2 337.8L1756.6 337.7ZM1762.6 335.2L1762.4 335.0L1762.1 334.9L1761.7 335.0L1761.5 335.2L1761.7 335.5L1762.1 335.6L1762.4 335.5ZM1771.5 327.2L1771.4 327.0L1771.1 326.9L1770.9 327.0L1770.8 327.2L1770.9 327.4L1771.1 327.5L1771.4 327.4ZM1781.4 292.9L1781.2 292.5L1780.7 292.3L1780.3 292.5L1780.1 292.9L1780.3 293.4L1780.7 293.6L1781.2 293.4ZM1832.5 264.3L1832.1 263.5L1831.5 263.3L1831.2 263.8L1831.4 264.7L1831.9 265.6L1832.4 265.8L1832.7 265.3ZM1804.8 274.2L1804.6 273.9L1804.2 273.7L1803.8 273.9L1803.7 274.2L1803.8 274.5L1804.2 274.6L1804.6 274.5ZM1837.6 282.2L1837.5 281.9L1837.3 281.8L1837.1 281.9L1837.0 282.2L1837.1 282.5L1837.3 282.6L1837.5 282.5ZM1839.7 290.8L1839.6 290.6L1839.4 290.5L1839.2 290.6L1839.2 290.8L1839.2 291.0L1839.4 291.1L1839.6 291.0ZM1852.5 323.5L1852.4 323.1L1852.2 323.0L1852.0 323.1L1852.0 323.5L1852.0 323.8L1852.2 323.9L1852.4 323.8ZM1847.6 335.2L1847.6 335.1L1847.4 335.0L1847.3 335.1L1847.2 335.2L1847.3 335.4L1847.4 335.5L1847.6 335.4ZM1732.0 341.7L1731.9 341.5L1731.7 341.4L1731.5 341.5L1731.3 341.7L1731.5 341.9L1731.7 342.0L1731.9 341.9ZM1746.2 306.9L1746.0 306.5L1745.5 306.4L1745.1 306.5L1744.9 306.9L1745.1 307.2L1745.5 307.3L1746.0 307.2ZM1743.6 299.3L1743.4 298.9L1742.5 298.4L1741.5 298.2L1741.1 298.3L1741.3 298.8L1742.2 299.2L1743.1 299.4ZM1866.5 395.9L1866.2 395.5L1865.9 395.5L1865.7 395.7L1865.7 396.2L1866.0 396.6L1866.3 396.6L1866.5 396.4ZM1871.4 386.7L1871.3 386.4L1871.2 386.2L1871.0 386.4L1871.0 386.7L1871.0 387.0L1871.2 387.1L1871.3 387.0ZM1812.0 427.9L1811.9 427.3L1811.7 427.1L1811.5 427.3L1811.4 427.9L1811.5 428.5L1811.7 428.7L1811.9 428.5ZM1830.6 417.2L1830.6 417.0L1830.4 416.9L1830.1 417.0L1830.1 417.2L1830.1 417.4L1830.4 417.5L1830.6 417.4ZM1903.7 428.5L1903.7 428.2L1903.4 428.2L1903.2 428.2L1903.2 428.5L1903.2 428.7L1903.4 428.7L1903.7 428.7ZM1938.1 431.1L1938.0 430.8L1937.6 430.7L1937.2 430.8L1937.1 431.1L1937.2 431.5L1937.6 431.6L1938.0 431.5ZM1963.5 439.7L1963.4 439.5L1963.2 439.4L1963.0 439.5L1962.9 439.7L1963.0 439.9L1963.2 440.0L1963.4 439.9ZM2007.2 430.1L2007.1 429.9L2006.9 429.8L2006.7 429.9L2006.7 430.1L2006.7 430.3L2006.9 430.3L2007.1 430.3ZM1987.5 419.9L1987.4 419.6L1987.2 419.5L1987.0 419.6L1986.9 419.9L1987.0 420.2L1987.2 420.3L1987.4 420.2ZM2016.7 460.6L2016.7 460.3L2016.5 460.2L2016.4 460.3L2016.3 460.6L2016.4 460.9L2016.5 461.0L2016.7 460.9ZM1984.4 470.9L1984.3 470.8L1984.2 470.7L1984.0 470.8L1983.9 470.9L1984.0 471.1L1984.2 471.2L1984.3 471.1ZM2049.8 513.6L2049.7 513.5L2049.6 513.5L2049.5 513.5L2049.5 513.6L2049.5 513.7L2049.6 513.8L2049.7 513.7ZM1893.6 476.1L1893.4 475.8L1892.8 475.7L1892.2 475.8L1892.0 476.1L1892.2 476.5L1892.8 476.6L1893.4 476.5ZM1896.5 518.5L1896.2 518.0L1895.4 517.8L1894.7 518.0L1894.4 518.5L1894.7 518.9L1895.4 519.1L1896.2 518.9ZM1900.0 516.3L1899.8 516.0L1899.2 515.9L1898.6 516.0L1898.4 516.3L1898.6 516.6L1899.2 516.7L1899.8 516.6ZM1898.9 521.1L1898.7 520.8L1898.1 520.6L1897.5 520.8L1897.3 521.1L1897.5 521.5L1898.1 521.7L1898.7 521.5ZM1913.8 529.7L1913.5 529.5L1912.5 529.4L1911.6 529.5L1911.2 529.7L1911.6 529.9L1912.5 530.0L1913.5 529.9ZM1916.2 529.2L1916.1 529.0L1915.7 528.8L1915.3 529.0L1915.2 529.2L1915.3 529.4L1915.7 529.5L1916.1 529.4ZM1909.4 516.8L1909.2 516.6L1908.8 516.5L1908.4 516.6L1908.1 516.8L1908.4 517.1L1908.8 517.2L1909.2 517.1ZM1872.4 493.3L1872.3 493.1L1872.0 493.0L1871.6 493.1L1871.5 493.3L1871.6 493.5L1872.0 493.6L1872.3 493.5ZM1883.4 498.1L1883.2 497.7L1882.6 497.5L1882.1 497.7L1881.8 498.1L1882.1 498.5L1882.6 498.7L1883.2 498.5ZM1949.6 530.2L1949.4 529.9L1948.8 529.8L1948.2 529.9L1948.0 530.2L1948.2 530.6L1948.8 530.7L1949.4 530.6ZM1978.8 525.4L1978.6 525.1L1978.1 525.0L1977.7 525.1L1977.5 525.4L1977.7 525.7L1978.1 525.8L1978.6 525.7ZM1992.5 562.9L1992.2 562.5L1991.5 562.3L1990.7 562.5L1990.4 562.9L1990.7 563.3L1991.5 563.6L1992.2 563.3ZM1996.4 568.8L1996.2 568.2L1995.7 568.0L1995.3 568.2L1995.1 568.8L1995.3 569.4L1995.7 569.6L1996.2 569.4ZM1998.0 572.6L1997.8 572.2L1997.3 572.0L1996.9 572.2L1996.7 572.6L1996.9 572.9L1997.3 573.1L1997.8 572.9ZM1989.9 544.7L1989.7 544.1L1989.3 543.9L1989.0 544.1L1988.8 544.7L1989.0 545.3L1989.3 545.5L1989.7 545.3ZM1987.6 542.0L1987.5 541.7L1987.2 541.6L1986.9 541.7L1986.8 542.0L1986.9 542.3L1987.2 542.5L1987.5 542.3ZM1991.7 555.4L1991.5 555.0L1990.9 554.9L1990.3 555.0L1990.1 555.4L1990.3 555.8L1990.9 556.0L1991.5 555.8ZM1988.0 580.6L1987.8 579.8L1987.2 579.5L1986.6 579.8L1986.4 580.6L1986.6 581.3L1987.2 581.7L1987.8 581.3ZM1990.0 583.3L1989.8 582.8L1989.3 582.6L1988.9 582.8L1988.7 583.3L1988.9 583.7L1989.3 583.9L1989.8 583.7ZM1982.8 577.9L1982.7 577.5L1982.4 577.4L1982.1 577.5L1982.0 577.9L1982.1 578.3L1982.4 578.5L1982.7 578.3ZM1987.5 589.2L1987.4 589.0L1987.2 588.8L1987.0 589.0L1986.9 589.2L1987.0 589.4L1987.2 589.5L1987.4 589.4ZM2053.6 558.6L2053.6 558.2L2053.3 558.0L2053.1 558.2L2053.1 558.6L2053.1 559.1L2053.3 559.3L2053.6 559.1ZM2044.3 570.4L2044.1 570.2L2043.7 570.1L2043.4 570.2L2043.2 570.4L2043.4 570.6L2043.7 570.7L2044.1 570.6ZM134.9 558.6L134.8 558.2L134.5 558.0L134.2 558.2L134.1 558.6L134.2 559.1L134.5 559.3L134.8 559.1ZM140.1 563.5L140.0 563.1L139.8 562.9L139.6 563.1L139.6 563.5L139.6 563.8L139.8 564.0L140.0 563.8ZM178.8 542.8L178.4 542.3L177.5 542.0L176.6 542.0L176.1 542.3L176.4 542.8L177.3 543.1L178.3 543.1ZM183.7 544.7L183.5 544.5L183.0 544.4L182.6 544.5L182.4 544.7L182.6 544.9L183.0 545.0L183.5 544.9ZM159.8 581.7L159.6 581.3L159.0 581.2L158.4 581.3L158.2 581.7L158.4 582.0L159.0 582.1L159.6 582.0ZM165.7 568.0L165.6 567.8L165.4 567.7L165.2 567.8L165.1 568.0L165.2 568.2L165.4 568.3L165.6 568.2ZM187.9 570.2L187.8 569.8L187.5 569.6L187.1 569.8L187.0 570.2L187.1 570.5L187.5 570.7L187.8 570.5ZM154.0 539.3L153.9 539.1L153.7 539.1L153.5 539.1L153.4 539.3L153.5 539.6L153.7 539.6L153.9 539.6ZM297.6 563.2L297.5 562.7L297.0 562.1L296.2 561.9L295.8 562.1L295.8 562.7L296.3 563.2L297.1 563.4ZM294.8 561.8L294.7 561.6L294.5 561.5L294.3 561.6L294.2 561.8L294.3 562.1L294.5 562.2L294.7 562.1ZM285.8 558.1L285.7 557.8L285.5 557.7L285.2 557.8L285.1 558.1L285.2 558.4L285.5 558.5L285.7 558.4ZM284.3 556.5L284.3 556.3L284.1 556.3L284.0 556.3L283.9 556.5L284.0 556.7L284.1 556.7L284.3 556.7ZM346.9 515.8L346.7 515.5L346.3 515.3L345.8 515.5L345.6 515.8L345.8 516.1L346.3 516.2L346.7 516.1ZM352.8 520.6L352.6 520.4L352.1 520.3L351.7 520.4L351.5 520.6L351.7 520.8L352.1 520.9L352.6 520.8ZM353.4 524.3L353.4 524.1L353.2 524.0L353.0 524.1L353.0 524.3L353.0 524.6L353.2 524.7L353.4 524.6ZM318.0 553.8L317.8 553.6L317.5 553.5L317.1 553.6L316.9 553.8L317.1 554.0L317.5 554.1L317.8 554.0ZM307.3 548.5L307.0 548.1L306.3 548.0L305.5 548.1L305.2 548.5L305.5 548.8L306.3 548.9L307.0 548.8ZM331.3 559.2L331.2 559.0L330.8 559.0L330.4 559.0L330.3 559.2L330.4 559.3L330.8 559.4L331.2 559.3ZM344.7 566.1L344.5 566.0L344.1 565.9L343.8 566.0L343.6 566.1L343.8 566.3L344.1 566.3L344.5 566.3ZM374.0 591.8L374.0 591.6L373.7 591.6L373.5 591.6L373.5 591.8L373.5 592.1L373.7 592.1L374.0 592.1ZM241.6 581.8L241.5 581.7L241.3 581.6L241.1 581.7L241.0 581.8L241.1 582.0L241.3 582.0L241.5 582.0ZM254.8 457.9L254.6 457.5L254.0 457.4L253.4 457.5L253.2 457.9L253.4 458.3L254.0 458.5L254.6 458.3ZM510.6 613.3L510.5 613.1L510.3 613.0L510.1 613.1L510.0 613.3L510.1 613.5L510.3 613.5L510.5 613.5ZM663.3 648.6L663.0 648.5L662.6 648.4L662.2 648.5L662.0 648.6L662.2 648.8L662.6 648.8L663.0 648.8ZM673.4 648.4L673.3 648.1L673.0 648.1L672.7 648.1L672.6 648.4L672.7 648.6L673.0 648.6L673.3 648.6ZM1980.5 739.7L1980.3 738.9L1979.7 738.6L1979.1 738.9L1978.9 739.7L1979.1 740.4L1979.7 740.8L1980.3 740.4ZM1996.5 749.6L1996.4 749.3L1996.0 749.2L1995.6 749.3L1995.5 749.6L1995.6 749.9L1996.0 750.0L1996.4 749.9ZM1941.5 760.6L1941.5 760.0L1941.3 759.8L1941.2 760.0L1941.1 760.6L1941.2 761.2L1941.3 761.4L1941.5 761.2ZM1989.8 623.6L1989.8 623.5L1989.6 623.4L1989.4 623.5L1989.4 623.6L1989.4 623.8L1989.6 623.8L1989.8 623.8ZM1942.4 637.1L1942.4 636.9L1942.3 636.8L1942.2 636.9L1942.1 637.1L1942.2 637.3L1942.3 637.4L1942.4 637.3ZM2047.7 734.3L2047.6 734.2L2047.5 734.1L2047.3 734.2L2047.3 734.3L2047.3 734.5L2047.5 734.6L2047.6 734.5ZM693.6 717.2L693.2 716.5L692.5 716.1L691.7 716.5L691.4 717.2L691.7 718.0L692.5 718.3L693.2 718.0ZM696.8 723.1L696.4 722.3L695.7 722.0L694.9 722.3L694.6 723.1L694.9 723.8L695.7 724.2L696.4 723.8ZM693.1 727.4L692.8 726.6L692.0 726.3L691.1 726.6L690.8 727.4L691.1 728.1L692.0 728.5L692.8 728.1ZM694.1 732.2L693.8 731.3L693.0 731.0L692.3 731.3L692.0 732.2L692.3 733.1L693.0 733.4L693.8 733.1ZM693.7 738.6L693.3 737.9L692.5 737.6L691.6 737.9L691.3 738.6L691.6 739.4L692.5 739.7L693.3 739.4ZM697.3 742.9L697.0 742.2L696.2 741.8L695.5 742.2L695.2 742.9L695.5 743.7L696.2 744.0L697.0 743.7ZM695.2 748.3L694.8 747.5L694.1 747.2L693.3 747.5L693.0 748.3L693.3 749.0L694.1 749.3L694.8 749.0ZM701.1 751.5L700.8 750.8L700.0 750.5L699.1 750.8L698.8 751.5L699.1 752.2L700.0 752.4L700.8 752.2ZM704.2 755.2L703.9 754.6L703.2 754.4L702.4 754.6L702.1 755.2L702.4 755.8L703.2 756.0L703.9 755.8ZM713.6 759.0L713.2 758.4L712.2 758.2L711.3 758.4L710.9 759.0L711.3 759.6L712.2 759.8L713.2 759.6ZM720.5 762.7L720.1 762.3L719.2 762.1L718.2 762.3L717.8 762.7L718.2 763.2L719.2 763.4L720.1 763.2ZM698.8 704.9L698.5 704.1L697.8 703.8L697.1 704.1L696.9 704.9L697.1 705.6L697.8 706.0L698.5 705.6ZM697.9 712.4L697.7 711.4L697.3 711.0L696.9 711.4L696.6 712.4L696.9 713.3L697.3 713.7L697.7 713.3ZM770.4 407.5L770.2 407.5L769.7 407.6L769.4 407.9L769.3 408.2L769.5 408.2L769.9 408.0L770.3 407.8ZM835.2 616.0L835.1 615.0L834.9 614.6L834.7 615.0L834.6 616.0L834.7 616.9L834.9 617.3L835.1 616.9ZM852.5 595.9L852.4 595.5L852.0 595.4L851.6 595.5L851.5 595.9L851.6 596.2L852.0 596.3L852.4 596.2ZM409.5 186.9L409.1 185.9L408.2 185.5L407.2 185.9L406.8 186.9L407.2 187.8L408.2 188.2L409.1 187.8ZM765.0 214.2L764.9 213.7L764.5 213.5L764.1 213.7L764.0 214.2L764.1 214.6L764.5 214.8L764.9 214.6ZM793.6 216.9L793.5 216.5L793.3 216.3L793.1 216.5L793.0 216.9L793.1 217.2L793.3 217.4L793.5 217.2ZM686.1 127.9L685.8 127.3L685.0 127.1L684.3 127.3L684.0 127.9L684.3 128.5L685.0 128.7L685.8 128.5ZM718.9 246.6L718.5 246.3L717.6 246.2L716.6 246.3L716.2 246.6L716.6 246.9L717.6 247.0L718.5 246.9ZM720.5 247.0L720.3 246.7L720.0 246.7L719.6 246.7L719.4 247.0L719.6 247.2L720.0 247.2L720.3 247.2ZM455.6 286.0L455.3 285.7L454.6 285.6L453.8 285.7L453.5 286.0L453.8 286.2L454.6 286.3L455.3 286.2ZM462.2 289.6L462.2 289.3L462.0 288.9L461.6 288.7L461.3 288.7L461.3 289.1L461.6 289.4L462.0 289.7ZM462.2 312.5L462.1 311.7L461.8 311.4L461.4 311.7L461.3 312.5L461.4 313.2L461.8 313.6L462.1 313.2ZM479.6 317.3L479.5 316.9L479.1 316.7L478.7 316.9L478.6 317.3L478.7 317.7L479.1 317.9L479.5 317.7ZM526.0 352.9L525.9 352.7L525.5 352.6L525.1 352.7L525.0 352.9L525.1 353.1L525.5 353.2L525.9 353.1ZM630.6 358.4L630.2 357.7L629.7 357.5L629.5 358.0L629.6 358.7L630.0 359.4L630.4 359.6L630.7 359.1ZM657.8 427.9L657.7 427.5L657.3 427.3L656.9 427.5L656.7 427.9L656.9 428.4L657.3 428.6L657.7 428.4ZM629.4 438.5L629.4 438.4L629.3 438.3L629.2 438.4L629.1 438.5L629.2 438.6L629.3 438.6L629.4 438.6ZM1360.1 559.1L1359.7 558.4L1359.5 558.2L1359.4 558.5L1359.6 559.3L1360.0 559.9L1360.2 560.2L1360.3 559.8ZM1351.8 539.9L1351.7 539.7L1351.3 539.6L1350.9 539.7L1350.8 539.9L1350.9 540.1L1351.3 540.2L1351.7 540.1ZM1709.8 579.3L1709.6 578.8L1709.3 578.6L1708.9 578.8L1708.7 579.3L1708.9 579.7L1709.3 579.9L1709.6 579.7ZM1839.2 557.0L1838.8 556.4L1837.8 556.2L1836.9 556.4L1836.5 557.0L1836.9 557.6L1837.8 557.8L1838.8 557.6ZM1912.5 615.4L1912.5 614.7L1912.2 614.3L1912.0 614.7L1912.0 615.4L1912.0 616.2L1912.2 616.5L1912.5 616.2ZM1862.9 681.8L1862.6 680.9L1861.8 680.5L1861.1 680.9L1860.8 681.8L1861.1 682.8L1861.8 683.2L1862.6 682.8ZM1885.0 684.8L1884.8 684.6L1884.2 684.5L1883.7 684.6L1883.4 684.8L1883.7 685.0L1884.2 685.1L1884.8 685.0ZM1879.9 700.3L1879.8 699.7L1879.4 699.5L1879.1 699.7L1879.0 700.3L1879.1 700.9L1879.4 701.1L1879.8 700.9ZM1852.6 522.7L1852.4 522.6L1852.2 522.5L1852.0 522.6L1851.9 522.7L1852.0 522.9L1852.2 523.0L1852.4 522.9ZM2030.0 662.0L2029.9 661.4L2029.6 661.2L2029.3 661.4L2029.2 662.0L2029.3 662.6L2029.6 662.8L2029.9 662.6ZM2028.1 665.2L2028.0 665.1L2027.7 665.0L2027.5 665.1L2027.4 665.2L2027.5 665.4L2027.7 665.5L2028.0 665.4ZM2021.7 686.7L2021.6 686.3L2021.3 686.1L2021.1 686.3L2021.0 686.7L2021.1 687.0L2021.3 687.2L2021.6 687.0Z" fill="#2a2a2a"/>
</g>
<rect x="131.5" y="107.3" width="1923.1" height="662.0" fill="none" stroke="#000" stroke-width="4.2"/>
<line x1="131.5" y1="91.5" x2="131.5" y2="107.3" stroke="#000" stroke-width="3"/>
<line x1="453.5" y1="91.5" x2="453.5" y2="107.3" stroke="#000" stroke-width="3"/>
<line x1="773.6" y1="91.5" x2="773.6" y2="107.3" stroke="#000" stroke-width="3"/>
<line x1="1093.7" y1="91.5" x2="1093.7" y2="107.3" stroke="#000" stroke-width="3"/>
<line x1="1413.7" y1="91.5" x2="1413.7" y2="107.3" stroke="#000" stroke-width="3"/>
<line x1="1733.8" y1="91.5" x2="1733.8" y2="107.3" stroke="#000" stroke-width="3"/>
<line x1="2054.6" y1="91.5" x2="2054.6" y2="107.3" stroke="#000" stroke-width="3"/>
<line x1="121.5" y1="146.7" x2="141.5" y2="146.7" stroke="#000" stroke-width="4"/>
<line x1="121.5" y1="307.4" x2="141.5" y2="307.4" stroke="#000" stroke-width="4"/>
<line x1="121.5" y1="468.1" x2="141.5" y2="468.1" stroke="#000" stroke-width="4"/>
<line x1="121.5" y1="628.8" x2="141.5" y2="628.8" stroke="#000" stroke-width="4"/>
<g font-size="40" fill="#111">
<text x="199" y="77.5" text-anchor="middle" font-size="41.5">180°W</text>
<text x="459" y="79" text-anchor="middle" font-size="41.5">120°W</text>
<text x="779" y="79" text-anchor="middle" font-size="41.5">60°W</text>
<text x="1100" y="79.5" text-anchor="middle" font-size="41.5">0°</text>
<text x="1419.5" y="79.5" text-anchor="middle" font-size="41.5">60°N</text>
<text x="1740" y="80" text-anchor="middle" font-size="41.5">120°N</text>
<text x="1998" y="80.5" text-anchor="middle" font-size="41.5">180°N</text>
<text x="117" y="161.7" text-anchor="end" font-size="41.5">60°N</text>
<text x="117" y="322.4" text-anchor="end" font-size="41.5">30°N</text>
<text x="117" y="483.1" text-anchor="end" font-size="41.5">0°</text>
<text x="117" y="643.8" text-anchor="end" font-size="41.5">30°S</text>
</g>
<rect x="2097" y="341.3" width="34.2" height="430.7" fill="url(#cbar)"/>
<text x="2065.5" y="322.7" font-size="37" fill="#111">XCH<tspan font-size="17">4</tspan>(ppb)</text>
<g font-size="33.5" fill="#111"><text x="2142" y="366">1860</text><text x="2142" y="561">1790</text><text x="2142" y="770.5">1720</text></g>
<line x1="2131" y1="550.5" x2="2136" y2="550.5" stroke="#bbb" stroke-width="1.5"/>
<text x="1128" y="938.8" font-size="85" letter-spacing="-1.5" text-anchor="middle" fill="#000">(<tspan font-weight="bold">a</tspan>)</text>
<text x="1128.5" y="2115.2" font-size="85" letter-spacing="-1" text-anchor="middle" fill="#000">(<tspan font-weight="bold">b</tspan>)</text>
<line x1="409.3" y1="988.9" x2="409.3" y2="1910.6" stroke="#dfdfdf" stroke-width="1.6"/>
<line x1="574.9" y1="988.9" x2="574.9" y2="1910.6" stroke="#dfdfdf" stroke-width="1.6"/>
<line x1="740.4" y1="988.9" x2="740.4" y2="1910.6" stroke="#dfdfdf" stroke-width="1.6"/>
<line x1="905.9" y1="988.9" x2="905.9" y2="1910.6" stroke="#dfdfdf" stroke-width="1.6"/>
<line x1="1071.5" y1="988.9" x2="1071.5" y2="1910.6" stroke="#dfdfdf" stroke-width="1.6"/>
<line x1="1237.0" y1="988.9" x2="1237.0" y2="1910.6" stroke="#dfdfdf" stroke-width="1.6"/>
<line x1="1402.6" y1="988.9" x2="1402.6" y2="1910.6" stroke="#dfdfdf" stroke-width="1.6"/>
<line x1="1568.1" y1="988.9" x2="1568.1" y2="1910.6" stroke="#dfdfdf" stroke-width="1.6"/>
<line x1="1733.6" y1="988.9" x2="1733.6" y2="1910.6" stroke="#dfdfdf" stroke-width="1.6"/>
<line x1="1899.2" y1="988.9" x2="1899.2" y2="1910.6" stroke="#dfdfdf" stroke-width="1.6"/>
<path d="M244.9 1782.8h0M245.3 1779.5h0M246.0 1783.3h0M247.6 1785.7h0M247.7 1773.7h0M253.4 1781.0h0M254.9 1776.2h0M255.8 1794.1h0M256.4 1788.6h0M257.7 1782.0h0M258.6 1793.9h0M259.0 1781.0h0M260.0 1756.0h0M260.7 1785.5h0M264.4 1763.5h0M264.6 1797.5h0M264.7 1777.3h0M265.1 1797.5h0M265.9 1776.7h0M267.4 1739.5h0M271.5 1758.2h0M271.7 1759.2h0M272.4 1758.2h0M272.8 1755.3h0M273.7 1763.5h0M274.5 1746.5h0M274.5 1734.4h0M274.6 1731.7h0M275.8 1738.3h0M276.4 1743.1h0M276.5 1753.4h0M277.4 1745.6h0M277.9 1715.8h0M278.4 1709.9h0M278.5 1751.4h0M279.1 1710.5h0M280.2 1723.5h0M282.4 1709.0h0M282.7 1702.7h0M286.6 1700.1h0M287.4 1677.3h0M287.4 1711.4h0M288.6 1677.2h0M289.7 1684.3h0M291.0 1685.0h0M292.9 1686.4h0M293.2 1689.4h0M293.5 1681.7h0M294.8 1683.5h0M296.0 1682.6h0M296.1 1687.7h0M296.4 1693.1h0M296.6 1698.9h0M296.8 1696.8h0M297.0 1692.4h0M297.2 1713.4h0M297.2 1692.2h0M297.9 1681.8h0M299.0 1691.8h0M300.0 1704.2h0M300.6 1695.2h0M302.7 1682.4h0M303.2 1696.6h0M303.6 1685.3h0M303.9 1704.6h0M304.0 1703.7h0M304.0 1697.0h0M304.0 1687.3h0M305.8 1676.1h0M306.7 1697.0h0M307.3 1707.9h0M308.3 1685.0h0M309.0 1703.3h0M310.1 1670.7h0M312.3 1706.0h0M314.2 1685.4h0M316.7 1682.9h0M319.3 1677.5h0M319.5 1668.7h0M320.6 1675.5h0M323.4 1682.8h0M324.4 1683.8h0M325.2 1682.5h0M325.8 1679.0h0M326.3 1671.6h0M326.5 1653.7h0M326.6 1685.0h0M326.6 1672.5h0M326.8 1665.0h0M327.8 1681.4h0M329.0 1667.3h0M329.7 1683.2h0M330.0 1676.0h0M332.5 1668.3h0M333.2 1680.4h0M333.6 1682.7h0M335.1 1669.4h0M336.3 1673.6h0M336.8 1674.6h0M337.1 1694.3h0M337.8 1688.1h0M338.3 1669.1h0M339.6 1648.2h0M341.2 1690.3h0M343.3 1669.6h0M344.3 1702.9h0M346.1 1700.3h0M347.8 1683.1h0M349.0 1700.6h0M350.1 1700.0h0M350.3 1709.0h0M350.7 1711.3h0M353.3 1684.3h0M354.7 1696.5h0M356.5 1710.9h0M356.6 1726.9h0M356.7 1719.3h0M356.9 1728.7h0M357.7 1704.2h0M359.4 1726.3h0M363.7 1709.6h0M364.6 1722.3h0M364.8 1738.4h0M365.3 1749.4h0M366.3 1729.6h0M366.6 1725.4h0M366.8 1729.0h0M366.9 1724.6h0M367.1 1727.6h0M367.3 1720.7h0M368.0 1715.9h0M368.1 1738.0h0M370.0 1729.4h0M372.0 1718.8h0M372.4 1742.5h0M372.9 1745.4h0M373.8 1747.0h0M376.1 1742.8h0M376.2 1747.4h0M376.9 1741.6h0M377.0 1743.8h0M378.3 1769.2h0M380.3 1749.0h0M380.4 1771.3h0M381.7 1747.7h0M382.2 1750.0h0M382.2 1756.5h0M382.6 1737.9h0M383.0 1755.5h0M384.3 1753.2h0M385.1 1752.7h0M386.9 1754.6h0M386.9 1764.6h0M387.0 1753.6h0M387.3 1750.6h0M388.2 1754.8h0M388.2 1762.1h0M388.7 1746.0h0M389.7 1753.9h0M391.3 1779.7h0M392.1 1778.7h0M392.1 1740.1h0M392.5 1769.3h0M392.6 1775.5h0M395.1 1763.3h0M395.2 1755.9h0M395.5 1752.8h0M395.6 1777.4h0M396.3 1790.4h0M396.6 1765.8h0M400.7 1763.5h0M401.2 1757.4h0M404.0 1767.3h0M405.3 1760.1h0M405.4 1755.1h0M405.9 1747.8h0M406.3 1763.1h0M408.6 1733.9h0M409.1 1759.8h0M409.4 1763.8h0M410.6 1768.3h0M411.7 1741.0h0M412.7 1743.5h0M412.9 1740.0h0M413.0 1755.8h0M414.0 1751.4h0M416.2 1741.7h0M417.0 1728.5h0M418.5 1745.5h0M418.7 1738.9h0M421.3 1741.6h0M422.9 1736.9h0M423.5 1772.6h0M426.6 1737.5h0M427.4 1740.0h0M428.3 1729.6h0M429.5 1720.8h0M430.9 1701.9h0M432.9 1726.1h0M433.6 1731.6h0M433.6 1711.4h0M436.5 1707.3h0M438.8 1704.3h0M439.9 1655.1h0M441.0 1673.3h0M443.5 1675.9h0M444.1 1673.4h0M444.2 1673.2h0M444.6 1659.8h0M448.7 1643.8h0M449.0 1651.2h0M450.2 1659.8h0M451.3 1629.9h0M451.8 1632.4h0M452.5 1642.0h0M452.7 1659.7h0M453.2 1628.9h0M453.6 1654.9h0M453.9 1643.1h0M454.1 1615.2h0M454.4 1645.2h0M456.3 1611.9h0M456.5 1644.5h0M456.9 1623.8h0M457.5 1644.9h0M457.9 1645.9h0M458.1 1653.4h0M459.9 1629.1h0M461.1 1652.6h0M462.6 1617.1h0M464.0 1644.6h0M464.5 1632.9h0M464.6 1659.3h0M465.8 1640.6h0M466.2 1653.9h0M466.4 1643.9h0M466.4 1622.5h0M466.7 1633.7h0M468.1 1624.9h0M469.2 1624.2h0M469.9 1655.9h0M471.4 1633.7h0M471.6 1630.5h0M471.8 1652.5h0M472.2 1648.9h0M474.5 1636.0h0M475.4 1617.0h0M475.4 1639.3h0M475.5 1622.1h0M476.4 1659.3h0M476.8 1629.3h0M477.0 1607.5h0M477.8 1626.7h0M477.9 1642.2h0M478.3 1636.9h0M478.6 1624.7h0M480.1 1615.4h0M481.1 1623.5h0M481.7 1606.4h0M484.2 1618.1h0M485.3 1615.6h0M485.9 1627.4h0M486.5 1619.6h0M488.0 1630.8h0M488.7 1620.3h0M488.7 1599.1h0M490.0 1622.1h0M491.2 1605.9h0M494.0 1616.0h0M494.6 1601.1h0M494.7 1620.4h0M494.9 1606.9h0M495.0 1598.7h0M498.8 1602.0h0M499.2 1607.4h0M500.0 1608.2h0M501.8 1613.1h0M503.0 1617.7h0M504.2 1613.3h0M504.7 1632.5h0M505.3 1601.9h0M505.7 1631.1h0M505.9 1622.2h0M506.0 1651.4h0M507.1 1627.0h0M508.1 1614.2h0M509.1 1613.9h0M509.7 1632.3h0M510.7 1620.8h0M512.7 1653.5h0M513.0 1627.6h0M513.2 1608.5h0M515.8 1636.1h0M516.5 1643.6h0M516.8 1670.8h0M518.2 1637.0h0M519.0 1648.8h0M519.7 1655.9h0M519.7 1647.8h0M520.7 1632.8h0M521.8 1657.1h0M522.8 1675.6h0M523.4 1669.4h0M525.9 1668.5h0M526.7 1660.4h0M527.7 1660.9h0M527.9 1643.8h0M528.4 1655.7h0M533.1 1686.0h0M533.4 1673.0h0M533.5 1695.2h0M534.1 1689.6h0M534.2 1662.9h0M534.6 1681.9h0M534.6 1692.4h0M534.7 1674.2h0M534.8 1679.4h0M535.5 1660.1h0M539.9 1684.7h0M540.0 1687.5h0M540.2 1679.5h0M540.3 1685.2h0M540.4 1687.3h0M540.7 1683.1h0M540.7 1668.9h0M542.6 1686.3h0M544.4 1691.3h0M545.4 1682.7h0M545.5 1687.5h0M546.1 1680.9h0M546.2 1698.2h0M546.5 1667.3h0M548.4 1683.9h0M550.0 1694.8h0M550.2 1678.5h0M550.3 1669.7h0M550.6 1687.4h0M553.3 1688.0h0M554.0 1668.4h0M554.8 1699.5h0M555.6 1676.5h0M556.1 1691.9h0M556.2 1713.0h0M556.5 1684.5h0M557.3 1682.0h0M558.0 1654.6h0M558.2 1672.0h0M560.3 1675.1h0M561.4 1679.6h0M562.3 1686.5h0M562.4 1667.7h0M564.5 1682.1h0M566.6 1701.8h0M568.0 1633.8h0M569.7 1672.4h0M571.3 1670.8h0M572.6 1669.2h0M572.9 1646.8h0M573.9 1658.6h0M575.2 1670.4h0M576.6 1659.4h0M577.3 1670.0h0M579.1 1671.4h0M579.9 1670.5h0M581.8 1676.2h0M583.1 1709.8h0M585.3 1653.4h0M589.6 1678.0h0M590.1 1666.9h0M590.2 1687.6h0M592.9 1644.3h0M593.0 1663.8h0M593.1 1680.7h0M593.7 1662.8h0M599.7 1649.7h0M599.7 1681.1h0M600.1 1664.8h0M601.8 1663.4h0M603.1 1640.6h0M603.5 1654.3h0M604.1 1648.3h0M604.8 1675.1h0M605.4 1647.3h0M606.8 1622.5h0M608.6 1607.0h0M608.7 1624.2h0M608.9 1636.1h0M609.4 1629.3h0M610.8 1606.2h0M612.0 1633.1h0M612.2 1614.4h0M612.3 1584.5h0M613.9 1604.0h0M614.3 1593.5h0M615.4 1594.1h0M615.4 1636.5h0M616.2 1599.7h0M616.6 1628.5h0M619.2 1595.2h0M620.8 1584.7h0M621.4 1626.0h0M623.2 1589.1h0M623.4 1583.0h0M625.4 1582.6h0M628.4 1580.4h0M631.5 1599.0h0M631.6 1581.1h0M632.1 1581.5h0M632.8 1588.5h0M635.4 1582.1h0M636.5 1559.6h0M637.2 1584.0h0M637.5 1564.7h0M638.1 1543.7h0M639.2 1565.3h0M639.3 1577.3h0M640.1 1570.9h0M640.3 1546.3h0M640.8 1578.4h0M640.9 1578.7h0M641.8 1584.0h0M642.1 1584.2h0M643.4 1575.0h0M643.7 1565.9h0M645.5 1562.4h0M645.7 1584.5h0M646.2 1502.4h0M646.9 1585.4h0M647.3 1576.0h0M648.4 1568.2h0M649.4 1553.2h0M650.3 1577.9h0M650.5 1577.1h0M650.5 1566.1h0M651.6 1556.1h0M655.8 1547.6h0M659.5 1536.3h0M659.7 1559.1h0M660.0 1549.7h0M660.4 1542.8h0M660.5 1558.3h0M661.5 1541.9h0M662.7 1553.1h0M663.7 1546.2h0M665.6 1568.3h0M666.5 1558.4h0M667.5 1540.8h0M668.6 1558.1h0M668.9 1576.4h0M672.3 1571.8h0M673.2 1564.8h0M674.3 1547.7h0M675.9 1574.4h0M676.1 1562.9h0M676.1 1567.9h0M676.6 1573.4h0M676.7 1584.7h0M680.1 1600.4h0M680.4 1594.7h0M680.5 1586.6h0M685.4 1602.3h0M685.6 1594.6h0M686.1 1581.6h0M688.0 1588.1h0M688.7 1607.4h0M689.0 1617.1h0M689.2 1619.8h0M690.1 1606.0h0M691.0 1617.6h0M691.7 1606.4h0M691.8 1608.0h0M693.6 1616.8h0M694.0 1637.5h0M694.8 1603.7h0M695.6 1595.6h0M696.6 1614.9h0M696.8 1633.0h0M697.5 1628.0h0M697.6 1616.0h0M698.5 1622.0h0M699.3 1619.6h0M700.2 1645.6h0M701.0 1597.6h0M702.5 1613.6h0M702.7 1618.5h0M703.1 1612.9h0M703.2 1634.2h0M703.4 1618.9h0M705.1 1643.2h0M705.4 1606.0h0M706.0 1617.7h0M707.3 1627.5h0M707.6 1629.5h0M708.9 1630.4h0M710.7 1623.5h0M711.4 1643.2h0M712.2 1631.7h0M712.8 1634.0h0M712.9 1636.1h0M712.9 1632.4h0M713.8 1662.1h0M714.1 1623.7h0M714.6 1638.1h0M715.7 1625.4h0M718.1 1649.8h0M719.2 1637.0h0M721.4 1643.1h0M721.9 1650.8h0M722.1 1646.6h0M722.8 1622.3h0M722.8 1650.3h0M723.8 1649.8h0M724.6 1626.2h0M725.1 1649.9h0M725.6 1613.2h0M725.8 1620.3h0M727.1 1652.8h0M727.9 1625.5h0M728.0 1613.7h0M730.4 1632.4h0M730.9 1637.4h0M732.9 1656.6h0M733.4 1637.5h0M733.9 1626.4h0M734.6 1628.2h0M737.1 1647.5h0M737.4 1611.6h0M738.0 1639.3h0M740.3 1609.2h0M740.5 1624.4h0M740.9 1614.6h0M742.4 1624.7h0M743.6 1632.5h0M744.1 1603.5h0M744.9 1625.4h0M745.1 1622.9h0M748.0 1630.5h0M748.5 1600.6h0M748.8 1628.6h0M749.4 1629.4h0M751.5 1612.7h0M751.7 1618.4h0M753.3 1606.4h0M753.6 1620.1h0M754.7 1637.9h0M755.1 1618.9h0M757.1 1621.9h0M757.8 1615.6h0M759.0 1617.3h0M762.4 1607.5h0M762.6 1602.9h0M762.8 1592.9h0M763.6 1629.3h0M763.7 1600.8h0M764.3 1611.0h0M764.5 1627.5h0M766.6 1609.9h0M766.7 1625.5h0M766.8 1597.7h0M766.8 1604.4h0M768.0 1601.6h0M768.1 1608.3h0M768.1 1607.7h0M768.3 1602.6h0M768.3 1613.7h0M768.5 1599.0h0M768.8 1588.6h0M769.6 1589.4h0M769.7 1589.7h0M770.1 1616.8h0M770.5 1602.3h0M771.0 1598.1h0M771.8 1577.7h0M772.6 1585.9h0M772.6 1605.4h0M775.0 1580.4h0M775.2 1546.8h0M775.7 1561.6h0M777.3 1583.1h0M778.0 1569.3h0M780.2 1562.7h0M780.8 1526.4h0M782.5 1554.7h0M783.1 1546.0h0M784.1 1568.7h0M784.6 1547.8h0M785.9 1554.1h0M787.0 1543.6h0M787.1 1558.8h0M787.9 1532.5h0M789.9 1549.8h0M790.1 1532.9h0M791.0 1551.5h0M792.6 1535.6h0M792.8 1521.3h0M795.1 1538.5h0M799.8 1516.8h0M800.3 1543.0h0M800.6 1520.6h0M801.0 1531.4h0M801.1 1527.3h0M801.7 1536.4h0M802.2 1521.7h0M804.2 1522.6h0M805.0 1529.1h0M805.0 1509.2h0M805.7 1517.4h0M805.9 1525.1h0M807.1 1536.4h0M807.6 1525.4h0M808.8 1512.5h0M810.6 1530.7h0M813.1 1514.9h0M815.6 1488.4h0M816.1 1513.3h0M817.7 1487.5h0M817.8 1510.0h0M821.5 1510.1h0M821.6 1494.0h0M821.7 1507.3h0M822.5 1507.7h0M823.9 1506.8h0M823.9 1450.6h0M824.7 1487.7h0M827.6 1523.2h0M828.0 1490.7h0M828.3 1522.7h0M828.9 1513.1h0M830.7 1482.3h0M831.1 1509.1h0M832.8 1478.6h0M833.3 1513.5h0M833.8 1493.3h0M834.6 1482.2h0M834.9 1491.5h0M835.2 1517.2h0M835.3 1504.6h0M835.5 1513.2h0M835.6 1482.5h0M838.7 1501.7h0M839.0 1500.9h0M842.3 1524.3h0M842.4 1516.7h0M843.8 1517.8h0M845.0 1520.6h0M845.1 1517.2h0M845.4 1532.7h0M848.1 1519.6h0M848.3 1541.1h0M849.7 1532.4h0M849.9 1502.1h0M850.2 1543.7h0M852.0 1543.3h0M855.1 1545.3h0M857.1 1553.7h0M857.7 1559.5h0M858.7 1551.1h0M860.0 1561.6h0M861.7 1554.3h0M863.1 1574.3h0M863.4 1568.2h0M864.2 1572.4h0M864.5 1563.1h0M865.0 1556.4h0M867.2 1564.6h0M867.4 1582.8h0M867.7 1594.8h0M868.2 1572.3h0M868.9 1551.0h0M869.6 1557.0h0M869.9 1565.7h0M870.2 1565.1h0M870.4 1570.7h0M871.9 1585.1h0M873.2 1571.0h0M873.4 1584.6h0M873.6 1583.6h0M875.6 1555.9h0M877.1 1590.7h0M877.6 1557.9h0M878.1 1598.4h0M879.2 1606.0h0M879.2 1588.3h0M879.3 1599.6h0M880.2 1591.6h0M881.9 1588.2h0M882.6 1596.2h0M883.2 1578.1h0M884.9 1586.1h0M884.9 1583.3h0M885.8 1583.5h0M886.1 1598.4h0M887.1 1604.7h0M889.2 1562.9h0M889.4 1600.2h0M889.6 1588.3h0M889.8 1594.0h0M889.9 1584.1h0M890.9 1569.9h0M892.0 1583.6h0M894.3 1580.0h0M894.3 1564.6h0M894.7 1573.9h0M897.4 1577.9h0M898.3 1592.6h0M900.0 1600.0h0M900.6 1572.9h0M900.9 1585.5h0M901.3 1610.7h0M902.0 1594.5h0M903.6 1600.1h0M905.9 1576.9h0M906.4 1605.3h0M906.9 1583.1h0M908.6 1609.3h0M908.6 1573.8h0M909.1 1561.1h0M909.7 1575.3h0M911.2 1570.1h0M913.6 1577.5h0M915.7 1569.5h0M918.0 1573.9h0M918.6 1574.7h0M919.2 1569.7h0M919.8 1566.3h0M921.6 1573.3h0M922.0 1577.6h0M923.3 1591.1h0M923.5 1563.7h0M923.9 1574.5h0M924.4 1570.1h0M924.4 1606.3h0M926.2 1564.9h0M927.5 1538.4h0M929.1 1560.8h0M930.4 1561.6h0M930.4 1567.6h0M932.1 1551.6h0M934.5 1561.4h0M935.0 1566.3h0M940.0 1515.2h0M940.1 1532.5h0M940.4 1529.7h0M940.8 1535.1h0M941.2 1521.9h0M944.4 1521.0h0M944.5 1522.2h0M944.5 1525.3h0M944.8 1511.1h0M945.1 1552.1h0M945.4 1490.5h0M946.6 1514.6h0M949.2 1524.4h0M949.3 1498.7h0M949.3 1532.7h0M950.2 1486.2h0M952.0 1490.4h0M952.3 1495.2h0M953.7 1492.1h0M954.0 1480.7h0M954.7 1469.0h0M954.7 1466.9h0M956.3 1480.4h0M956.8 1487.9h0M958.0 1464.2h0M959.9 1464.5h0M960.6 1479.4h0M960.7 1477.3h0M960.7 1449.2h0M961.3 1473.3h0M961.4 1484.2h0M961.7 1454.0h0M962.4 1460.4h0M962.6 1460.1h0M963.2 1467.6h0M963.5 1474.7h0M964.7 1471.3h0M964.8 1487.4h0M967.3 1454.6h0M967.4 1487.4h0M968.6 1463.3h0M970.3 1475.4h0M971.3 1465.8h0M971.3 1478.8h0M971.4 1466.2h0M971.8 1473.1h0M973.5 1433.8h0M973.7 1438.5h0M977.1 1457.9h0M979.3 1449.1h0M979.5 1463.1h0M980.3 1458.6h0M980.4 1464.2h0M981.8 1472.5h0M982.2 1456.4h0M982.6 1466.8h0M984.2 1458.7h0M984.5 1446.4h0M984.9 1445.9h0M984.9 1448.3h0M986.0 1442.8h0M986.1 1455.1h0M986.3 1463.3h0M987.9 1450.6h0M988.9 1462.9h0M990.5 1437.8h0M993.3 1440.5h0M994.1 1461.9h0M994.2 1450.5h0M995.7 1449.8h0M996.1 1456.7h0M997.2 1439.7h0M997.2 1451.0h0M998.0 1441.6h0M998.4 1462.8h0M999.4 1463.1h0M999.7 1437.3h0M1000.5 1455.4h0M1001.1 1441.2h0M1001.4 1444.0h0M1002.6 1469.4h0M1002.7 1450.7h0M1002.8 1453.5h0M1003.8 1456.0h0M1004.5 1437.4h0M1005.2 1452.7h0M1005.8 1447.3h0M1005.9 1470.2h0M1006.3 1443.8h0M1007.5 1452.9h0M1007.7 1440.1h0M1008.0 1446.6h0M1010.8 1473.3h0M1012.2 1469.1h0M1014.2 1468.8h0M1014.7 1493.4h0M1016.9 1463.1h0M1017.2 1481.1h0M1017.3 1502.5h0M1019.9 1470.7h0M1023.1 1502.5h0M1023.3 1493.3h0M1023.8 1510.9h0M1024.1 1488.9h0M1024.7 1487.1h0M1026.2 1499.6h0M1026.7 1486.8h0M1031.1 1510.6h0M1032.7 1507.2h0M1036.2 1532.3h0M1036.3 1537.7h0M1036.9 1500.3h0M1037.3 1520.2h0M1037.4 1523.4h0M1037.7 1520.8h0M1037.8 1535.5h0M1037.9 1510.7h0M1038.0 1505.6h0M1038.1 1515.6h0M1038.5 1516.6h0M1038.5 1519.8h0M1038.7 1537.0h0M1039.0 1503.7h0M1042.2 1522.2h0M1044.8 1510.5h0M1045.8 1540.9h0M1045.9 1537.2h0M1048.7 1511.4h0M1048.7 1522.8h0M1050.5 1545.5h0M1050.7 1528.4h0M1051.0 1520.1h0M1051.3 1520.6h0M1053.9 1533.6h0M1054.0 1536.3h0M1055.1 1510.9h0M1056.3 1510.5h0M1056.6 1535.5h0M1057.0 1540.0h0M1057.4 1536.6h0M1059.0 1511.6h0M1059.3 1544.5h0M1059.3 1525.2h0M1059.6 1542.7h0M1059.7 1553.3h0M1059.9 1512.5h0M1060.1 1537.4h0M1060.3 1536.6h0M1060.5 1546.1h0M1061.2 1569.0h0M1061.4 1534.6h0M1061.4 1530.8h0M1063.3 1537.7h0M1064.5 1536.9h0M1064.5 1561.1h0M1065.2 1521.7h0M1066.4 1521.7h0M1066.5 1523.3h0M1066.9 1524.2h0M1067.8 1526.6h0M1068.3 1542.8h0M1069.0 1514.0h0M1069.7 1517.3h0M1071.5 1528.1h0M1072.1 1538.3h0M1072.5 1522.7h0M1072.8 1508.4h0M1074.9 1503.3h0M1075.6 1529.3h0M1076.4 1532.7h0M1078.1 1525.9h0M1080.9 1502.3h0M1081.0 1510.8h0M1082.7 1521.4h0M1084.2 1521.8h0M1085.0 1520.6h0M1086.3 1505.1h0M1086.6 1530.1h0M1087.2 1513.9h0M1087.2 1539.6h0M1088.8 1505.3h0M1089.1 1524.7h0M1090.4 1507.1h0M1090.7 1518.9h0M1091.3 1512.5h0M1092.9 1494.2h0M1093.2 1509.8h0M1093.9 1491.5h0M1094.3 1510.7h0M1095.1 1496.8h0M1096.1 1513.2h0M1096.5 1514.3h0M1096.7 1488.6h0M1097.6 1534.2h0M1099.2 1481.8h0M1100.1 1483.8h0M1102.2 1470.2h0M1102.4 1475.6h0M1103.2 1488.2h0M1104.7 1458.0h0M1106.5 1473.2h0M1107.6 1431.8h0M1107.7 1458.8h0M1108.0 1462.0h0M1108.7 1443.7h0M1109.2 1457.7h0M1109.7 1447.8h0M1110.9 1463.7h0M1112.4 1435.6h0M1113.5 1438.7h0M1113.7 1441.5h0M1114.8 1449.0h0M1116.0 1421.8h0M1117.0 1444.4h0M1118.4 1419.8h0M1118.8 1433.7h0M1119.7 1448.9h0M1119.7 1438.6h0M1120.0 1426.5h0M1122.3 1410.9h0M1122.8 1418.2h0M1124.4 1411.5h0M1124.4 1390.1h0M1127.9 1385.0h0M1130.0 1417.3h0M1130.9 1395.3h0M1132.6 1394.4h0M1133.2 1413.0h0M1133.5 1400.9h0M1137.4 1385.9h0M1141.8 1391.7h0M1143.8 1427.6h0M1145.0 1400.8h0M1147.1 1413.2h0M1147.5 1398.7h0M1148.3 1396.6h0M1150.3 1394.8h0M1151.1 1392.8h0M1152.9 1403.4h0M1153.2 1376.8h0M1154.0 1395.3h0M1155.9 1411.0h0M1157.5 1391.3h0M1158.2 1390.4h0M1161.4 1402.9h0M1164.6 1387.7h0M1165.3 1407.9h0M1166.6 1374.4h0M1166.8 1373.6h0M1168.3 1438.5h0M1169.3 1382.5h0M1170.7 1392.3h0M1172.1 1396.3h0M1172.8 1400.1h0M1174.0 1416.3h0M1174.4 1406.5h0M1175.0 1404.5h0M1175.2 1397.1h0M1176.1 1435.1h0M1176.8 1439.0h0M1176.9 1417.3h0M1178.6 1386.8h0M1178.9 1415.4h0M1181.2 1457.4h0M1183.8 1434.9h0M1184.0 1436.8h0M1184.7 1419.1h0M1185.0 1439.5h0M1185.3 1432.0h0M1186.0 1410.4h0M1187.7 1416.9h0M1188.5 1429.1h0M1188.6 1446.8h0M1189.0 1452.1h0M1190.9 1449.6h0M1192.2 1418.8h0M1193.0 1435.2h0M1194.9 1422.6h0M1197.6 1438.8h0M1198.7 1450.2h0M1199.1 1458.1h0M1199.7 1436.8h0M1202.9 1457.8h0M1204.3 1449.7h0M1204.4 1456.0h0M1205.7 1445.2h0M1206.6 1460.4h0M1207.4 1486.0h0M1209.0 1474.3h0M1209.7 1458.3h0M1212.7 1491.7h0M1216.7 1477.2h0M1218.5 1470.1h0M1218.6 1478.5h0M1219.8 1478.6h0M1219.9 1471.8h0M1220.4 1452.6h0M1221.6 1486.6h0M1222.3 1480.7h0M1223.3 1500.0h0M1223.4 1486.1h0M1224.6 1479.0h0M1224.6 1502.0h0M1227.7 1457.2h0M1229.8 1480.7h0M1230.5 1486.4h0M1231.0 1458.2h0M1231.8 1478.1h0M1231.8 1461.5h0M1233.2 1476.7h0M1234.8 1470.8h0M1237.4 1478.0h0M1237.6 1474.6h0M1237.6 1444.4h0M1238.9 1460.6h0M1242.2 1462.8h0M1243.4 1464.9h0M1243.6 1467.2h0M1243.7 1474.7h0M1244.5 1484.8h0M1246.4 1470.8h0M1246.9 1467.6h0M1247.0 1470.1h0M1248.2 1470.6h0M1250.2 1449.9h0M1250.3 1440.5h0M1250.5 1452.4h0M1251.2 1448.7h0M1251.6 1474.2h0M1252.1 1457.7h0M1253.0 1456.9h0M1254.5 1464.7h0M1254.8 1460.8h0M1254.9 1441.6h0M1255.4 1440.2h0M1257.3 1441.8h0M1260.2 1445.1h0M1262.8 1458.0h0M1263.8 1425.1h0M1263.9 1435.6h0M1265.4 1437.6h0M1266.2 1431.4h0M1266.3 1439.0h0M1266.8 1445.9h0M1267.4 1449.8h0M1267.5 1445.4h0M1267.9 1424.4h0M1268.3 1441.0h0M1270.3 1412.2h0M1270.4 1407.3h0M1271.9 1432.5h0M1272.5 1410.9h0M1273.2 1443.3h0M1273.6 1413.1h0M1274.1 1414.0h0M1274.8 1443.4h0M1276.6 1422.8h0M1277.3 1396.6h0M1278.1 1370.3h0M1278.2 1371.1h0M1278.2 1405.1h0M1281.1 1371.5h0M1281.7 1368.9h0M1281.8 1388.1h0M1282.1 1372.9h0M1282.5 1368.2h0M1282.6 1384.5h0M1283.6 1390.3h0M1284.2 1371.8h0M1284.9 1383.9h0M1286.9 1389.6h0M1288.6 1349.7h0M1290.5 1362.0h0M1290.8 1354.8h0M1290.8 1388.8h0M1291.2 1343.9h0M1291.2 1377.2h0M1291.6 1364.2h0M1293.3 1364.9h0M1293.4 1335.5h0M1294.1 1362.7h0M1296.3 1335.6h0M1296.7 1327.8h0M1296.9 1375.3h0M1299.1 1373.8h0M1299.7 1369.1h0M1300.2 1341.7h0M1301.9 1353.1h0M1302.6 1352.8h0M1303.7 1365.0h0M1303.7 1350.3h0M1304.1 1357.9h0M1304.1 1370.7h0M1304.9 1362.9h0M1305.7 1361.8h0M1306.4 1348.1h0M1306.8 1341.8h0M1309.4 1316.6h0M1310.8 1340.1h0M1311.4 1358.0h0M1311.8 1330.5h0M1313.2 1360.1h0M1313.3 1330.9h0M1314.2 1343.8h0M1314.3 1344.5h0M1316.3 1348.2h0M1318.0 1345.6h0M1319.1 1327.6h0M1321.0 1307.8h0M1321.0 1330.7h0M1322.5 1334.9h0M1322.6 1331.3h0M1324.8 1325.7h0M1325.4 1324.2h0M1325.6 1334.8h0M1326.8 1317.5h0M1328.6 1340.6h0M1328.8 1332.2h0M1329.0 1328.8h0M1329.1 1337.4h0M1329.6 1338.1h0M1330.2 1332.7h0M1331.2 1303.5h0M1332.4 1337.7h0M1333.0 1339.9h0M1333.4 1360.6h0M1333.7 1329.5h0M1338.9 1351.2h0M1339.1 1349.9h0M1340.3 1351.3h0M1340.5 1369.6h0M1340.8 1367.0h0M1340.9 1355.7h0M1341.7 1395.1h0M1344.0 1365.0h0M1344.6 1379.2h0M1346.3 1334.9h0M1346.9 1351.3h0M1348.8 1369.0h0M1349.8 1371.6h0M1350.0 1372.3h0M1351.0 1360.3h0M1351.4 1390.2h0M1352.0 1375.8h0M1352.3 1364.0h0M1354.4 1386.4h0M1354.4 1373.9h0M1354.5 1364.5h0M1356.3 1377.0h0M1356.4 1385.1h0M1358.2 1386.4h0M1360.9 1372.1h0M1361.5 1373.1h0M1361.9 1367.4h0M1362.7 1380.7h0M1364.2 1413.8h0M1364.2 1392.2h0M1365.1 1396.3h0M1365.4 1417.6h0M1367.0 1395.3h0M1367.2 1402.8h0M1367.6 1421.4h0M1370.0 1412.6h0M1371.5 1391.6h0M1371.5 1398.8h0M1372.6 1396.3h0M1372.8 1397.1h0M1373.0 1395.5h0M1376.2 1410.0h0M1376.5 1393.2h0M1377.3 1379.7h0M1377.4 1411.4h0M1377.8 1418.5h0M1378.4 1395.5h0M1378.5 1403.6h0M1378.9 1387.9h0M1380.3 1410.2h0M1380.6 1403.4h0M1381.7 1418.4h0M1382.7 1397.2h0M1383.7 1415.0h0M1383.9 1412.0h0M1386.6 1425.5h0M1388.3 1427.4h0M1389.4 1422.9h0M1390.1 1417.4h0M1392.3 1390.3h0M1392.3 1408.3h0M1392.8 1413.0h0M1393.6 1397.4h0M1395.2 1390.1h0M1395.6 1418.6h0M1396.4 1416.4h0M1397.8 1403.1h0M1398.7 1392.7h0M1399.1 1441.0h0M1399.1 1398.3h0M1399.2 1407.6h0M1399.8 1397.8h0M1400.2 1427.5h0M1400.6 1406.9h0M1401.9 1406.1h0M1402.5 1412.2h0M1402.6 1409.8h0M1403.7 1388.2h0M1403.7 1396.1h0M1405.8 1391.0h0M1407.4 1375.8h0M1407.5 1393.8h0M1412.1 1429.4h0M1413.7 1406.3h0M1415.5 1402.0h0M1417.1 1414.3h0M1418.0 1414.4h0M1418.5 1387.4h0M1420.7 1359.8h0M1420.8 1407.0h0M1421.4 1397.7h0M1423.3 1392.2h0M1423.5 1402.8h0M1423.6 1393.2h0M1425.0 1405.0h0M1425.6 1376.4h0M1427.8 1398.1h0M1428.9 1367.8h0M1430.8 1392.5h0M1432.3 1370.8h0M1432.3 1389.8h0M1433.5 1354.3h0M1434.3 1345.5h0M1435.4 1375.2h0M1435.7 1355.9h0M1436.1 1334.0h0M1436.1 1333.9h0M1437.2 1355.8h0M1438.8 1345.2h0M1440.2 1338.3h0M1442.9 1336.1h0M1446.1 1349.2h0M1447.7 1328.1h0M1447.8 1324.4h0M1448.3 1333.3h0M1448.6 1315.5h0M1448.8 1288.5h0M1449.5 1330.2h0M1450.8 1309.6h0M1451.7 1297.3h0M1451.7 1311.8h0M1459.7 1279.2h0M1463.7 1271.2h0M1464.0 1291.6h0M1464.5 1291.8h0M1464.9 1285.8h0M1465.5 1290.7h0M1466.4 1300.5h0M1466.4 1304.5h0M1469.2 1274.8h0M1469.4 1289.4h0M1469.9 1307.4h0M1469.9 1301.0h0M1470.0 1292.3h0M1470.5 1291.0h0M1471.7 1274.6h0M1472.5 1286.9h0M1472.9 1294.2h0M1473.9 1290.4h0M1475.6 1306.3h0M1477.0 1305.4h0M1477.0 1302.6h0M1477.2 1281.6h0M1478.9 1278.7h0M1478.9 1288.2h0M1479.5 1295.7h0M1479.8 1274.2h0M1480.7 1267.0h0M1480.7 1285.3h0M1481.4 1293.1h0M1482.3 1255.0h0M1482.3 1284.7h0M1484.0 1252.5h0M1485.1 1264.4h0M1485.4 1275.6h0M1486.0 1259.3h0M1486.4 1259.1h0M1487.6 1272.6h0M1488.2 1266.8h0M1491.2 1267.9h0M1491.4 1281.3h0M1491.8 1258.2h0M1492.5 1275.7h0M1493.0 1260.9h0M1493.8 1269.8h0M1493.8 1262.6h0M1494.6 1278.1h0M1495.9 1283.9h0M1495.9 1262.5h0M1496.0 1283.7h0M1496.1 1259.2h0M1497.2 1278.0h0M1497.5 1262.8h0M1497.8 1276.2h0M1499.4 1285.2h0M1500.0 1291.0h0M1500.8 1287.4h0M1501.0 1282.7h0M1502.0 1266.1h0M1502.1 1297.3h0M1503.1 1286.1h0M1504.4 1291.5h0M1505.4 1306.0h0M1509.0 1313.9h0M1509.2 1278.1h0M1510.3 1302.0h0M1510.5 1310.6h0M1511.2 1307.2h0M1513.6 1314.9h0M1513.7 1302.9h0M1514.0 1313.4h0M1516.0 1311.2h0M1518.9 1325.3h0M1519.8 1310.0h0M1520.9 1329.3h0M1521.7 1319.9h0M1528.5 1327.1h0M1528.9 1325.6h0M1529.1 1364.6h0M1530.9 1347.4h0M1530.9 1326.4h0M1531.7 1343.9h0M1532.5 1344.7h0M1532.9 1330.9h0M1534.6 1320.2h0M1534.6 1328.6h0M1534.8 1341.8h0M1537.0 1359.8h0M1538.7 1357.2h0M1538.7 1364.0h0M1538.9 1350.6h0M1539.1 1355.1h0M1540.5 1381.0h0M1540.7 1374.0h0M1542.5 1371.3h0M1542.6 1371.9h0M1544.2 1359.3h0M1545.1 1362.4h0M1548.2 1369.4h0M1548.4 1370.6h0M1548.5 1373.2h0M1549.5 1363.3h0M1550.9 1394.7h0M1550.9 1370.5h0M1552.4 1380.2h0M1554.9 1368.8h0M1556.0 1365.8h0M1556.3 1385.3h0M1556.5 1386.9h0M1557.4 1368.6h0M1558.9 1355.3h0M1559.0 1363.8h0M1559.3 1370.7h0M1560.1 1345.9h0M1565.7 1374.5h0M1566.7 1347.0h0M1566.9 1359.1h0M1567.5 1348.8h0M1567.8 1356.9h0M1568.4 1351.7h0M1569.3 1360.8h0M1572.4 1347.4h0M1572.4 1357.1h0M1573.1 1376.1h0M1573.4 1382.0h0M1576.5 1343.7h0M1576.8 1341.1h0M1577.0 1362.4h0M1578.9 1342.7h0M1580.2 1334.4h0M1581.6 1354.6h0M1583.6 1332.4h0M1584.3 1344.5h0M1585.0 1352.0h0M1586.7 1353.8h0M1586.8 1340.7h0M1587.3 1364.6h0M1589.9 1342.1h0M1590.0 1332.7h0M1591.6 1332.4h0M1592.3 1372.7h0M1592.4 1318.5h0M1593.5 1331.3h0M1593.5 1347.7h0M1594.6 1345.8h0M1594.6 1313.7h0M1595.4 1356.0h0M1595.8 1310.8h0M1596.0 1324.0h0M1596.8 1299.7h0M1598.3 1344.2h0M1599.8 1350.3h0M1602.0 1331.0h0M1602.2 1320.9h0M1602.3 1319.5h0M1603.1 1346.1h0M1603.4 1311.0h0M1603.5 1318.3h0M1603.6 1334.4h0M1604.3 1313.8h0M1604.4 1291.6h0M1606.8 1313.8h0M1607.2 1291.4h0M1608.4 1306.3h0M1608.5 1283.9h0M1609.2 1320.8h0M1612.0 1269.3h0M1613.5 1253.6h0M1613.7 1272.4h0M1615.1 1276.9h0M1615.3 1256.2h0M1616.5 1245.1h0M1618.9 1253.1h0M1619.5 1267.0h0M1621.1 1260.1h0M1621.6 1253.8h0M1621.7 1261.7h0M1622.4 1242.0h0M1623.6 1248.1h0M1624.0 1243.9h0M1624.0 1260.7h0M1625.6 1218.8h0M1626.3 1252.8h0M1626.3 1257.4h0M1626.9 1262.3h0M1627.9 1241.7h0M1628.4 1259.0h0M1629.5 1242.8h0M1629.8 1228.2h0M1629.9 1224.1h0M1633.3 1218.7h0M1633.4 1255.2h0M1634.0 1236.9h0M1635.1 1247.2h0M1635.6 1255.9h0M1636.0 1209.1h0M1636.6 1230.0h0M1639.1 1219.3h0M1640.1 1268.6h0M1641.5 1213.9h0M1643.0 1203.3h0M1643.6 1246.6h0M1644.5 1200.1h0M1644.6 1220.0h0M1646.2 1235.0h0M1646.3 1219.0h0M1646.9 1222.7h0M1650.4 1237.8h0M1654.6 1211.0h0M1655.1 1239.8h0M1657.0 1229.2h0M1657.9 1213.4h0M1659.3 1186.5h0M1662.0 1242.2h0M1662.2 1230.4h0M1663.7 1236.4h0M1666.0 1235.5h0M1667.4 1219.3h0M1669.5 1226.2h0M1671.0 1243.9h0M1672.0 1237.7h0M1675.2 1252.5h0M1675.5 1258.1h0M1675.7 1253.5h0M1675.9 1277.4h0M1677.6 1237.0h0M1678.3 1250.0h0M1678.7 1270.7h0M1679.1 1268.7h0M1681.8 1249.8h0M1682.0 1262.6h0M1682.6 1273.7h0M1684.8 1229.2h0M1684.9 1248.2h0M1686.2 1283.0h0M1688.8 1269.0h0M1689.5 1269.6h0M1690.4 1264.9h0M1690.9 1253.1h0M1691.0 1253.0h0M1692.7 1267.8h0M1693.9 1263.4h0M1694.0 1266.8h0M1694.4 1287.9h0M1695.5 1290.8h0M1696.6 1275.7h0M1697.3 1254.0h0M1698.2 1278.9h0M1698.3 1300.7h0M1698.4 1279.8h0M1698.9 1285.2h0M1699.2 1284.6h0M1699.3 1285.7h0M1699.7 1283.5h0M1700.0 1258.0h0M1700.4 1276.1h0M1701.0 1305.0h0M1702.2 1306.4h0M1703.9 1272.1h0M1704.5 1274.9h0M1704.5 1273.6h0M1705.5 1317.7h0M1706.3 1288.7h0M1706.3 1297.1h0M1706.9 1296.5h0M1708.4 1299.4h0M1708.9 1286.5h0M1709.3 1316.0h0M1709.5 1280.0h0M1709.9 1295.9h0M1711.2 1300.1h0M1711.6 1317.5h0M1711.7 1278.1h0M1712.2 1309.6h0M1712.4 1293.8h0M1715.1 1287.1h0M1716.0 1261.9h0M1716.6 1259.9h0M1717.3 1286.2h0M1717.5 1260.2h0M1719.1 1269.5h0M1720.0 1273.2h0M1720.7 1275.4h0M1722.8 1272.2h0M1723.5 1292.9h0M1724.2 1290.6h0M1725.9 1255.9h0M1727.0 1276.0h0M1727.1 1259.3h0M1729.0 1263.8h0M1731.0 1262.1h0M1731.5 1259.1h0M1731.6 1271.8h0M1732.4 1266.4h0M1733.2 1256.7h0M1733.6 1282.9h0M1733.6 1259.7h0M1733.8 1253.1h0M1734.2 1265.3h0M1735.7 1258.8h0M1738.5 1262.9h0M1738.9 1289.1h0M1739.7 1271.3h0M1740.6 1261.4h0M1740.8 1270.8h0M1741.9 1254.8h0M1742.6 1249.4h0M1742.9 1278.8h0M1743.4 1280.6h0M1745.3 1294.1h0M1745.8 1258.1h0M1747.6 1294.9h0M1751.7 1264.2h0M1753.7 1239.2h0M1756.9 1265.9h0M1757.1 1266.8h0M1757.5 1275.0h0M1759.4 1283.0h0M1760.6 1238.4h0M1761.7 1242.5h0M1761.8 1253.9h0M1762.0 1256.1h0M1762.0 1255.0h0M1762.9 1248.9h0M1768.6 1232.6h0M1769.6 1224.9h0M1769.7 1208.0h0M1771.3 1215.4h0M1771.8 1212.5h0M1771.9 1216.7h0M1772.1 1214.5h0M1776.8 1205.1h0M1779.0 1188.3h0M1779.1 1205.7h0M1779.2 1197.2h0M1780.7 1208.6h0M1782.2 1170.6h0M1782.8 1203.6h0M1782.9 1198.6h0M1784.1 1184.2h0M1785.4 1182.8h0M1786.2 1165.7h0M1786.6 1190.3h0M1787.0 1199.8h0M1787.5 1191.8h0M1790.4 1190.1h0M1791.1 1182.2h0M1791.1 1193.4h0M1793.6 1139.7h0M1794.4 1178.6h0M1794.4 1165.0h0M1794.7 1209.0h0M1795.3 1175.1h0M1795.3 1181.2h0M1795.5 1183.2h0M1796.9 1190.2h0M1796.9 1174.1h0M1797.8 1161.3h0M1798.2 1175.5h0M1799.1 1170.6h0M1800.6 1164.4h0M1801.2 1164.0h0M1802.9 1169.6h0M1807.7 1141.4h0M1809.3 1178.1h0M1810.6 1141.7h0M1812.8 1120.6h0M1813.6 1133.3h0M1816.6 1135.7h0M1817.1 1131.6h0M1819.7 1131.9h0M1819.9 1154.1h0M1820.4 1145.2h0M1820.7 1162.9h0M1821.2 1170.7h0M1821.2 1148.2h0M1821.3 1143.8h0M1822.5 1147.6h0M1823.1 1160.9h0M1823.4 1171.6h0M1824.3 1136.3h0M1825.0 1163.0h0M1828.3 1136.2h0M1828.7 1180.8h0M1828.7 1164.8h0M1829.5 1163.8h0M1830.0 1203.2h0M1832.4 1163.0h0M1834.7 1166.7h0M1835.1 1157.7h0M1836.0 1170.4h0M1836.8 1192.4h0M1838.4 1169.8h0M1839.7 1176.4h0M1840.1 1160.4h0M1840.3 1169.4h0M1841.8 1192.8h0M1845.8 1205.9h0M1846.0 1214.9h0M1846.6 1212.6h0M1846.9 1217.1h0M1848.2 1188.1h0M1848.6 1188.6h0M1849.2 1219.3h0M1850.4 1211.4h0M1851.5 1215.4h0M1852.7 1217.0h0M1853.6 1203.5h0M1853.8 1192.9h0M1854.3 1187.9h0M1857.2 1197.3h0M1857.5 1219.4h0M1858.2 1195.7h0M1858.9 1222.4h0M1859.6 1223.6h0M1860.0 1216.9h0M1860.2 1220.5h0M1861.1 1197.7h0M1861.6 1198.4h0M1863.1 1218.2h0M1865.3 1221.9h0M1865.8 1195.7h0M1871.6 1226.1h0M1873.0 1234.3h0M1874.5 1245.1h0M1874.9 1218.4h0M1875.2 1236.7h0M1875.7 1238.7h0M1875.8 1255.0h0M1876.5 1242.0h0M1877.3 1253.7h0M1879.1 1245.9h0M1880.7 1250.6h0M1880.9 1239.5h0M1882.1 1214.6h0M1882.7 1195.1h0M1883.3 1228.7h0M1885.2 1186.7h0M1885.6 1231.9h0M1885.9 1235.1h0M1886.3 1234.5h0M1886.4 1220.1h0M1886.6 1213.7h0M1886.8 1225.8h0M1887.1 1228.6h0M1889.4 1216.0h0M1891.9 1209.8h0M1892.1 1220.7h0M1892.7 1266.3h0M1893.8 1232.7h0M1895.8 1247.7h0M1895.9 1221.1h0M1896.1 1218.4h0M1897.8 1185.2h0M1897.8 1229.8h0M1898.5 1173.3h0M1898.8 1214.3h0M1899.2 1232.0h0M1899.3 1221.4h0M1899.9 1221.6h0M1900.1 1219.9h0M1901.0 1207.5h0M1901.5 1215.0h0M1902.1 1216.6h0M1903.8 1180.7h0M1904.2 1239.3h0M1904.5 1232.6h0M1905.0 1204.2h0M1905.6 1221.2h0M1908.3 1211.3h0M1908.5 1230.5h0M1908.6 1218.1h0M1909.0 1247.4h0M1909.6 1224.3h0M1909.9 1207.0h0M1910.7 1226.2h0M1912.1 1191.6h0M1912.6 1204.7h0M1912.7 1244.8h0M1912.8 1220.2h0M1914.2 1210.5h0M1914.4 1211.6h0M1914.6 1218.8h0M1915.8 1218.5h0M1916.4 1206.8h0M1917.4 1209.9h0M1919.0 1208.5h0M1919.4 1199.4h0M1920.6 1214.6h0M1922.0 1240.3h0M1925.2 1169.9h0M1931.0 1175.6h0M1931.5 1177.4h0M1932.7 1180.4h0M1932.9 1157.5h0M1934.0 1166.3h0M1935.6 1164.6h0M1935.8 1135.8h0M1938.3 1155.4h0M1938.4 1132.8h0M1943.2 1130.0h0M1944.2 1141.6h0M1945.4 1120.6h0M1946.0 1154.2h0M1947.4 1121.3h0M1947.6 1171.3h0M1947.8 1126.8h0M1948.3 1095.3h0M1948.4 1139.0h0M1948.7 1122.0h0M1949.2 1147.6h0M1950.8 1079.7h0M1951.8 1131.6h0M1952.6 1143.3h0M1954.1 1121.8h0M1954.4 1138.3h0M1956.8 1107.4h0M1957.1 1126.1h0M1957.3 1137.6h0M1957.5 1114.4h0M1957.6 1100.0h0M1958.3 1111.7h0M1959.0 1120.3h0M1960.5 1153.0h0M1962.0 1129.2h0M1962.6 1101.2h0M1963.4 1094.5h0M1963.5 1128.4h0M1964.9 1130.9h0M1965.1 1158.1h0M1966.8 1099.9h0M1966.9 1114.8h0M1967.0 1085.5h0M1968.8 1125.5h0M1969.0 1107.2h0M1970.6 1099.2h0M1973.1 1085.5h0M1977.2 1064.1h0M1980.7 1095.4h0M1982.2 1051.1h0M1983.3 1074.0h0M1986.8 1065.5h0M1987.2 1097.9h0M1987.7 1073.7h0M1987.8 1091.8h0M1990.6 1094.3h0M1994.3 1099.9h0M1994.6 1087.9h0M1995.0 1111.9h0M1998.0 1088.9h0M1998.3 1104.0h0M1999.4 1117.9h0M1999.9 1108.3h0M2000.3 1126.5h0M2004.7 1120.1h0M2005.7 1107.9h0M2005.8 1130.3h0M2006.2 1146.2h0M2006.7 1140.0h0M2006.8 1139.5h0M2006.9 1158.4h0M2007.0 1121.8h0M2007.4 1102.3h0M2008.5 1150.8h0M2011.3 1145.3h0M2011.4 1183.8h0M2013.1 1139.7h0M2013.7 1138.7h0M2015.3 1132.1h0M2017.3 1145.3h0M2018.2 1170.4h0M2019.2 1141.1h0M2019.6 1157.8h0M2022.9 1149.5h0M2023.6 1164.5h0M2024.6 1125.0h0M2025.2 1160.8h0M2025.3 1144.4h0M2027.2 1194.2h0M2027.5 1166.8h0M2027.7 1179.3h0M2027.8 1193.7h0M2028.4 1179.7h0M2028.5 1172.2h0M2029.2 1146.2h0M2029.2 1157.2h0M2029.9 1146.7h0M2030.0 1192.5h0M2032.7 1162.9h0M2034.9 1169.5h0M2039.0 1154.4h0M2039.8 1181.6h0M2041.1 1179.2h0M2042.8 1167.6h0M2042.8 1176.4h0M2044.6 1160.3h0M2045.5 1156.4h0M2045.6 1162.5h0M2046.4 1165.2h0M2048.2 1149.8h0M2049.0 1156.4h0M2049.8 1157.4h0M2055.1 1143.9h0M2055.3 1137.6h0M2055.8 1156.1h0M2057.1 1116.1h0M2057.1 1134.7h0M2057.1 1155.2h0M2057.7 1132.2h0M2058.2 1102.0h0M2061.5 1114.1h0M2062.2 1120.8h0M2062.5 1162.9h0M248.8 1511.2h0" stroke="#000" stroke-width="9" stroke-linecap="round" fill="none"/>
<polyline points="243.8,1788.3 245.1,1788.2 246.4,1788.2 247.7,1788.2 249.0,1788.1 250.3,1788.1 251.6,1788.2 252.9,1788.2 254.2,1788.2 255.5,1788.1 256.8,1787.9 258.1,1787.5 259.4,1787.0 260.7,1786.3 262.0,1785.4 263.3,1784.3 264.6,1783.0 265.9,1781.6 267.2,1779.9 268.5,1777.9 269.8,1775.5 271.1,1772.7 272.4,1769.4 273.7,1765.7 275.0,1761.4 276.3,1756.9 277.6,1752.0 278.9,1747.0 280.2,1742.0 281.5,1737.1 282.8,1732.3 284.1,1727.9 285.5,1723.7 286.8,1719.8 288.1,1716.3 289.4,1713.0 290.7,1710.1 292.0,1707.5 293.3,1705.3 294.6,1703.4 295.9,1701.9 297.2,1700.6 298.5,1699.6 299.8,1698.8 301.1,1698.2 302.4,1697.5 303.7,1696.9 305.0,1696.3 306.3,1695.7 307.6,1695.0 308.9,1694.3 310.2,1693.6 311.5,1692.8 312.8,1692.0 314.1,1691.1 315.4,1690.3 316.7,1689.4 318.0,1688.4 319.3,1687.4 320.6,1686.3 321.9,1685.2 323.2,1684.1 324.5,1682.9 325.8,1681.9 327.1,1680.9 328.4,1680.1 329.7,1679.5 331.0,1679.2 332.3,1679.1 333.6,1679.4 334.9,1680.0 336.2,1680.8 337.5,1681.8 338.8,1683.0 340.1,1684.4 341.4,1686.0 342.7,1687.6 344.0,1689.4 345.3,1691.3 346.6,1693.2 347.9,1695.3 349.2,1697.5 350.5,1699.8 351.8,1702.1 353.1,1704.5 354.4,1706.9 355.7,1709.3 357.0,1711.6 358.3,1713.9 359.6,1716.3 360.9,1718.6 362.2,1720.9 363.5,1723.1 364.8,1725.4 366.1,1727.6 367.4,1729.8 368.8,1731.9 370.1,1733.9 371.4,1735.8 372.7,1737.7 374.0,1739.4 375.3,1741.0 376.6,1742.5 377.9,1743.9 379.2,1745.2 380.5,1746.3 381.8,1747.3 383.1,1748.1 384.4,1748.6 385.7,1748.9 387.0,1748.9 388.3,1748.7 389.6,1748.3 390.9,1747.6 392.2,1746.8 393.5,1745.9 394.8,1744.9 396.1,1743.9 397.4,1742.7 398.7,1741.5 400.0,1740.3 401.3,1739.0 402.6,1737.7 403.9,1736.5 405.2,1735.3 406.5,1734.2 407.8,1733.3 409.1,1732.5 410.4,1732.0 411.7,1731.6 413.0,1731.3 414.3,1731.2 415.6,1731.2 416.9,1731.2 418.2,1731.3 419.5,1731.3 420.8,1731.2 422.1,1731.0 423.4,1730.7 424.7,1730.2 426.0,1729.5 427.3,1728.6 428.6,1727.6 429.9,1726.3 431.2,1724.9 432.5,1723.3 433.8,1721.4 435.1,1719.1 436.4,1716.4 437.7,1713.1 439.0,1709.5 440.3,1705.3 441.6,1700.8 442.9,1696.0 444.2,1691.0 445.5,1686.0 446.8,1681.0 448.1,1676.3 449.4,1671.7 450.8,1667.5 452.1,1663.6 453.4,1660.0 454.7,1656.7 456.0,1653.7 457.3,1651.1 458.6,1648.8 459.9,1646.8 461.2,1645.2 462.5,1643.9 463.8,1642.9 465.1,1642.0 466.4,1641.4 467.7,1640.7 469.0,1640.1 470.3,1639.5 471.6,1638.9 472.9,1638.2 474.2,1637.5 475.5,1636.8 476.8,1636.0 478.1,1635.2 479.4,1634.4 480.7,1633.5 482.0,1632.6 483.3,1631.7 484.6,1630.6 485.9,1629.6 487.2,1628.5 488.5,1627.4 489.8,1626.2 491.1,1625.1 492.4,1624.1 493.7,1623.3 495.0,1622.6 496.3,1622.3 497.6,1622.2 498.9,1622.4 500.2,1622.9 501.5,1623.7 502.8,1624.7 504.1,1625.9 505.4,1627.3 506.7,1628.8 508.0,1630.4 509.3,1632.2 510.6,1634.0 511.9,1636.0 513.2,1638.0 514.5,1640.2 515.8,1642.5 517.1,1644.8 518.4,1647.2 519.7,1649.5 521.0,1651.9 522.3,1654.3 523.6,1656.6 524.9,1658.9 526.2,1661.2 527.5,1663.5 528.8,1665.8 530.1,1668.1 531.4,1670.3 532.7,1672.5 534.1,1674.6 535.4,1676.7 536.7,1678.6 538.0,1680.4 539.3,1682.2 540.6,1683.8 541.9,1685.3 543.2,1686.8 544.5,1688.1 545.8,1689.2 547.1,1690.2 548.4,1691.0 549.7,1691.6 551.0,1692.0 552.3,1692.0 553.6,1691.9 554.9,1691.5 556.2,1690.8 557.5,1690.1 558.8,1689.2 560.1,1688.2 561.4,1687.1 562.7,1686.0 564.0,1684.8 565.3,1683.6 566.6,1682.3 567.9,1681.0 569.2,1679.8 570.5,1678.6 571.8,1677.5 573.1,1676.5 574.4,1675.8 575.7,1675.1 577.0,1674.7 578.3,1674.5 579.6,1674.3 580.9,1674.3 582.2,1674.3 583.5,1674.4 584.8,1674.3 586.1,1674.3 587.4,1674.1 588.7,1673.8 590.0,1673.4 591.3,1672.7 592.6,1671.9 593.9,1670.9 595.2,1669.7 596.5,1668.3 597.8,1666.7 599.1,1664.9 600.4,1662.6 601.7,1660.0 603.0,1656.8 604.3,1653.2 605.6,1649.2 606.9,1644.7 608.2,1640.0 609.5,1635.0 610.8,1630.0 612.1,1625.0 613.4,1620.2 614.7,1615.6 616.0,1611.3 617.4,1607.3 618.7,1603.7 620.0,1600.3 621.3,1597.3 622.6,1594.6 623.9,1592.2 625.2,1590.2 626.5,1588.6 627.8,1587.2 629.1,1586.1 630.4,1585.3 631.7,1584.6 633.0,1583.9 634.3,1583.3 635.6,1582.7 636.9,1582.1 638.2,1581.4 639.5,1580.7 640.8,1580.0 642.1,1579.3 643.4,1578.5 644.7,1577.6 646.0,1576.8 647.3,1575.9 648.6,1574.9 649.9,1573.9 651.2,1572.9 652.5,1571.8 653.8,1570.6 655.1,1569.5 656.4,1568.4 657.7,1567.4 659.0,1566.5 660.3,1565.8 661.6,1565.4 662.9,1565.3 664.2,1565.4 665.5,1565.9 666.8,1566.6 668.1,1567.6 669.4,1568.7 670.7,1570.1 672.0,1571.6 673.3,1573.2 674.6,1574.9 675.9,1576.7 677.2,1578.7 678.5,1580.7 679.8,1582.9 681.1,1585.1 682.4,1587.5 683.7,1589.8 685.0,1592.2 686.3,1594.6 687.6,1596.9 688.9,1599.3 690.2,1601.6 691.5,1603.9 692.8,1606.2 694.1,1608.5 695.4,1610.7 696.7,1613.0 698.0,1615.2 699.4,1617.3 700.7,1619.4 702.0,1621.3 703.3,1623.2 704.6,1624.9 705.9,1626.6 707.2,1628.2 708.5,1629.6 709.8,1630.9 711.1,1632.1 712.4,1633.2 713.7,1634.0 715.0,1634.6 716.3,1635.0 717.6,1635.1 718.9,1635.0 720.2,1634.6 721.5,1634.1 722.8,1633.3 724.1,1632.4 725.4,1631.5 726.7,1630.4 728.0,1629.3 729.3,1628.1 730.6,1626.9 731.9,1625.6 733.2,1624.3 734.5,1623.1 735.8,1621.9 737.1,1620.8 738.4,1619.8 739.7,1619.0 741.0,1618.3 742.3,1617.9 743.6,1617.6 744.9,1617.4 746.2,1617.4 747.5,1617.4 748.8,1617.4 750.1,1617.4 751.4,1617.4 752.7,1617.2 754.0,1617.0 755.3,1616.5 756.6,1615.9 757.9,1615.1 759.2,1614.2 760.5,1613.0 761.8,1611.6 763.1,1610.1 764.4,1608.3 765.7,1606.2 767.0,1603.6 768.3,1600.5 769.6,1597.0 770.9,1593.0 772.2,1588.7 773.5,1583.9 774.8,1579.0 776.1,1574.0 777.4,1569.0 778.7,1564.1 780.0,1559.5 781.3,1555.2 782.7,1551.1 784.0,1547.4 785.3,1544.0 786.6,1540.9 787.9,1538.1 789.2,1535.7 790.5,1533.6 791.8,1531.9 793.1,1530.5 794.4,1529.4 795.7,1528.5 797.0,1527.8 798.3,1527.1 799.6,1526.5 800.9,1525.9 802.2,1525.3 803.5,1524.6 804.8,1524.0 806.1,1523.2 807.4,1522.5 808.7,1521.7 810.0,1520.9 811.3,1520.0 812.6,1519.1 813.9,1518.2 815.2,1517.2 816.5,1516.1 817.8,1515.1 819.1,1513.9 820.4,1512.8 821.7,1511.7 823.0,1510.7 824.3,1509.7 825.6,1509.0 826.9,1508.5 828.2,1508.4 829.5,1508.5 830.8,1508.9 832.1,1509.6 833.4,1510.5 834.7,1511.6 836.0,1512.9 837.3,1514.4 838.6,1516.0 839.9,1517.7 841.2,1519.5 842.5,1521.4 843.8,1523.4 845.1,1525.6 846.4,1527.8 847.7,1530.1 849.0,1532.5 850.3,1534.9 851.6,1537.2 852.9,1539.6 854.2,1541.9 855.5,1544.3 856.8,1546.6 858.1,1548.9 859.4,1551.2 860.7,1553.4 862.0,1555.7 863.3,1557.9 864.7,1560.0 866.0,1562.1 867.3,1564.1 868.6,1565.9 869.9,1567.7 871.2,1569.4 872.5,1571.0 873.8,1572.4 875.1,1573.8 876.4,1575.0 877.7,1576.1 879.0,1577.0 880.3,1577.6 881.6,1578.0 882.9,1578.2 884.2,1578.1 885.5,1577.8 886.8,1577.3 888.1,1576.5 889.4,1575.7 890.7,1574.7 892.0,1573.7 893.3,1572.6 894.6,1571.4 895.9,1570.2 897.2,1568.9 898.5,1567.6 899.8,1566.4 901.1,1565.2 902.4,1564.1 903.7,1563.0 905.0,1562.2 906.3,1561.5 907.6,1561.0 908.9,1560.7 910.2,1560.5 911.5,1560.5 912.8,1560.5 914.1,1560.5 915.4,1560.5 916.7,1560.5 918.0,1560.4 919.3,1560.1 920.6,1559.7 921.9,1559.1 923.2,1558.4 924.5,1557.4 925.8,1556.3 927.1,1555.0 928.4,1553.5 929.7,1551.7 931.0,1549.7 932.3,1547.2 933.6,1544.2 934.9,1540.8 936.2,1536.9 937.5,1532.6 938.8,1527.9 940.1,1523.0 941.4,1518.0 942.7,1513.0 944.0,1508.1 945.3,1503.4 946.6,1499.0 948.0,1494.9 949.3,1491.1 950.6,1487.7 951.9,1484.5 953.2,1481.7 954.5,1479.2 955.8,1477.1 957.1,1475.3 958.4,1473.8 959.7,1472.6 961.0,1471.7 962.3,1471.0 963.6,1470.3 964.9,1469.7 966.2,1469.1 967.5,1468.5 968.8,1467.8 970.1,1467.2 971.4,1466.5 972.7,1465.7 974.0,1464.9 975.3,1464.1 976.6,1463.3 977.9,1462.4 979.2,1461.4 980.5,1460.5 981.8,1459.4 983.1,1458.3 984.4,1457.2 985.7,1456.1 987.0,1455.0 988.3,1453.9 989.6,1453.0 990.9,1452.2 992.2,1451.7 993.5,1451.5 994.8,1451.5 996.1,1451.9 997.4,1452.5 998.7,1453.4 1000.0,1454.5 1001.3,1455.7 1002.6,1457.2 1003.9,1458.8 1005.2,1460.4 1006.5,1462.2 1007.8,1464.1 1009.1,1466.1 1010.4,1468.3 1011.7,1470.5 1013.0,1472.8 1014.3,1475.1 1015.6,1477.5 1016.9,1479.9 1018.2,1482.2 1019.5,1484.6 1020.8,1486.9 1022.1,1489.2 1023.4,1491.5 1024.7,1493.8 1026.0,1496.1 1027.3,1498.3 1028.6,1500.6 1029.9,1502.7 1031.3,1504.8 1032.6,1506.8 1033.9,1508.7 1035.2,1510.5 1036.5,1512.2 1037.8,1513.8 1039.1,1515.3 1040.4,1516.6 1041.7,1517.9 1043.0,1519.0 1044.3,1519.9 1045.6,1520.6 1046.9,1521.1 1048.2,1521.3 1049.5,1521.2 1050.8,1521.0 1052.1,1520.5 1053.4,1519.8 1054.7,1518.9 1056.0,1518.0 1057.3,1517.0 1058.6,1515.9 1059.9,1514.7 1061.2,1513.5 1062.5,1512.3 1063.8,1511.0 1065.1,1509.7 1066.4,1508.5 1067.7,1507.3 1069.0,1506.3 1070.3,1505.4 1071.6,1504.7 1072.9,1504.2 1074.2,1503.8 1075.5,1503.6 1076.8,1503.6 1078.1,1503.6 1079.4,1503.6 1080.7,1503.6 1082.0,1503.6 1083.3,1503.5 1084.6,1503.2 1085.9,1502.9 1087.2,1502.3 1088.5,1501.6 1089.8,1500.7 1091.1,1499.6 1092.4,1498.3 1093.7,1496.9 1095.0,1495.2 1096.3,1493.2 1097.6,1490.7 1098.9,1487.9 1100.2,1484.5 1101.5,1480.7 1102.8,1476.5 1104.1,1471.9 1105.4,1467.0 1106.7,1462.0 1108.0,1456.9 1109.3,1452.1 1110.6,1447.3 1111.9,1442.9 1113.3,1438.7 1114.6,1434.9 1115.9,1431.4 1117.2,1428.2 1118.5,1425.3 1119.8,1422.7 1121.1,1420.5 1122.4,1418.7 1123.7,1417.2 1125.0,1415.9 1126.3,1415.0 1127.6,1414.2 1128.9,1413.5 1130.2,1412.9 1131.5,1412.3 1132.8,1411.7 1134.1,1411.0 1135.4,1410.4 1136.7,1409.7 1138.0,1408.9 1139.3,1408.2 1140.6,1407.3 1141.9,1406.5 1143.2,1405.6 1144.5,1404.7 1145.8,1403.7 1147.1,1402.7 1148.4,1401.6 1149.7,1400.5 1151.0,1399.4 1152.3,1398.3 1153.6,1397.2 1154.9,1396.2 1156.2,1395.4 1157.5,1394.9 1158.8,1394.6 1160.1,1394.6 1161.4,1394.9 1162.7,1395.4 1164.0,1396.3 1165.3,1397.3 1166.6,1398.6 1167.9,1400.0 1169.2,1401.5 1170.5,1403.2 1171.8,1405.0 1173.1,1406.9 1174.4,1408.8 1175.7,1410.9 1177.0,1413.2 1178.3,1415.4 1179.6,1417.8 1180.9,1420.2 1182.2,1422.5 1183.5,1424.9 1184.8,1427.2 1186.1,1429.6 1187.4,1431.9 1188.7,1434.2 1190.0,1436.5 1191.3,1438.8 1192.6,1441.0 1193.9,1443.2 1195.2,1445.4 1196.6,1447.5 1197.9,1449.5 1199.2,1451.4 1200.5,1453.2 1201.8,1455.0 1203.1,1456.6 1204.4,1458.1 1205.7,1459.5 1207.0,1460.7 1208.3,1461.9 1209.6,1462.8 1210.9,1463.6 1212.2,1464.1 1213.5,1464.3 1214.8,1464.3 1216.1,1464.1 1217.4,1463.7 1218.7,1463.0 1220.0,1462.2 1221.3,1461.2 1222.6,1460.3 1223.9,1459.2 1225.2,1458.0 1226.5,1456.8 1227.8,1455.6 1229.1,1454.3 1230.4,1453.0 1231.7,1451.8 1233.0,1450.6 1234.3,1449.6 1235.6,1448.7 1236.9,1447.9 1238.2,1447.4 1239.5,1447.0 1240.8,1446.7 1242.1,1446.7 1243.4,1446.6 1244.7,1446.7 1246.0,1446.7 1247.3,1446.7 1248.6,1446.6 1249.9,1446.4 1251.2,1446.0 1252.5,1445.5 1253.8,1444.9 1255.1,1444.0 1256.4,1442.9 1257.7,1441.7 1259.0,1440.2 1260.3,1438.6 1261.6,1436.6 1262.9,1434.3 1264.2,1431.5 1265.5,1428.2 1266.8,1424.5 1268.1,1420.4 1269.4,1415.8 1270.7,1411.0 1272.0,1406.0 1273.3,1400.9 1274.6,1396.0 1275.9,1391.3 1277.2,1386.8 1278.6,1382.5 1279.9,1378.6 1281.2,1375.1 1282.5,1371.8 1283.8,1368.9 1285.1,1366.3 1286.4,1364.0 1287.7,1362.1 1289.0,1360.5 1290.3,1359.2 1291.6,1358.2 1292.9,1357.4 1294.2,1356.7 1295.5,1356.1 1296.8,1355.5 1298.1,1354.9 1299.4,1354.2 1300.7,1353.6 1302.0,1352.9 1303.3,1352.2 1304.6,1351.4 1305.9,1350.6 1307.2,1349.7 1308.5,1348.9 1309.8,1348.0 1311.1,1347.0 1312.4,1346.0 1313.7,1344.9 1315.0,1343.8 1316.3,1342.7 1317.6,1341.6 1318.9,1340.5 1320.2,1339.5 1321.5,1338.6 1322.8,1338.0 1324.1,1337.7 1325.4,1337.6 1326.7,1337.9 1328.0,1338.4 1329.3,1339.2 1330.6,1340.2 1331.9,1341.4 1333.2,1342.8 1334.5,1344.3 1335.8,1346.0 1337.1,1347.7 1338.4,1349.6 1339.7,1351.6 1341.0,1353.6 1342.3,1355.8 1343.6,1358.1 1344.9,1360.4 1346.2,1362.8 1347.5,1365.2 1348.8,1367.6 1350.1,1369.9 1351.4,1372.2 1352.7,1374.6 1354.0,1376.9 1355.3,1379.2 1356.6,1381.4 1357.9,1383.7 1359.2,1385.9 1360.5,1388.1 1361.9,1390.2 1363.2,1392.3 1364.5,1394.2 1365.8,1396.0 1367.1,1397.7 1368.4,1399.4 1369.7,1400.9 1371.0,1402.3 1372.3,1403.6 1373.6,1404.8 1374.9,1405.8 1376.2,1406.5 1377.5,1407.1 1378.8,1407.4 1380.1,1407.4 1381.4,1407.3 1382.7,1406.8 1384.0,1406.2 1385.3,1405.4 1386.6,1404.5 1387.9,1403.5 1389.2,1402.5 1390.5,1401.3 1391.8,1400.1 1393.1,1398.9 1394.4,1397.6 1395.7,1396.3 1397.0,1395.1 1398.3,1393.9 1399.6,1392.8 1400.9,1391.9 1402.2,1391.1 1403.5,1390.5 1404.8,1390.1 1406.1,1389.9 1407.4,1389.8 1408.7,1389.7 1410.0,1389.8 1411.3,1389.8 1412.6,1389.8 1413.9,1389.7 1415.2,1389.5 1416.5,1389.2 1417.8,1388.7 1419.1,1388.1 1420.4,1387.2 1421.7,1386.2 1423.0,1385.0 1424.3,1383.6 1425.6,1382.0 1426.9,1380.1 1428.2,1377.8 1429.5,1375.1 1430.8,1372.0 1432.1,1368.3 1433.4,1364.2 1434.7,1359.7 1436.0,1354.9 1437.3,1350.0 1438.6,1344.9 1439.9,1340.0 1441.2,1335.2 1442.5,1330.6 1443.8,1326.4 1445.2,1322.4 1446.5,1318.8 1447.8,1315.5 1449.1,1312.5 1450.4,1309.8 1451.7,1307.5 1453.0,1305.5 1454.3,1303.8 1455.6,1302.5 1456.9,1301.5 1458.2,1300.6 1459.5,1299.9 1460.8,1299.3 1462.1,1298.7 1463.4,1298.1 1464.7,1297.5 1466.0,1296.8 1467.3,1296.1 1468.6,1295.4 1469.9,1294.6 1471.2,1293.8 1472.5,1293.0 1473.8,1292.1 1475.1,1291.2 1476.4,1290.3 1477.7,1289.2 1479.0,1288.2 1480.3,1287.1 1481.6,1286.0 1482.9,1284.8 1484.2,1283.7 1485.5,1282.7 1486.8,1281.9 1488.1,1281.2 1489.4,1280.8 1490.7,1280.7 1492.0,1280.9 1493.3,1281.4 1494.6,1282.1 1495.9,1283.1 1497.2,1284.3 1498.5,1285.6 1499.8,1287.1 1501.1,1288.8 1502.4,1290.5 1503.7,1292.3 1505.0,1294.3 1506.3,1296.3 1507.6,1298.5 1508.9,1300.8 1510.2,1303.1 1511.5,1305.5 1512.8,1307.8 1514.1,1310.2 1515.4,1312.6 1516.7,1314.9 1518.0,1317.2 1519.3,1319.5 1520.6,1321.8 1521.9,1324.1 1523.2,1326.4 1524.5,1328.6 1525.8,1330.8 1527.2,1332.9 1528.5,1335.0 1529.8,1336.9 1531.1,1338.8 1532.4,1340.5 1533.7,1342.2 1535.0,1343.7 1536.3,1345.2 1537.6,1346.5 1538.9,1347.6 1540.2,1348.7 1541.5,1349.5 1542.8,1350.1 1544.1,1350.4 1545.4,1350.5 1546.7,1350.4 1548.0,1350.0 1549.3,1349.4 1550.6,1348.7 1551.9,1347.8 1553.2,1346.8 1554.5,1345.8 1555.8,1344.6 1557.1,1343.5 1558.4,1342.2 1559.7,1340.9 1561.0,1339.6 1562.3,1338.4 1563.6,1337.2 1564.9,1336.1 1566.2,1335.1 1567.5,1334.3 1568.8,1333.7 1570.1,1333.3 1571.4,1333.0 1572.7,1332.8 1574.0,1332.8 1575.3,1332.8 1576.6,1332.9 1577.9,1332.9 1579.2,1332.8 1580.5,1332.6 1581.8,1332.4 1583.1,1331.9 1584.4,1331.3 1585.7,1330.5 1587.0,1329.5 1588.3,1328.3 1589.6,1326.9 1590.9,1325.4 1592.2,1323.6 1593.5,1321.4 1594.8,1318.7 1596.1,1315.7 1597.4,1312.1 1598.7,1308.1 1600.0,1303.7 1601.3,1298.9 1602.6,1293.9 1603.9,1288.9 1605.2,1284.0 1606.5,1279.1 1607.8,1274.5 1609.1,1270.2 1610.5,1266.2 1611.8,1262.5 1613.1,1259.1 1614.4,1256.1 1615.7,1253.3 1617.0,1250.9 1618.3,1248.9 1619.6,1247.2 1620.9,1245.8 1622.2,1244.7 1623.5,1243.8 1624.8,1243.1 1626.1,1242.5 1627.4,1241.9 1628.7,1241.3 1630.0,1240.7 1631.3,1240.0 1632.6,1239.3 1633.9,1238.6 1635.2,1237.8 1636.5,1237.0 1637.8,1236.2 1639.1,1235.4 1640.4,1234.5 1641.7,1233.5 1643.0,1232.5 1644.3,1231.5 1645.6,1230.4 1646.9,1229.3 1648.2,1228.1 1649.5,1227.0 1650.8,1226.0 1652.1,1225.1 1653.4,1224.4 1654.7,1223.9 1656.0,1223.8 1657.3,1223.9 1658.6,1224.4 1659.9,1225.1 1661.2,1226.0 1662.5,1227.1 1663.8,1228.5 1665.1,1229.9 1666.4,1231.5 1667.7,1233.3 1669.0,1235.1 1670.3,1237.0 1671.6,1239.0 1672.9,1241.2 1674.2,1243.4 1675.5,1245.8 1676.8,1248.1 1678.1,1250.5 1679.4,1252.9 1680.7,1255.2 1682.0,1257.6 1683.3,1259.9 1684.6,1262.2 1685.9,1264.5 1687.2,1266.8 1688.5,1269.0 1689.8,1271.3 1691.1,1273.5 1692.5,1275.6 1693.8,1277.7 1695.1,1279.7 1696.4,1281.5 1697.7,1283.3 1699.0,1285.0 1700.3,1286.5 1701.6,1288.0 1702.9,1289.3 1704.2,1290.5 1705.5,1291.6 1706.8,1292.4 1708.1,1293.1 1709.4,1293.5 1710.7,1293.6 1712.0,1293.5 1713.3,1293.2 1714.6,1292.6 1715.9,1291.9 1717.2,1291.0 1718.5,1290.1 1719.8,1289.0 1721.1,1287.9 1722.4,1286.8 1723.7,1285.5 1725.0,1284.2 1726.3,1283.0 1727.6,1281.7 1728.9,1280.5 1730.2,1279.4 1731.5,1278.4 1732.8,1277.6 1734.1,1276.9 1735.4,1276.4 1736.7,1276.1 1738.0,1275.9 1739.3,1275.9 1740.6,1275.9 1741.9,1275.9 1743.2,1275.9 1744.5,1275.9 1745.8,1275.8 1747.1,1275.5 1748.4,1275.1 1749.7,1274.5 1751.0,1273.7 1752.3,1272.8 1753.6,1271.6 1754.9,1270.3 1756.2,1268.8 1757.5,1267.0 1758.8,1264.9 1760.1,1262.3 1761.4,1259.3 1762.7,1255.9 1764.0,1251.9 1765.3,1247.6 1766.6,1242.9 1767.9,1237.9 1769.2,1232.9 1770.5,1227.9 1771.8,1223.1 1773.1,1218.4 1774.4,1214.1 1775.8,1210.0 1777.1,1206.2 1778.4,1202.8 1779.7,1199.7 1781.0,1196.9 1782.3,1194.4 1783.6,1192.3 1784.9,1190.6 1786.2,1189.1 1787.5,1188.0 1788.8,1187.1 1790.1,1186.3 1791.4,1185.7 1792.7,1185.1 1794.0,1184.5 1795.3,1183.9 1796.6,1183.2 1797.9,1182.5 1799.2,1181.8 1800.5,1181.1 1801.8,1180.3 1803.1,1179.5 1804.4,1178.6 1805.7,1177.7 1807.0,1176.8 1808.3,1175.8 1809.6,1174.7 1810.9,1173.7 1812.2,1172.5 1813.5,1171.4 1814.8,1170.3 1816.1,1169.3 1817.4,1168.3 1818.7,1167.6 1820.0,1167.1 1821.3,1166.9 1822.6,1167.0 1823.9,1167.3 1825.2,1168.0 1826.5,1168.9 1827.8,1170.0 1829.1,1171.3 1830.4,1172.7 1831.7,1174.3 1833.0,1176.0 1834.3,1177.8 1835.6,1179.7 1836.9,1181.7 1838.2,1183.9 1839.5,1186.1 1840.8,1188.4 1842.1,1190.8 1843.4,1193.2 1844.7,1195.5 1846.0,1197.9 1847.3,1200.2 1848.6,1202.6 1849.9,1204.9 1851.2,1207.2 1852.5,1209.5 1853.8,1211.7 1855.1,1214.0 1856.4,1216.2 1857.7,1218.3 1859.1,1220.4 1860.4,1222.4 1861.7,1224.3 1863.0,1226.1 1864.3,1227.7 1865.6,1229.3 1866.9,1230.8 1868.2,1232.2 1869.5,1233.4 1870.8,1234.5 1872.1,1235.4 1873.4,1236.1 1874.7,1236.5 1876.0,1236.7 1877.3,1236.6 1878.6,1236.3 1879.9,1235.8 1881.2,1235.1 1882.5,1234.3 1883.8,1233.3 1885.1,1232.3 1886.4,1231.2 1887.7,1230.1 1889.0,1228.8 1890.3,1227.6 1891.6,1226.3 1892.9,1225.0 1894.2,1223.8 1895.5,1222.7 1896.8,1221.6 1898.1,1220.8 1899.4,1220.1 1900.7,1219.6 1902.0,1219.2 1903.3,1219.1 1904.6,1219.0 1905.9,1219.0 1907.2,1219.0 1908.5,1219.0 1909.8,1219.0 1911.1,1218.9 1912.4,1218.6 1913.7,1218.3 1915.0,1217.7 1916.3,1217.0 1917.6,1216.0 1918.9,1214.9 1920.2,1213.6 1921.5,1212.1 1922.8,1210.4 1924.1,1208.4 1925.4,1205.9 1926.7,1203.0 1928.0,1199.6 1929.3,1195.8 1930.6,1191.5 1931.9,1186.9 1933.2,1181.9 1934.5,1176.9 1935.8,1171.9 1937.1,1167.0 1938.4,1162.4 1939.7,1157.9 1941.1,1153.8 1942.4,1150.0 1943.7,1146.5 1945.0,1143.3 1946.3,1140.5 1947.6,1137.9 1948.9,1135.8 1950.2,1134.0 1951.5,1132.5 1952.8,1131.3 1954.1,1130.3 1955.4,1129.5 1956.7,1128.9 1958.0,1128.3 1959.3,1127.7 1960.6,1127.1 1961.9,1126.4 1963.2,1125.7 1964.5,1125.0 1965.8,1124.3 1967.1,1123.5 1968.4,1122.7 1969.7,1121.8 1971.0,1121.0 1972.3,1120.0 1973.6,1119.1 1974.9,1118.0 1976.2,1116.9 1977.5,1115.8 1978.8,1114.7 1980.1,1113.6 1981.4,1112.5 1982.7,1111.6 1984.0,1110.8 1985.3,1110.2 1986.6,1110.0 1987.9,1110.0 1989.2,1110.3 1990.5,1110.9 1991.8,1111.8 1993.1,1112.9 1994.4,1114.1 1995.7,1115.6 1997.0,1117.1 1998.3,1118.8 1999.6,1120.6 2000.9,1122.5 2002.2,1124.5 2003.5,1126.6 2004.8,1128.8 2006.1,1131.1 2007.4,1133.4 2008.7,1135.8 2010.0,1138.2 2011.3,1140.5 2012.6,1142.9 2013.9,1145.2 2015.2,1147.5 2016.5,1149.8 2017.8,1152.1 2019.1,1154.4 2020.4,1156.6 2021.7,1158.9 2023.0,1161.0 2024.4,1163.1 2025.7,1165.1 2027.0,1167.0 2028.3,1168.8 2029.6,1170.5 2030.9,1172.1 2032.2,1173.6 2033.5,1175.0 2034.8,1176.3 2036.1,1177.4 2037.4,1178.3 2038.7,1179.1 2040.0,1179.5 2041.3,1179.8 2042.6,1179.8 2043.9,1179.5 2045.2,1179.0 2046.5,1178.3 2047.8,1177.5 2049.1,1176.6 2050.4,1175.6 2051.7,1174.5 2053.0,1173.4 2054.3,1172.1 2055.6,1170.9 2056.9,1169.6 2058.2,1168.3 2059.5,1167.1 2060.8,1166.0 2062.1,1165.0 2063.4,1164.2 2064.7,1163.5" fill="none" stroke="#f00000" stroke-width="6.5" stroke-linejoin="round" stroke-linecap="round"/>
<rect x="243.8" y="988.9" width="1820.8999999999999" height="921.6999999999999" fill="none" stroke="#404040" stroke-width="1.8"/>
<path d="M409.3 1910.6v-18M409.3 988.9v18M574.9 1910.6v-18M574.9 988.9v18M740.4 1910.6v-18M740.4 988.9v18M905.9 1910.6v-18M905.9 988.9v18M1071.5 1910.6v-18M1071.5 988.9v18M1237.0 1910.6v-18M1237.0 988.9v18M1402.6 1910.6v-18M1402.6 988.9v18M1568.1 1910.6v-18M1568.1 988.9v18M1733.6 1910.6v-18M1733.6 988.9v18M1899.2 1910.6v-18M1899.2 988.9v18M243.8 1757.0h18M2064.7 1757.0h-18M243.8 1603.4h18M2064.7 1603.4h-18M243.8 1449.8h18M2064.7 1449.8h-18M243.8 1296.1h18M2064.7 1296.1h-18M243.8 1142.5h18M2064.7 1142.5h-18" stroke="#404040" stroke-width="1.8" fill="none"/>
<g font-size="40.5" fill="#383838">
<text x="243.8" y="1959.2" text-anchor="middle">2009/04</text>
<text x="409.3" y="1959.2" text-anchor="middle">2010/04</text>
<text x="574.9" y="1959.2" text-anchor="middle">2011/04</text>
<text x="740.4" y="1959.2" text-anchor="middle">2012/04</text>
<text x="905.9" y="1959.2" text-anchor="middle">2013/04</text>
<text x="1071.5" y="1959.2" text-anchor="middle">2014/04</text>
<text x="1237.0" y="1959.2" text-anchor="middle">2015/04</text>
<text x="1402.6" y="1959.2" text-anchor="middle">2016/04</text>
<text x="1568.1" y="1959.2" text-anchor="middle">2017/04</text>
<text x="1733.6" y="1959.2" text-anchor="middle">2018/04</text>
<text x="1899.2" y="1959.2" text-anchor="middle">2019/04</text>
<text x="2064.7" y="1959.2" text-anchor="middle">2020/04</text>
<text x="231.5" y="1005.1" text-anchor="end">60</text>
<text x="231.5" y="1158.7" text-anchor="end">40</text>
<text x="231.5" y="1312.3" text-anchor="end">20</text>
<text x="231.5" y="1466.0" text-anchor="end">0</text>
<text x="231.5" y="1619.6" text-anchor="end">−20</text>
<text x="231.5" y="1773.2" text-anchor="end">−40</text>
<text x="231.5" y="1926.8" text-anchor="end">−60</text>
</g>
<text x="1154" y="2003" font-size="46" text-anchor="middle" fill="#383838">Time</text>
<text transform="translate(151.6,1449) rotate(-90)" font-size="46" text-anchor="middle" fill="#383838">XCH<tspan font-size="32" dy="14">4</tspan><tspan dy="-14"> residual (ppb)</tspan></text>
</svg></body></html>
